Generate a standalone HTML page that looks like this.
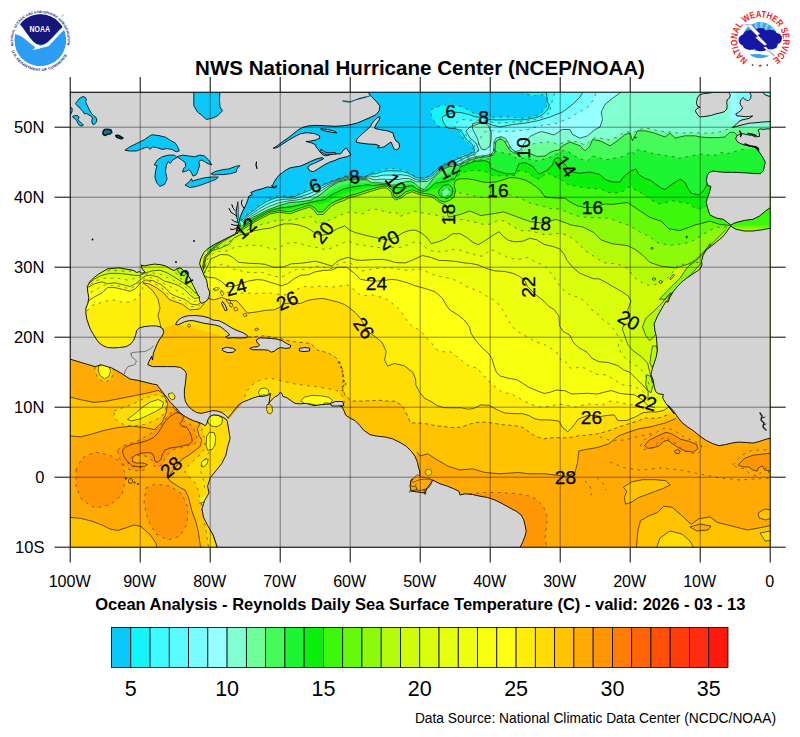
<!DOCTYPE html>
<html><head><meta charset="utf-8"><title>NHC SST</title>
<style>html,body{margin:0;padding:0;background:#fff;}svg{display:block;}text{font-family:"Liberation Sans",sans-serif;}</style>
</head><body>
<svg width="800" height="737" viewBox="0 0 800 737">
<rect width="800" height="737" fill="#fff"/>
<defs><clipPath id="mc"><rect x="70.2" y="92.2" width="700.0" height="455.0"/></clipPath></defs>
<g clip-path="url(#mc)">
<rect x="69" y="91" width="703" height="458" fill="#ffc300"/>
<polygon points="150.0,328.0 162.0,327.0 177.0,324.0 200.0,330.0 230.0,338.0 248.0,337.0 256.9,336.4 264.3,335.7 274.5,337.6 282.4,339.1 288.8,340.8 297.5,342.2 305.2,342.8 310.9,343.6 317.7,350.3 328.3,352.9 335.7,357.6 339.6,361.9 342.3,369.6 343.5,378.9 342.3,387.0 344.8,394.9 351.6,401.1 361.3,401.1 371.1,400.7 379.1,400.3 386.8,401.0 395.6,401.3 402.5,406.1 407.0,414.9 410.4,422.9 418.8,422.9 428.8,424.2 436.4,426.0 442.2,426.2 451.0,427.6 461.5,427.2 470.5,423.8 479.2,422.1 486.7,422.2 493.6,423.3 502.7,424.7 513.4,425.6 521.8,427.0 528.3,431.4 535.4,436.4 543.9,438.8 554.4,437.6 564.4,437.9 570.6,437.4 578.3,435.9 588.8,435.0 597.3,433.7 604.7,432.0 612.4,429.5 619.2,426.9 626.6,424.5 635.8,421.6 645.5,418.0 653.8,418.2 659.9,417.6 670.0,414.0 792.0,414.0 792.0,80.0 150.0,80.0 150.0,328.0" fill="#ffdc05"/>
<polygon points="207.5,298.0 213.7,299.9 221.8,297.4 228.8,300.4 236.8,300.7 242.3,307.0 247.3,313.1 255.7,312.1 265.7,310.3 273.8,309.9 279.1,307.7 284.6,303.7 292.2,302.6 300.2,303.5 307.1,300.6 314.5,299.2 322.2,298.4 330.6,300.2 338.1,302.2 344.6,304.4 350.4,308.5 355.1,312.5 360.4,318.2 365.3,327.0 369.6,332.9 375.1,336.7 382.0,342.3 386.2,351.4 384.6,360.0 387.7,366.1 394.5,363.5 404.3,365.8 412.8,372.3 415.6,379.0 415.9,385.2 419.9,392.6 424.8,398.5 431.5,401.7 437.1,405.6 443.4,407.6 452.2,407.8 461.2,407.8 468.1,409.2 473.9,408.4 481.0,404.8 489.3,405.4 497.1,409.8 504.8,413.0 514.0,413.6 523.2,413.7 529.5,415.8 534.2,418.6 540.5,419.9 549.7,419.9 558.9,421.1 562.9,427.9 567.7,431.7 572.7,426.9 578.3,419.0 586.9,415.8 594.1,415.2 600.4,416.5 607.2,415.4 614.3,414.9 617.8,420.7 626.8,420.4 635.0,417.1 643.1,412.7 650.5,411.8 656.2,412.0 663.5,410.5 672.0,405.0 792.0,405.0 792.0,80.0 205.5,80.0 205.5,298.0" fill="#ffee0a"/>
<polygon points="206.6,287.5 207.1,288.7 208.1,288.9 209.2,289.1 211.9,289.2 216.1,289.2 219.0,289.4 220.3,289.8 221.3,290.3 222.1,290.8 223.0,291.4 223.9,291.8 224.9,292.0 226.2,292.1 229.3,292.5 233.5,293.4 235.9,294.0 236.9,294.0 237.9,294.0 238.8,293.9 239.6,293.8 240.4,293.6 241.3,293.4 242.2,293.2 243.1,293.0 244.2,292.9 245.4,292.8 246.9,292.9 248.6,293.1 253.9,293.6 262.5,293.1 267.4,293.1 270.1,293.1 273.7,293.4 276.4,293.9 278.0,294.2 279.7,294.5 281.4,294.7 283.0,294.7 284.2,294.8 285.2,294.8 286.3,294.5 287.5,294.1 288.6,293.5 289.8,292.9 291.4,292.1 293.2,291.2 296.4,289.5 300.9,287.8 303.7,287.1 304.5,286.7 305.2,286.5 306.2,286.5 307.5,286.7 309.1,286.9 310.7,287.0 312.3,287.0 314.0,286.9 315.5,286.7 316.7,286.5 317.9,286.4 319.2,286.2 320.4,286.1 321.7,286.0 323.6,286.2 326.0,286.5 328.5,286.8 331.0,286.9 333.4,286.9 335.7,286.8 337.9,286.6 340.0,286.2 342.0,285.6 344.0,285.1 345.8,284.8 347.3,285.0 348.3,285.3 349.3,285.8 350.2,286.3 351.1,286.9 352.2,287.9 353.6,289.1 355.0,290.4 356.3,291.6 357.1,292.4 357.9,293.1 358.7,293.8 359.5,294.4 360.2,294.9 360.9,295.3 361.7,295.6 362.5,295.6 363.3,295.6 364.4,295.5 365.5,295.5 366.7,295.4 367.9,295.2 369.3,295.1 370.6,295.0 372.1,295.0 373.7,295.1 375.4,295.6 377.0,296.1 378.5,296.6 379.9,296.9 381.2,297.3 382.3,297.5 383.4,297.8 384.4,298.2 385.5,298.7 386.8,299.5 388.2,300.5 389.7,301.4 392.8,303.7 397.2,307.4 399.6,310.1 400.8,311.4 401.9,313.0 403.0,314.6 404.1,316.2 405.1,317.8 406.0,319.1 406.8,320.1 407.3,320.9 407.8,321.7 408.4,322.6 411.5,325.5 417.8,329.2 421.3,331.8 422.3,332.8 423.7,334.2 425.3,336.0 426.8,337.9 428.2,339.8 429.3,341.1 430.2,342.1 431.0,342.8 431.9,343.6 432.8,344.4 433.6,345.2 434.2,346.0 434.8,346.9 435.6,348.0 436.6,349.2 437.8,350.2 439.1,351.0 440.3,351.6 450.9,351.9 467.6,365.1 478.7,368.8 479.1,369.8 479.5,370.7 479.9,371.5 480.3,372.3 480.7,373.0 481.2,373.7 481.6,374.3 482.1,374.9 482.7,375.4 483.4,376.0 484.3,376.4 485.1,376.9 486.0,377.5 486.8,378.0 487.5,378.7 488.1,379.5 488.8,380.3 489.4,381.3 490.0,382.3 490.7,383.3 491.5,384.2 492.5,385.1 493.9,386.0 495.4,387.2 496.9,388.3 498.3,389.4 499.7,390.3 500.9,391.3 502.2,392.2 503.6,392.9 505.4,393.2 507.1,393.2 508.8,393.2 510.6,393.6 512.5,394.5 514.3,395.6 516.2,396.5 517.9,397.3 519.2,398.0 520.0,398.6 520.8,399.2 522.0,399.9 523.3,400.6 524.8,401.4 526.3,402.0 527.9,402.6 530.1,403.5 532.8,404.8 535.2,405.8 537.1,406.4 539.1,406.8 541.2,406.9 543.5,406.9 545.8,406.7 548.1,406.4 550.3,406.1 552.3,405.6 554.2,405.1 556.1,404.6 557.8,404.3 559.5,404.1 563.1,404.4 568.4,405.6 571.5,406.1 572.4,406.5 573.5,406.8 574.8,407.0 576.6,406.8 578.6,406.3 580.7,405.7 583.0,405.1 585.3,404.6 587.7,404.3 590.4,404.1 593.2,404.1 595.6,404.3 597.8,404.5 599.7,404.7 601.4,404.8 602.8,404.6 604.1,404.2 605.5,403.6 607.0,402.8 608.6,401.9 610.3,401.2 611.8,401.0 613.0,401.2 614.1,401.4 615.3,401.6 616.4,401.9 617.6,402.2 618.8,402.4 620.0,402.6 621.3,402.9 625.6,403.9 631.6,404.8 635.3,404.7 636.8,404.7 638.3,404.9 640.0,405.1 641.6,405.5 643.2,406.1 644.6,406.8 646.0,407.5 647.4,408.2 649.0,408.9 650.5,409.5 652.0,410.0 653.2,410.5 655.2,408.9 792.0,408.9 792.0,80.0 204.6,80.0 204.6,287.5" fill="#ffff14"/>
<polygon points="205.6,277.0 214.8,277.9 221.3,281.4 227.2,286.8 234.2,286.3 240.5,283.9 248.6,281.0 256.8,279.6 263.5,280.1 272.1,282.9 281.4,285.8 287.8,283.6 293.5,279.2 300.5,275.3 308.2,274.8 315.3,271.8 323.8,270.4 331.6,270.1 338.0,267.2 346.6,267.2 354.5,273.4 360.4,279.3 367.3,280.6 377.3,281.1 386.6,280.1 391.3,279.4 397.4,280.0 407.4,282.8 414.9,285.7 419.7,287.0 426.3,288.8 435.4,292.0 442.6,298.5 446.3,305.3 450.0,310.1 456.8,314.2 464.3,320.0 469.5,327.1 471.1,333.4 475.2,339.9 481.9,347.5 488.1,353.0 491.9,358.6 494.4,367.2 496.7,372.8 500.7,376.2 509.0,378.4 516.7,379.6 522.3,383.0 528.8,387.3 536.4,390.5 544.2,393.5 550.4,392.2 556.1,390.1 564.7,390.7 571.8,394.0 578.5,393.7 587.6,393.3 597.4,394.0 604.2,392.2 611.3,390.6 619.5,393.3 627.1,394.3 634.2,394.7 641.6,399.3 648.3,405.8 655.0,407.5 792.0,407.5 792.0,80.0 203.6,80.0 203.6,277.0" fill="#f7ff0f"/>
<polygon points="204.6,275.5 206.4,276.7 206.9,275.6 207.4,274.5 207.8,273.4 208.1,272.3 208.4,271.2 209.2,270.1 210.7,268.9 212.5,267.7 214.4,266.6 216.3,265.7 218.4,265.0 220.3,264.7 221.6,264.4 222.7,264.3 223.8,264.2 224.9,264.3 226.0,264.7 229.6,267.0 233.7,269.3 237.7,269.7 239.2,270.0 240.3,270.4 241.2,271.0 242.3,271.5 243.9,271.8 245.8,272.0 247.9,272.2 250.4,272.4 252.8,272.5 255.0,272.5 256.9,272.5 258.3,272.4 259.3,272.4 260.2,272.4 261.0,272.4 262.0,272.5 263.4,272.9 265.1,273.3 267.1,274.0 269.5,274.8 272.6,275.8 275.4,276.5 279.2,276.9 283.7,276.3 287.2,274.4 290.3,272.1 292.7,270.6 294.5,269.9 296.3,269.4 297.8,269.2 299.0,269.1 300.2,269.1 301.6,269.2 303.4,269.3 305.2,269.2 307.0,268.9 308.8,268.4 310.9,267.6 312.8,267.0 314.6,266.6 316.6,266.4 318.7,266.4 320.8,266.6 322.8,267.0 324.7,267.5 326.7,268.0 328.6,268.4 330.4,268.5 332.0,268.1 333.5,267.3 334.7,266.4 336.1,265.4 337.7,264.4 339.6,263.4 341.7,262.7 343.9,262.3 346.1,262.3 347.9,262.5 349.4,262.8 351.1,263.6 353.0,264.9 354.7,266.2 356.2,267.5 357.4,268.7 358.6,269.6 359.9,270.4 361.4,270.9 363.1,270.9 365.1,270.6 367.4,270.1 370.0,269.6 375.4,268.6 383.0,267.8 386.7,267.7 388.1,267.7 389.3,267.7 390.3,267.7 391.2,267.9 392.1,268.1 392.9,268.4 393.7,268.6 394.7,268.6 396.3,268.8 398.4,269.2 400.7,269.6 403.1,270.0 405.5,270.2 407.8,270.3 409.8,270.3 411.4,270.1 412.5,269.8 413.5,269.5 414.8,269.3 416.3,269.0 417.9,268.9 419.7,269.1 421.7,269.6 423.8,270.4 426.0,271.4 428.2,272.4 430.1,273.3 431.7,273.9 433.1,274.5 434.5,274.9 436.0,275.4 437.9,275.9 439.9,276.5 441.7,276.9 443.5,277.2 445.3,277.5 447.0,277.8 448.4,278.1 449.5,278.3 450.5,278.5 451.5,278.7 452.4,279.0 453.5,279.4 454.7,280.0 455.8,280.4 457.0,280.9 458.3,281.6 459.6,282.3 460.9,283.0 464.0,285.2 469.2,287.7 473.0,289.2 474.6,289.5 475.8,289.9 476.8,290.3 477.9,290.7 479.0,291.3 480.1,291.9 481.3,292.6 482.4,293.3 483.5,294.0 484.6,294.8 485.7,295.6 486.8,296.2 488.0,296.9 489.2,297.7 490.3,298.2 491.3,298.6 492.2,299.0 493.1,299.5 494.1,300.2 495.2,301.0 496.3,301.9 497.2,302.8 498.0,303.8 498.9,304.8 499.7,305.8 500.4,306.6 501.0,307.5 501.6,308.4 502.2,309.2 502.8,310.3 503.7,311.8 504.8,313.6 505.9,315.6 508.4,320.6 512.4,327.0 518.9,332.2 528.1,337.4 533.0,340.2 533.9,340.7 534.8,341.1 535.7,341.6 536.6,342.0 537.3,342.5 543.2,343.9 552.8,349.6 558.4,354.1 558.8,355.0 559.3,356.0 559.7,357.1 560.1,358.2 560.4,359.3 560.9,360.4 561.7,361.2 562.7,361.5 563.8,361.7 565.0,361.8 566.0,362.1 566.8,362.9 567.3,364.0 567.8,365.1 568.3,366.2 568.9,367.0 569.7,367.5 570.6,367.9 571.6,368.2 572.6,368.4 573.8,368.4 575.4,368.0 577.3,367.6 581.5,366.9 587.9,369.3 591.5,371.8 592.9,372.7 594.2,373.4 595.5,373.9 596.7,374.3 598.0,374.5 599.5,374.6 601.1,374.5 602.9,374.6 604.3,374.8 605.5,375.2 606.6,375.7 607.7,376.2 608.9,376.7 610.2,377.3 611.6,378.0 613.3,378.9 615.2,380.1 617.2,381.6 619.0,383.0 621.1,384.3 623.5,385.1 625.6,385.4 627.2,385.4 628.9,385.5 630.4,385.7 631.7,385.9 632.6,386.2 633.5,386.6 634.6,387.0 636.3,387.6 638.3,388.4 640.3,389.4 642.1,390.6 643.4,391.8 644.5,393.2 645.3,395.0 646.1,396.9 646.8,398.9 647.4,400.9 646.7,402.7 792.0,402.7 792.0,80.0 202.6,80.0 202.6,275.5" fill="#eeff0f"/>
<polygon points="203.5,274.0 206.8,267.9 210.9,259.0 220.7,254.5 227.9,254.9 232.3,257.1 238.5,262.3 250.0,263.4 259.3,263.7 265.3,264.4 274.1,267.4 283.4,267.0 291.4,263.8 300.4,263.3 308.1,262.3 315.2,261.2 324.3,263.6 331.9,266.2 338.7,260.4 347.9,257.3 356.0,260.0 361.8,260.4 371.4,259.7 382.3,259.3 389.0,260.5 395.5,262.6 405.7,262.9 414.4,259.2 422.4,255.5 431.2,257.5 438.8,260.4 446.8,260.6 456.5,261.5 463.9,262.9 469.7,263.3 478.2,264.9 487.0,268.7 494.9,270.9 504.4,271.4 513.8,273.6 519.7,276.6 524.7,280.6 527.6,286.7 535.1,294.2 543.9,301.2 548.9,306.6 553.9,309.3 559.0,316.1 559.6,326.1 562.8,331.2 569.6,335.0 573.5,342.8 579.1,347.8 586.9,352.2 592.3,358.5 598.8,361.7 608.4,362.5 617.8,365.6 623.5,369.8 630.1,372.5 637.0,379.6 643.7,385.9 648.1,391.5 648.0,401.0 792.0,401.0 792.0,80.0 201.5,80.0 201.5,274.0" fill="#e4ff0f"/>
<polygon points="203.4,271.9 205.2,272.3 205.4,269.9 205.5,267.5 205.6,265.0 205.9,262.6 206.6,260.6 208.1,258.3 210.1,256.0 212.3,254.1 214.6,252.6 216.8,251.7 219.2,251.3 221.7,251.1 224.0,251.1 226.1,251.0 227.9,250.8 229.4,250.3 230.4,249.8 231.3,249.1 232.2,248.5 233.1,247.9 234.1,247.4 235.3,247.0 236.9,246.8 238.8,246.7 240.9,246.6 243.1,246.5 245.0,246.2 246.6,245.7 248.0,245.1 251.8,245.2 257.1,245.4 260.3,245.8 262.2,245.9 264.1,246.4 266.1,247.1 268.3,247.9 271.5,248.9 275.6,249.0 278.7,247.9 281.0,246.7 283.4,245.3 285.9,244.1 289.3,242.9 293.7,242.4 296.9,242.8 299.0,243.4 300.9,243.9 302.5,244.4 303.7,244.8 304.6,245.0 305.4,245.3 306.3,245.6 307.3,245.8 308.2,246.0 309.4,246.2 311.1,246.5 313.3,246.9 315.9,247.4 318.5,248.0 321.2,248.7 323.6,249.2 327.8,249.2 333.4,247.4 337.8,245.2 340.6,243.8 343.5,242.6 346.0,241.7 347.9,241.2 349.3,241.3 350.5,241.8 351.9,242.5 353.6,243.3 355.3,243.9 357.0,244.3 358.6,244.6 360.2,244.7 361.8,244.9 363.2,245.1 364.4,245.4 365.9,245.8 368.0,246.2 370.6,246.5 373.4,246.9 376.1,247.2 378.7,247.5 381.0,247.7 382.9,248.0 384.6,248.2 386.3,248.3 388.1,248.0 389.8,247.6 393.3,247.3 398.8,247.4 402.7,247.0 404.7,246.2 406.5,245.4 407.8,244.8 409.0,244.3 410.5,243.6 412.2,242.9 414.0,242.3 416.0,241.8 417.7,241.8 419.2,242.3 420.5,243.0 421.6,243.8 422.6,244.6 423.4,245.5 424.4,246.5 425.7,247.7 427.5,249.0 429.4,250.2 431.1,250.8 432.8,251.0 434.4,251.3 436.1,251.4 438.2,251.6 440.8,251.7 443.4,251.6 445.7,251.2 448.1,250.6 450.6,249.8 453.2,249.4 455.6,249.4 457.7,249.7 459.5,250.0 461.6,250.6 463.7,251.2 465.6,251.9 467.4,252.6 469.1,253.1 471.5,253.6 474.6,254.4 477.3,255.3 479.4,255.9 481.4,256.1 483.2,255.7 484.7,255.0 485.9,254.1 486.7,253.1 487.5,252.2 488.4,251.2 489.3,250.2 490.3,249.6 491.9,249.9 493.9,250.7 496.0,251.7 498.0,252.7 500.0,253.6 502.0,254.4 503.9,255.4 505.7,256.4 507.4,257.2 509.8,258.0 512.8,258.7 515.3,259.1 517.5,259.2 519.7,259.2 521.7,259.0 523.4,258.7 524.9,258.3 526.3,257.8 527.7,257.6 528.9,258.0 530.4,258.9 532.3,260.1 534.3,261.4 536.1,262.5 537.3,263.1 538.4,263.4 539.3,263.7 540.3,263.9 541.2,264.0 542.1,264.3 542.9,264.8 543.9,265.4 544.8,266.0 545.6,266.7 546.3,267.5 546.9,268.3 547.7,269.4 548.8,270.8 551.6,273.9 555.9,280.1 559.7,285.9 562.2,288.5 564.3,290.6 566.5,292.4 568.6,293.9 570.3,294.8 571.5,295.4 572.6,295.8 573.6,296.2 574.5,296.5 575.5,296.7 576.4,296.8 577.4,296.9 578.3,297.0 579.1,297.3 579.9,297.7 580.6,298.2 581.4,298.7 582.2,299.3 583.1,299.9 585.5,302.3 590.5,308.0 593.8,312.0 595.2,312.7 596.5,313.3 597.6,314.1 601.1,317.9 605.9,322.3 609.2,324.0 610.2,324.6 611.1,325.5 611.5,326.7 613.0,328.5 615.4,331.1 616.6,333.3 617.0,334.8 618.6,336.9 620.7,339.6 621.8,341.7 622.0,342.9 621.5,343.5 620.2,343.4 618.6,344.1 618.0,346.5 618.8,349.1 620.1,351.0 621.5,352.9 622.8,354.6 623.8,356.1 624.9,357.6 626.4,359.2 628.2,360.8 630.1,362.1 632.2,363.3 634.1,364.3 635.4,365.1 636.4,365.8 637.4,366.5 638.4,367.2 639.6,368.2 641.1,369.7 642.6,371.6 644.1,373.9 645.7,376.6 647.2,379.7 648.2,382.3 648.9,384.4 649.4,386.2 649.2,386.3 792.0,386.3 792.0,80.0 201.4,80.0 201.4,271.9" fill="#daff0c"/>
<polygon points="202.5,271.5 204.2,266.7 206.1,257.6 212.1,250.5 221.1,247.9 229.0,244.3 233.6,238.3 239.7,235.1 247.4,233.1 254.7,230.6 262.7,229.1 270.9,228.0 277.5,225.7 283.9,223.9 291.3,223.8 299.5,225.2 306.9,227.8 313.4,231.8 320.8,235.4 328.7,234.1 336.8,229.0 344.7,225.9 350.2,230.5 356.3,232.9 363.8,234.8 372.2,236.9 380.3,238.6 387.8,240.0 396.0,237.1 403.1,232.7 409.1,230.5 415.0,230.1 421.2,232.8 427.0,237.4 431.3,243.7 439.3,241.5 446.0,238.6 452.4,233.8 460.1,233.7 466.7,237.4 472.4,242.0 478.2,244.7 483.5,241.7 492.2,235.8 499.1,231.7 503.2,236.4 508.4,240.3 515.0,241.9 523.0,241.2 529.8,238.3 536.8,239.8 544.0,244.4 551.8,246.2 559.6,248.8 564.2,254.3 567.0,260.5 572.8,267.3 579.3,273.0 587.0,276.2 593.3,278.7 598.9,278.8 604.9,281.8 613.8,287.0 622.5,292.1 628.3,296.1 631.1,301.1 627.8,309.7 629.5,317.3 630.0,323.3 623.6,325.2 622.4,329.1 625.5,338.2 628.3,345.3 633.0,350.7 641.0,356.4 647.5,363.1 649.0,369.0 650.7,376.2 652.5,383.0 792.0,383.0 792.0,80.0 200.5,80.0 200.5,271.5" fill="#d0fc0a"/>
<polygon points="203.2,269.1 203.8,269.6 203.6,267.2 203.6,264.7 203.8,262.0 204.3,259.4 205.3,256.8 206.8,254.2 208.5,252.0 210.4,250.2 212.8,249.0 215.5,248.1 218.5,247.4 221.5,246.6 224.2,245.5 226.6,244.2 228.5,242.7 230.1,240.9 231.4,239.0 232.5,237.2 233.7,235.7 235.2,234.6 237.0,233.8 239.0,233.0 241.2,232.3 243.5,231.6 245.7,230.8 247.9,229.9 250.2,228.9 252.4,227.8 254.6,226.9 256.8,226.0 258.9,225.2 261.0,224.6 263.2,224.1 265.3,223.6 267.3,223.1 269.3,222.5 271.4,221.8 273.4,221.3 275.3,220.9 277.4,220.5 279.7,220.3 281.9,220.2 284.1,220.2 286.3,220.3 288.3,220.3 290.0,220.1 291.9,219.9 294.2,219.4 296.8,218.9 299.5,218.3 302.3,217.8 305.1,217.3 307.7,216.9 309.7,216.6 311.1,216.9 312.6,217.9 314.0,219.3 315.0,221.0 316.0,222.5 317.3,223.4 318.8,223.8 320.1,223.5 323.3,222.3 329.5,219.9 334.2,218.1 336.3,216.8 338.0,215.8 339.3,215.3 340.4,214.8 341.6,214.5 342.9,214.1 344.3,213.8 345.5,213.4 346.5,213.0 347.6,212.6 348.7,212.3 349.9,212.1 351.0,211.9 352.3,211.9 355.2,212.6 359.4,213.8 362.4,213.8 364.2,213.1 365.6,212.3 366.8,211.5 368.0,210.7 369.3,209.9 371.1,209.3 377.9,209.4 388.7,212.8 393.7,211.8 394.7,211.9 395.8,212.2 396.8,212.9 397.3,213.9 397.6,215.2 398.1,216.1 399.3,216.4 401.6,215.8 404.5,214.7 407.2,213.8 409.6,212.9 411.7,212.2 413.5,211.8 414.7,211.4 415.6,211.4 416.4,211.7 417.3,212.2 418.3,212.5 419.3,212.8 420.2,212.9 421.2,212.9 422.3,212.8 423.4,212.8 424.5,213.0 425.7,213.4 426.8,213.8 433.6,214.5 442.8,217.0 446.2,217.3 446.9,217.6 447.6,218.1 448.2,218.9 448.8,219.9 449.3,221.1 449.9,222.3 450.6,223.0 451.5,222.9 452.6,222.4 453.8,221.8 455.1,221.2 456.6,220.7 458.2,220.2 459.8,219.8 461.4,219.5 463.5,219.6 466.1,220.2 472.2,221.6 479.4,223.5 484.4,224.6 486.1,224.7 487.8,224.5 489.4,224.1 490.7,223.7 492.1,223.3 493.3,222.8 494.4,222.3 495.4,221.8 496.5,221.3 497.6,220.8 498.7,220.4 499.8,220.2 500.9,220.3 502.1,220.6 503.3,220.9 504.7,221.4 510.2,224.4 518.7,229.8 523.2,230.9 525.0,230.8 526.7,230.6 528.3,230.7 529.5,230.9 530.8,231.1 532.3,231.4 533.7,231.7 535.0,232.1 536.5,232.5 538.4,233.0 540.5,233.6 542.6,234.2 544.6,234.5 547.0,234.6 549.9,234.4 552.6,233.9 555.0,233.6 557.7,233.5 560.2,233.6 562.1,233.8 563.5,234.1 564.9,234.5 566.7,235.2 568.7,236.2 570.7,237.4 572.4,238.7 573.8,239.8 574.8,240.5 575.6,241.2 576.3,241.7 577.2,242.3 578.1,243.0 579.1,244.0 580.4,245.5 581.9,247.3 583.9,249.8 589.4,253.4 596.9,258.3 601.1,261.2 602.8,261.9 604.0,262.5 605.2,262.8 606.6,263.1 608.2,263.4 609.7,263.5 611.2,263.5 612.9,263.6 615.1,263.8 617.7,264.3 620.2,265.0 623.2,266.0 626.1,267.7 627.9,269.2 629.1,270.5 630.2,271.8 631.0,273.0 631.6,273.9 632.3,274.9 633.0,276.0 633.9,277.0 634.8,277.8 636.1,278.8 637.9,280.1 640.1,281.6 642.3,283.0 644.5,284.2 646.4,284.9 647.9,285.1 649.2,285.2 650.6,285.2 652.0,285.2 653.4,285.0 654.8,284.6 656.2,284.1 657.6,283.6 659.1,283.1 660.4,282.6 661.8,282.0 663.0,281.5 664.2,280.9 665.1,280.2 665.9,279.5 666.7,278.7 667.4,278.0 668.1,277.2 668.9,276.5 669.6,275.7 670.4,274.9 671.2,274.0 672.0,273.1 672.8,272.2 673.6,271.1 674.4,270.1 675.1,269.0 675.9,267.9 676.6,266.9 677.3,265.8 678.0,264.9 681.4,264.3 689.6,264.2 699.0,262.0 792.0,262.0 792.0,80.0 201.2,80.0 201.2,269.1" fill="#b4fa0a"/>
<polygon points="203.0,269.0 205.6,257.0 213.0,249.4 222.5,242.0 232.0,236.0 239.0,232.0 249.5,225.0 260.0,219.0 270.5,213.8 279.5,212.2 290.0,213.8 300.5,210.0 309.5,207.0 314.0,210.0 317.0,214.5 323.0,214.5 327.5,210.0 332.0,205.5 338.0,202.5 344.0,200.5 349.0,197.8 358.0,195.5 367.0,192.5 374.5,190.2 382.0,188.0 386.5,188.0 391.0,191.8 392.5,197.0 395.5,200.0 401.5,197.8 406.0,194.0 412.0,191.8 418.0,194.0 424.0,195.5 430.0,196.2 434.5,198.5 439.0,202.2 445.0,204.5 447.2,210.5 448.0,216.5 450.0,217.0 460.0,214.5 470.0,211.0 481.0,215.6 492.5,213.8 503.8,211.9 518.8,217.5 530.0,221.5 540.5,223.0 550.0,221.0 556.2,219.4 571.2,225.0 582.5,226.9 593.8,232.5 601.2,240.0 612.5,243.8 627.5,245.6 635.0,249.4 642.5,255.0 650.0,262.5 661.2,266.2 676.2,268.0 687.5,264.4 695.0,260.6 702.5,253.0 710.0,245.6 717.5,238.0 726.0,229.5 792.0,229.5 792.0,80.0 201.0,80.0 201.0,269.0" fill="#8cfa0a"/>
<polygon points="202.9,267.6 203.4,265.3 203.8,262.9 204.3,260.6 204.8,258.4 205.7,256.5 207.1,254.7 208.7,253.0 210.3,251.3 212.0,249.6 213.7,248.1 215.5,246.6 217.4,245.1 219.2,243.7 221.1,242.2 223.0,240.9 225.0,239.6 227.0,238.4 229.0,237.1 231.0,235.8 233.0,234.6 235.1,233.5 237.1,232.3 239.1,231.0 241.1,229.7 243.1,228.4 245.1,227.1 247.1,225.8 249.0,224.5 251.0,223.3 253.1,222.1 255.1,220.9 257.2,219.8 259.2,218.6 261.3,217.5 263.4,216.4 265.5,215.3 267.6,214.3 269.7,213.3 271.8,212.7 274.1,212.3 276.4,211.9 278.7,211.6 280.9,211.6 283.2,211.9 285.5,212.2 288.0,212.4 290.5,212.3 292.9,211.7 295.1,210.9 297.3,210.1 299.5,209.4 301.8,208.6 304.0,207.8 306.3,207.1 308.3,206.5 310.2,206.6 312.0,207.5 313.7,208.7 315.3,210.2 317.0,211.8 319.4,212.9 322.0,212.8 324.3,211.5 326.2,209.8 327.9,208.1 329.5,206.5 331.2,205.0 333.0,203.8 335.1,202.7 337.2,201.7 339.3,200.9 341.5,200.1 343.8,199.3 346.0,198.2 348.1,197.3 350.2,196.5 352.4,195.9 354.7,195.3 357.0,194.7 359.3,194.0 361.6,193.2 363.8,192.5 366.1,191.7 368.3,191.1 370.6,190.4 372.9,189.7 375.1,189.1 377.4,188.4 379.7,187.8 381.9,187.3 384.1,187.1 386.2,187.3 387.9,188.0 389.6,189.3 391.1,190.9 392.1,192.6 392.9,194.8 394.3,197.0 396.5,198.1 398.9,197.7 401.0,196.6 403.1,195.2 404.9,193.8 406.8,192.7 408.9,191.9 410.9,191.3 412.8,191.3 414.9,191.9 417.2,192.7 419.5,193.3 421.8,194.0 424.2,194.5 426.6,194.8 428.8,195.1 430.9,195.7 433.0,196.6 435.0,197.7 436.7,199.1 438.6,200.6 440.7,201.7 443.0,202.5 444.9,202.9 446.4,202.7 447.5,202.3 448.5,201.6 449.2,200.8 449.7,199.8 450.0,198.6 450.1,197.5 449.9,196.3 449.7,195.2 449.8,194.0 450.2,193.0 451.0,192.3 452.1,191.9 453.2,191.7 457.6,192.5 465.1,194.1 469.4,195.0 470.6,195.2 471.7,195.4 472.9,195.6 474.0,195.9 475.2,196.2 476.6,196.6 480.7,197.2 487.4,197.8 492.0,197.9 494.3,197.7 496.7,197.4 499.0,197.0 501.0,196.6 502.4,196.2 503.5,195.8 504.6,195.4 505.8,195.1 506.9,194.8 508.1,194.8 509.4,194.9 511.0,195.2 513.0,195.8 515.2,196.4 517.5,197.2 519.7,198.0 521.8,198.9 524.0,200.0 526.2,201.0 528.3,202.1 530.3,203.2 534.5,204.4 540.8,205.6 544.4,206.6 545.6,207.5 547.1,208.2 548.8,208.6 550.9,208.7 552.7,208.6 554.3,208.7 555.7,208.7 557.0,208.8 558.2,208.8 559.4,208.8 560.8,209.1 562.6,209.9 564.6,211.0 566.7,212.0 568.8,213.0 571.4,214.0 574.6,215.1 577.3,215.9 579.6,216.4 581.8,216.8 583.8,217.1 585.3,217.2 586.7,217.3 588.2,217.4 590.0,217.4 591.9,217.5 593.8,217.5 595.7,217.6 597.7,217.7 599.6,218.0 601.3,218.3 602.6,218.4 603.8,218.4 604.9,218.2 606.1,218.1 607.3,218.0 611.8,219.3 619.9,222.3 625.1,224.0 627.2,224.6 628.9,225.4 630.3,226.1 631.5,226.8 632.7,227.5 633.6,228.1 634.6,228.8 635.8,229.5 637.5,230.5 639.4,231.7 641.4,232.8 643.1,233.6 644.4,234.1 645.7,234.6 647.3,235.3 649.2,236.4 651.0,237.7 652.7,239.1 654.0,240.2 655.0,241.2 659.2,243.4 670.5,245.2 683.0,243.8 688.7,242.2 690.3,241.9 692.0,241.3 693.8,240.2 695.7,239.1 697.5,237.9 699.5,236.7 701.4,235.5 703.3,234.3 705.1,233.2 707.0,232.2 708.8,231.2 710.7,230.2 712.5,229.2 714.4,228.2 716.1,227.5 717.7,227.3 719.2,227.3 720.7,227.3 722.3,227.2 723.7,227.1 725.0,227.2 726.1,227.3 727.3,227.4 728.5,227.5 792.0,227.5 792.0,80.0 200.9,80.0 200.9,267.6" fill="#64fa0a"/>
<polygon points="202.5,267.5 204.6,256.5 212.0,248.6 221.5,241.0 231.0,235.0 238.0,231.0 248.5,224.0 259.0,217.8 269.5,212.3 279.5,210.5 290.0,211.8 300.5,208.0 309.5,205.0 315.0,208.0 318.0,212.0 322.5,212.0 326.5,208.0 331.0,203.5 337.0,200.5 343.0,198.5 348.5,196.0 357.5,193.5 366.5,190.5 374.0,188.4 382.0,186.2 387.5,186.2 392.5,190.5 394.0,196.0 396.0,198.0 401.0,195.8 405.5,192.0 412.0,189.8 418.0,192.0 424.0,193.5 430.0,194.2 435.0,196.2 439.5,200.5 445.0,202.0 449.5,200.5 454.0,197.0 455.5,191.0 454.0,185.0 455.5,180.5 460.0,178.8 467.5,178.8 475.0,180.0 482.5,182.0 488.8,182.5 496.0,182.0 502.5,180.0 510.0,177.5 517.5,178.0 525.0,180.0 530.0,182.5 535.0,186.0 540.0,190.0 545.0,197.0 555.0,198.0 565.0,198.2 570.0,202.0 577.5,205.8 585.0,207.5 593.0,207.5 605.0,204.0 612.5,204.4 627.5,202.5 638.8,210.0 650.0,217.5 661.2,221.2 668.8,228.8 680.0,230.6 695.0,225.0 710.0,221.2 720.0,224.5 731.0,225.5 792.0,225.5 792.0,80.0 200.5,80.0 200.5,267.5" fill="#3cf80a"/>
<polygon points="243.2,227.0 244.9,225.7 246.6,224.4 248.4,223.2 250.2,222.0 252.1,220.9 253.9,219.8 255.8,218.7 257.7,217.6 259.6,216.6 261.5,215.6 263.4,214.6 265.4,213.6 267.3,212.6 269.2,211.8 271.2,211.2 273.2,210.7 275.4,210.2 277.4,209.8 279.4,209.4 281.4,209.3 283.5,209.3 285.6,209.3 288.0,209.2 290.7,208.9 293.0,208.4 295.1,207.9 297.2,207.3 299.2,206.7 301.3,206.1 303.4,205.5 305.5,205.0 307.5,204.4 309.2,204.0 310.7,203.8 312.4,203.8 314.1,204.0 315.8,204.1 318.9,203.9 323.6,203.2 326.8,202.3 328.2,201.4 329.6,200.4 331.2,199.4 333.0,198.3 334.8,197.4 336.5,196.5 338.4,195.8 340.5,194.9 342.7,194.0 344.8,193.2 346.6,192.5 348.4,191.9 350.4,191.4 352.5,190.9 354.7,190.4 356.8,189.9 359.0,189.4 361.1,188.9 363.2,188.4 365.2,187.9 367.3,187.5 369.3,187.3 371.3,187.1 373.4,186.9 375.5,186.6 377.6,186.2 379.7,185.8 381.7,185.5 383.8,185.5 385.9,185.6 387.8,186.0 389.5,186.8 391.3,187.8 392.9,188.6 394.3,188.9 396.9,189.2 401.2,189.8 404.2,189.9 405.8,189.4 407.7,188.8 409.6,188.2 411.3,188.0 412.9,188.3 414.6,189.1 416.4,190.0 418.4,190.9 420.5,191.5 422.6,192.0 424.7,192.1 426.7,191.9 428.4,191.4 429.9,190.8 431.0,190.1 432.0,189.5 433.3,189.1 435.0,189.0 439.2,187.7 445.4,184.8 449.0,183.2 450.2,182.7 451.4,181.9 452.6,180.8 453.7,180.0 454.9,179.4 456.0,178.5 457.2,177.3 458.3,176.1 459.0,175.0 459.6,174.0 460.7,173.2 462.2,172.6 464.1,172.1 465.9,171.6 467.5,171.2 469.1,170.9 470.8,170.6 472.7,170.5 474.8,170.5 476.6,170.5 478.3,170.6 480.2,170.7 482.7,171.1 486.0,171.8 489.0,172.5 490.5,173.2 491.0,174.2 491.7,175.1 493.6,175.5 496.2,175.7 498.3,175.8 500.2,175.9 502.1,176.0 504.0,176.0 506.0,176.0 507.9,175.8 509.7,175.7 511.5,175.7 513.4,175.6 514.9,175.2 515.8,174.4 516.5,173.4 517.2,172.4 517.8,171.5 518.7,170.9 520.1,170.7 522.0,170.8 524.0,171.2 525.9,171.8 527.4,172.5 528.6,173.2 530.1,174.2 531.6,175.4 532.9,176.6 534.2,177.7 535.8,178.5 537.3,178.8 538.7,178.7 540.0,178.4 541.2,178.0 542.1,177.5 542.9,176.7 543.6,175.9 544.1,175.0 544.4,173.8 544.7,172.8 545.5,172.3 546.8,172.3 548.3,173.1 549.8,174.4 554.0,176.6 560.8,179.8 564.7,181.7 565.6,182.5 566.4,183.3 567.3,184.0 568.4,184.7 569.4,185.2 570.5,185.5 571.5,185.7 572.6,185.8 573.7,185.7 574.9,185.7 577.1,186.3 583.4,187.6 592.4,188.5 597.5,188.8 599.3,188.8 600.7,189.0 601.8,189.3 602.9,189.8 603.9,190.5 604.8,191.2 605.8,191.8 607.3,192.3 609.7,192.6 612.8,192.9 615.5,192.9 617.6,192.8 619.7,192.6 621.5,192.1 623.0,191.3 624.3,190.3 625.4,189.4 626.3,188.7 627.2,188.1 628.1,187.4 629.2,186.9 630.4,186.4 631.3,186.2 632.1,186.5 632.6,187.3 633.2,188.2 633.9,188.9 634.7,189.6 635.8,190.2 637.3,191.0 639.1,191.9 641.0,192.9 642.8,194.0 644.6,195.2 646.4,196.5 648.2,197.7 649.9,199.0 651.7,200.2 654.5,201.7 658.2,203.4 660.9,204.0 662.4,203.6 663.8,203.2 665.3,202.7 666.7,202.3 667.7,201.7 668.7,201.1 669.6,200.6 670.6,200.5 676.0,201.4 685.4,202.9 690.5,204.1 691.3,205.0 692.0,205.9 692.9,206.8 693.9,207.6 695.0,208.2 696.6,208.6 698.5,208.7 700.5,208.6 702.4,208.3 704.1,207.5 705.6,206.6 706.7,205.7 707.4,204.8 708.0,203.9 708.4,202.9 708.9,201.9 709.3,200.9 709.7,199.9 710.1,198.9 710.5,197.9 711.6,196.9 714.0,196.0 792.0,196.0 792.0,80.0 241.2,80.0 241.2,227.0" fill="#0af00a"/>
<polygon points="243.0,226.7 244.4,225.4 245.9,224.1 247.4,222.9 249.0,221.9 250.7,220.8 252.4,219.7 254.1,218.7 255.8,217.7 257.6,216.8 259.3,215.9 261.0,215.0 262.8,214.1 264.6,213.1 266.4,212.2 268.2,211.3 269.6,210.8 271.5,210.2 273.4,209.7 275.3,209.2 277.2,208.7 279.0,208.2 280.3,207.9 282.1,207.7 284.0,207.5 285.9,207.4 287.7,207.2 291.7,206.6 293.6,206.2 295.5,205.8 297.4,205.4 299.3,205.0 301.1,204.6 303.0,204.2 304.9,203.7 306.9,203.3 308.6,202.9 309.9,202.7 310.8,202.4 311.8,202.0 313.1,201.8 314.5,201.5 315.8,201.2 325.3,199.5 326.5,198.5 327.2,197.8 328.2,197.1 329.8,196.0 331.5,194.9 333.2,193.9 334.3,193.3 335.7,192.6 337.5,191.8 339.3,191.0 341.9,189.8 343.7,189.1 345.3,188.6 346.4,188.3 348.3,187.8 350.2,187.3 352.1,187.0 354.0,186.7 356.3,186.4 358.2,186.1 360.1,185.9 362.0,185.6 363.9,185.3 365.5,185.1 367.4,184.8 369.1,184.9 370.6,185.2 372.0,185.6 373.9,185.5 375.8,185.2 377.7,185.0 379.6,184.7 381.5,184.6 383.1,184.7 385.1,184.8 387.0,184.9 388.2,185.3 389.8,186.1 391.4,186.7 393.0,187.1 394.5,187.6 395.6,187.4 403.0,187.8 404.1,187.4 405.8,186.7 407.7,186.3 409.6,185.8 410.9,185.6 412.1,185.9 413.0,186.4 414.3,187.1 415.8,188.1 417.4,189.1 419.2,190.1 421.1,190.7 423.0,191.2 424.8,191.0 426.1,190.4 427.4,189.7 428.6,189.0 429.7,188.3 430.7,187.5 431.3,186.7 431.9,186.0 432.6,185.2 433.5,184.5 434.2,183.9 435.1,183.3 448.3,180.9 449.1,180.3 450.0,179.9 450.9,179.4 451.8,179.0 452.8,178.8 453.8,178.7 454.8,178.5 460.0,167.5 467.5,163.8 475.0,161.2 485.0,160.6 490.0,163.0 490.6,168.0 497.5,171.2 506.2,173.8 515.0,173.8 518.8,163.8 525.0,162.5 532.5,166.2 537.5,172.5 540.0,173.8 547.5,170.0 552.5,165.0 554.5,159.0 558.0,157.5 561.0,159.5 563.0,162.0 566.0,166.0 572.5,172.0 580.0,173.2 590.0,172.0 600.0,174.5 605.0,179.5 612.5,182.0 620.0,182.0 623.8,176.4 631.2,170.8 636.0,168.9 638.8,174.5 644.4,178.2 650.0,180.0 655.6,184.0 660.3,187.6 665.0,189.5 672.5,183.9 680.0,179.2 684.7,182.0 687.5,187.6 691.2,193.2 698.8,195.0 704.4,189.5 708.0,182.0 710.0,176.4 712.0,172.6 792.0,172.6 792.0,80.0 241.0,80.0 241.0,226.7" fill="#1ef532"/>
<polygon points="242.8,226.3 244.3,224.7 245.9,223.2 247.6,221.9 249.5,220.6 251.3,219.4 253.2,218.2 255.2,217.1 257.2,216.1 259.1,215.1 261.1,214.0 263.2,213.0 265.2,212.0 267.2,211.0 269.2,210.2 271.2,209.5 273.4,208.8 275.5,208.1 277.6,207.4 279.7,206.8 281.8,206.3 283.9,205.9 286.1,205.5 288.4,205.1 290.6,204.6 292.9,204.3 295.1,204.0 297.3,203.7 299.5,203.3 301.8,203.0 304.0,202.6 306.2,202.2 308.4,201.8 310.6,201.3 312.7,200.6 314.6,199.9 316.6,199.1 318.6,198.3 320.6,197.5 322.8,196.4 325.3,194.9 327.3,193.5 329.0,192.2 330.7,191.0 332.5,189.9 334.3,188.9 336.2,187.9 338.2,186.9 340.1,186.1 342.1,185.4 344.1,184.9 346.1,184.3 348.2,183.8 350.2,183.4 352.2,183.2 354.4,183.1 356.7,183.0 358.9,182.8 361.1,182.7 363.3,182.5 365.4,182.4 367.4,182.6 369.1,183.1 371.0,183.7 373.3,184.0 375.7,184.0 377.9,183.9 380.1,183.8 382.3,183.9 384.5,184.0 386.6,184.3 388.7,184.9 390.8,185.6 393.1,186.0 395.5,186.1 397.6,186.1 399.7,185.8 402.0,185.3 404.5,184.6 406.8,184.1 408.8,183.7 410.5,183.7 412.1,184.1 413.8,185.0 415.5,186.1 417.2,187.5 419.1,188.7 421.4,189.6 423.7,189.8 425.9,189.1 427.8,187.7 429.7,185.9 431.2,184.3 432.5,182.8 433.6,181.6 434.8,180.5 436.1,179.5 437.7,178.6 439.5,177.6 441.3,176.7 443.6,175.7 447.1,173.9 450.8,171.3 453.0,169.5 454.4,168.6 455.8,167.8 457.2,167.1 458.5,166.6 460.0,166.1 461.8,165.3 463.8,164.4 465.8,163.4 467.7,162.5 469.8,161.7 471.9,160.9 473.9,160.2 475.9,159.8 478.1,159.5 480.3,159.2 482.5,159.0 484.5,158.9 486.2,158.8 487.9,158.9 489.6,158.9 491.0,158.6 491.8,157.8 492.1,156.7 491.9,155.5 491.6,154.2 491.4,152.9 491.6,151.8 492.5,151.1 494.0,150.9 495.6,151.2 496.7,151.7 501.0,152.6 508.8,153.8 513.0,154.8 513.6,155.8 514.2,156.7 515.0,157.5 516.0,158.0 517.1,158.4 518.5,158.5 520.5,158.4 522.5,158.2 524.2,158.0 525.7,158.0 527.0,158.2 528.6,158.7 530.5,159.4 532.5,160.3 534.3,161.0 538.4,160.5 545.1,158.9 549.0,157.8 550.1,157.3 551.0,156.7 552.1,156.0 553.4,155.3 555.1,154.6 556.6,154.1 557.8,153.8 558.7,153.2 559.6,152.5 560.6,151.8 561.6,151.3 562.6,150.8 563.8,150.4 565.3,150.6 566.8,151.2 567.9,151.7 569.1,152.1 570.4,152.9 571.7,154.1 575.8,156.6 582.8,159.7 587.1,160.9 588.5,160.2 589.4,159.4 590.1,158.5 590.5,157.5 591.0,156.5 591.7,156.0 592.8,156.0 594.2,156.3 596.0,156.7 598.0,157.4 600.1,158.1 602.1,158.9 603.8,159.6 605.0,159.8 609.8,159.0 618.5,157.5 623.4,156.4 624.4,155.7 625.7,154.9 627.2,153.9 628.8,152.9 630.0,152.1 631.0,151.7 632.0,151.5 632.8,151.7 633.3,152.6 633.6,153.7 634.0,154.3 634.5,154.0 634.9,153.1 635.5,152.1 636.0,151.1 636.6,150.3 637.5,149.9 638.6,149.9 639.7,149.9 640.8,150.1 642.0,150.4 643.3,150.7 644.4,151.0 645.5,151.3 646.6,151.7 647.6,152.0 648.7,152.4 649.7,152.8 656.2,154.0 668.1,156.1 674.5,156.8 675.3,156.8 676.1,157.4 676.9,158.1 677.9,158.5 678.9,158.4 680.0,158.1 681.1,157.8 682.2,157.6 687.3,156.7 696.4,155.0 701.5,154.2 702.6,154.2 703.8,154.3 704.9,154.5 706.0,154.7 707.1,154.9 708.2,155.0 709.3,155.0 710.4,155.1 711.6,155.1 712.7,155.1 713.8,155.1 714.9,155.1 716.1,155.0 717.2,154.9 718.2,154.7 719.1,154.1 719.9,153.4 720.8,152.7 721.8,152.5 722.9,152.6 723.7,153.2 724.5,154.0 727.5,153.6 735.1,151.4 745.0,149.0 792.0,149.0 792.0,80.0 240.8,80.0 240.8,226.3" fill="#46fa5a"/>
<polygon points="242.5,226.0 246.0,222.0 252.5,217.5 267.5,210.0 279.5,205.5 290.0,202.5 300.5,201.8 311.0,200.2 320.0,195.0 329.0,187.5 338.0,182.2 349.0,179.5 358.0,179.8 367.0,179.8 371.5,182.8 379.0,182.8 386.5,183.5 391.0,185.0 397.0,185.0 404.5,182.0 410.5,181.2 415.0,183.5 419.5,188.0 424.0,189.5 428.5,185.0 433.0,179.0 436.0,175.2 442.0,170.0 448.0,167.0 454.0,166.0 460.0,165.0 467.5,161.2 473.8,158.8 480.0,157.5 486.2,156.9 492.5,155.6 495.0,151.9 495.2,146.9 495.6,142.8 497.5,140.0 501.2,139.0 504.4,141.0 506.9,145.6 509.8,150.2 513.8,153.0 518.8,153.8 525.0,153.2 531.0,154.0 537.5,156.5 545.0,156.0 550.0,152.5 555.0,150.5 559.0,150.0 562.5,145.8 570.0,142.0 580.0,145.8 585.0,150.8 590.0,145.8 592.5,139.5 600.0,140.8 610.0,145.8 617.5,140.8 625.0,134.5 630.0,133.2 632.5,140.8 637.5,130.8 645.0,130.8 655.0,133.2 665.0,137.0 670.0,133.2 675.0,138.2 685.0,135.8 695.0,135.8 700.6,137.0 708.0,137.6 717.5,137.6 725.0,137.0 729.7,132.3 734.4,132.3 738.5,137.0 792.0,137.0 792.0,80.0 240.5,80.0 240.5,226.0" fill="#6eff9b"/>
<polygon points="243.8,223.4 244.8,222.3 245.7,221.4 246.7,220.6 248.0,219.7 249.3,218.7 250.7,217.8 251.9,217.0 253.0,216.3 254.3,215.6 255.8,214.8 257.2,214.0 258.6,213.2 260.1,212.4 261.5,211.7 263.0,210.9 264.4,210.1 265.9,209.4 267.1,208.8 268.3,208.3 269.7,207.7 271.3,207.1 272.8,206.5 274.4,205.9 276.0,205.3 277.5,204.7 278.9,204.3 280.2,203.9 281.6,203.5 283.2,203.1 284.8,202.7 286.3,202.4 287.9,202.0 289.2,201.8 290.3,201.6 291.6,201.5 293.2,201.3 294.8,201.2 296.4,201.0 298.0,200.8 299.7,200.6 301.5,200.3 303.2,200.0 304.7,199.7 306.3,199.4 308.7,198.7 312.0,197.6 314.3,196.5 315.8,195.7 317.5,194.7 319.5,193.5 321.0,192.4 322.3,191.5 323.5,190.6 324.7,189.7 326.0,188.8 327.2,187.8 328.3,187.1 329.4,186.4 330.7,185.7 332.2,184.9 333.6,184.1 335.1,183.3 336.5,182.5 337.7,181.9 338.9,181.5 340.4,181.1 342.0,180.7 343.6,180.2 345.3,179.8 346.9,179.4 348.3,179.1 349.5,178.9 350.9,179.0 352.5,179.0 354.2,179.1 355.9,179.1 357.6,179.2 359.3,179.2 361.0,179.3 362.6,179.3 364.3,179.3 365.7,179.2 366.7,179.1 367.2,179.0 367.5,178.9 367.9,179.0 369.9,179.7 373.6,180.8 376.3,181.2 377.7,181.1 378.9,181.1 380.0,181.0 381.4,181.1 382.9,181.1 384.6,181.2 385.9,181.3 386.8,181.4 387.4,181.5 390.7,181.6 396.8,181.5 400.7,181.2 402.1,180.7 403.3,180.4 404.0,180.2 404.5,180.2 405.4,180.2 406.8,180.1 408.3,180.1 409.5,180.0 410.3,180.1 410.7,180.2 411.1,180.4 411.9,180.9 413.3,181.5 414.6,182.1 415.4,182.5 419.1,182.5 425.9,182.1 429.8,181.4 430.6,180.5 431.5,179.5 432.5,178.4 433.5,177.3 434.5,176.1 435.4,175.0 436.4,174.1 437.6,173.0 438.9,171.9 440.1,170.8 441.2,169.9 442.3,169.3 443.6,168.6 445.0,167.8 446.5,167.1 447.7,166.6 448.8,166.2 450.2,165.9 451.8,165.6 454.7,165.1 458.9,164.3 461.6,163.5 463.0,162.7 464.4,162.0 465.8,161.2 467.2,160.5 468.6,159.9 470.1,159.4 471.5,158.8 473.0,158.3 474.4,157.9 475.9,157.6 477.5,157.3 479.0,157.0 480.6,156.8 482.1,156.6 483.7,156.4 485.3,156.2 486.9,156.0 488.4,155.7 490.0,155.4 491.5,154.7 492.8,153.5 493.7,152.0 494.2,150.3 494.4,148.7 494.5,147.1 494.6,145.6 494.7,144.0 494.9,142.6 495.4,141.4 496.1,140.2 496.9,139.3 498.0,138.7 499.4,138.3 500.7,138.0 501.8,138.1 502.9,138.6 504.2,139.4 505.1,140.2 505.9,141.3 506.6,142.6 507.4,144.0 508.2,145.4 509.0,146.8 509.9,148.2 511.0,149.6 512.3,150.7 513.6,151.6 515.2,152.2 516.8,152.3 518.4,152.2 519.9,152.0 521.0,151.4 521.8,150.7 522.7,149.9 523.5,149.2 524.3,148.5 524.9,147.8 525.4,147.2 526.1,146.6 527.0,146.1 528.0,145.6 529.0,145.1 530.3,144.8 531.6,144.5 532.5,144.2 533.3,143.9 534.1,143.5 537.2,143.1 542.7,142.4 546.0,142.1 547.2,142.0 548.5,141.9 549.9,141.9 551.1,141.9 552.1,142.0 552.9,142.3 553.6,142.5 555.3,143.6 558.7,144.5 563.5,142.4 570.6,140.4 578.8,142.6 585.0,144.8 589.4,141.9 593.8,137.9 600.6,138.2 609.4,139.8 617.5,136.9 624.4,132.2 629.4,131.9 633.1,132.9 638.1,129.8 645.6,127.9 655.0,130.1 663.8,131.6 670.0,131.9 676.2,132.9 685.0,132.9 693.9,132.6 702.0,133.2 711.6,133.1 721.0,131.6 727.5,129.2 732.0,127.0 792.0,127.0 792.0,80.0 241.8,80.0 241.8,223.4" fill="#82ffd2"/>
<polygon points="243.3,222.9 244.4,221.7 245.2,220.9 246.2,220.0 247.5,219.0 248.9,218.1 250.2,217.1 251.5,216.2 252.5,215.5 253.9,214.7 255.3,213.9 256.7,213.1 258.2,212.3 259.6,211.4 261.0,210.6 262.4,209.8 263.9,209.0 265.4,208.2 266.6,207.6 267.7,207.1 269.2,206.4 270.8,205.8 272.3,205.2 273.9,204.6 275.5,204.0 277.0,203.4 278.5,202.9 279.7,202.7 281.3,202.3 282.9,201.9 284.5,201.6 286.0,201.3 287.6,201.1 289.1,200.8 290.0,200.8 291.5,200.6 293.1,200.4 294.7,200.2 296.4,200.0 297.9,199.7 299.4,199.4 301.4,199.0 303.0,198.7 304.5,198.3 306.1,197.9 307.6,197.5 312.1,195.9 313.5,195.2 315.0,194.4 316.5,193.6 318.9,192.2 320.2,191.4 321.5,190.6 322.8,189.8 324.1,188.9 325.4,188.0 326.7,187.1 327.9,186.4 328.9,185.8 330.4,185.1 331.9,184.3 333.3,183.5 334.8,182.8 336.3,182.0 337.6,181.3 338.7,181.0 340.3,180.6 341.9,180.1 343.5,179.7 345.1,179.3 346.7,178.9 348.4,178.4 349.3,178.3 350.9,178.4 352.5,178.4 354.2,178.5 355.9,178.6 357.6,178.7 359.3,178.7 361.0,178.8 362.6,178.8 364.3,178.9 365.8,178.8 366.8,178.5 367.4,178.2 367.8,178.0 368.3,177.9 369.4,178.2 374.7,179.8 376.3,179.7 377.8,179.5 379.0,179.4 380.1,179.2 381.6,179.2 383.1,179.1 384.8,179.2 386.4,179.3 387.2,179.3 387.8,179.3 388.8,179.5 398.4,179.5 399.9,179.1 401.3,178.8 402.8,178.4 403.5,178.4 404.0,178.5 405.1,178.6 406.6,178.5 408.1,178.6 409.5,178.7 410.4,178.9 410.8,179.1 411.2,179.4 412.2,179.9 413.7,180.6 415.2,181.3 416.1,181.6 416.7,181.8 427.8,181.4 428.8,180.6 429.8,179.9 430.8,179.1 431.8,178.0 432.9,176.9 434.0,175.7 435.0,174.6 435.9,173.7 437.2,172.5 438.4,171.4 439.7,170.4 441.0,169.3 441.8,168.8 443.3,168.1 444.8,167.3 446.3,166.6 447.5,166.0 448.5,165.6 450.1,165.2 451.6,164.8 453.2,164.4 460.0,163.8 466.2,160.0 472.5,157.5 478.8,156.2 485.0,155.6 491.2,154.4 493.5,151.2 493.8,146.2 494.0,141.9 496.2,138.0 501.2,136.6 505.6,138.5 508.5,143.5 511.2,148.5 515.0,151.6 520.0,150.6 525.0,142.0 530.0,136.5 536.2,133.4 541.2,131.5 547.5,133.0 553.8,135.0 562.5,129.5 570.0,129.5 572.5,134.5 580.0,138.2 587.5,135.8 595.0,129.5 600.0,127.0 602.5,119.5 601.2,112.0 605.0,104.5 612.5,98.2 620.0,93.0 622.0,88.0 622.0,80.0 241.3,80.0 241.3,222.9" fill="#96ffff"/>
<polygon points="242.7,222.4 243.8,221.3 244.8,220.3 245.8,219.4 247.1,218.4 248.4,217.4 249.7,216.4 251.0,215.5 252.2,214.7 253.5,213.9 254.9,213.0 256.3,212.2 257.7,211.3 259.1,210.4 260.5,209.6 261.9,208.7 263.3,207.9 264.7,207.1 266.0,206.4 267.3,205.8 268.8,205.1 270.3,204.5 271.8,203.8 273.4,203.2 275.0,202.6 276.5,202.1 278.0,201.6 279.4,201.3 280.9,201.0 282.5,200.7 284.1,200.4 285.7,200.2 287.3,200.1 288.7,199.9 290.0,199.9 291.4,199.7 293.0,199.5 294.7,199.3 296.3,199.0 297.8,198.6 299.4,198.2 301.2,197.8 302.8,197.3 304.3,196.9 305.9,196.4 308.0,195.7 310.7,194.7 312.7,193.8 314.2,193.1 315.9,192.2 317.7,191.2 319.3,190.4 320.7,189.6 322.0,188.9 323.4,188.1 324.8,187.3 326.1,186.5 327.4,185.8 328.6,185.1 330.0,184.5 331.5,183.7 333.0,183.0 334.5,182.3 336.0,181.6 337.3,181.0 338.6,180.5 340.1,180.0 341.8,179.6 343.4,179.1 345.0,178.7 346.6,178.3 348.1,177.9 349.4,177.8 350.9,177.8 352.6,177.9 354.2,177.9 355.9,178.0 357.6,178.1 359.3,178.2 361.0,178.3 362.6,178.3 364.3,178.4 365.7,178.2 366.8,177.8 367.6,177.4 368.2,177.1 369.1,177.1 371.0,177.4 373.9,178.0 376.3,178.2 377.8,177.9 379.1,177.7 380.3,177.5 381.8,177.3 383.3,177.2 385.0,177.2 386.4,177.2 387.5,177.2 388.5,177.2 391.3,177.3 395.9,177.3 399.1,177.1 400.6,176.8 401.9,176.6 402.9,176.6 403.8,176.8 405.0,176.9 406.4,177.0 407.9,177.2 409.2,177.4 410.3,177.7 411.0,178.0 411.7,178.5 412.8,179.1 414.2,179.7 415.6,180.3 416.7,180.7 419.6,180.8 424.7,180.5 427.9,179.9 429.0,179.3 430.1,178.5 431.2,177.5 432.4,176.4 433.5,175.3 434.5,174.2 435.6,173.2 436.8,172.1 438.0,171.0 439.3,169.9 440.5,169.0 441.7,168.3 443.0,167.6 444.5,166.8 446.0,166.1 447.3,165.5 448.5,165.0 450.0,164.5 451.5,164.1 453.9,163.6 456.9,163.2 458.7,162.8 459.7,162.3 460.9,161.6 462.3,160.9 463.6,160.1 464.9,159.4 466.2,158.7 467.6,158.2 469.1,157.6 470.5,157.0 471.9,156.5 473.3,156.1 474.6,155.5 475.9,154.9 477.1,154.3 478.2,153.7 478.9,153.0 478.8,152.4 478.4,151.7 478.0,151.0 477.6,150.3 477.0,149.7 477.8,145.7 480.5,138.1 482.6,133.9 483.5,133.0 484.5,132.3 485.4,131.7 486.2,131.4 486.9,131.1 487.7,130.9 488.4,130.6 489.2,130.4 489.9,130.2 490.6,130.3 491.4,130.5 492.2,130.8 492.9,131.0 493.7,131.3 494.5,131.5 495.6,131.6 497.0,131.6 498.4,131.6 499.6,131.7 500.6,131.7 501.4,131.7 502.1,131.5 502.9,131.4 503.8,131.3 505.0,131.3 506.4,131.4 507.6,131.5 508.7,131.5 509.6,131.4 513.4,131.1 520.3,130.6 524.1,130.3 524.9,130.2 525.8,130.0 526.7,129.9 527.8,129.6 529.1,129.2 530.5,128.7 532.0,128.3 533.2,127.9 534.4,127.5 535.8,127.1 537.3,126.7 538.6,126.3 539.6,126.1 540.5,125.8 541.3,125.6 542.0,125.4 542.9,125.2 544.1,125.0 545.5,125.0 546.9,124.9 549.9,124.5 554.5,123.7 557.4,122.9 558.4,122.4 559.2,122.1 559.9,121.8 560.7,121.5 561.4,121.2 562.2,120.9 563.1,120.5 564.3,120.1 565.6,119.6 566.8,119.1 568.1,118.7 569.2,118.2 570.1,117.7 570.8,117.3 571.3,116.8 575.9,114.0 584.3,109.0 588.8,106.2 589.5,105.5 590.3,104.4 591.1,103.2 591.9,101.9 592.7,100.5 593.3,99.3 593.8,98.4 594.2,97.6 594.6,97.0 595.4,94.4 597.0,88.0 597.0,80.0 240.7,80.0 240.7,222.4" fill="#78fdff"/>
<polygon points="242.2,221.9 243.3,220.7 244.3,219.8 245.3,218.8 246.6,217.7 247.9,216.7 249.3,215.7 250.6,214.8 251.7,214.0 253.1,213.1 254.4,212.1 255.8,211.2 257.2,210.3 258.6,209.4 259.9,208.5 261.3,207.6 262.8,206.7 264.2,205.9 265.5,205.2 266.8,204.5 268.3,203.8 269.8,203.1 271.4,202.5 272.9,201.9 274.5,201.3 276.0,200.7 277.6,200.3 278.9,200.1 280.6,199.8 282.2,199.5 283.8,199.3 285.4,199.2 287.0,199.1 288.6,199.0 289.8,199.0 291.3,198.9 293.0,198.6 294.6,198.3 296.2,198.0 297.8,197.5 299.3,197.1 301.1,196.5 302.6,196.0 304.1,195.5 305.6,195.0 307.2,194.4 310.4,193.2 311.9,192.5 313.5,191.8 315.0,191.1 317.1,190.0 318.5,189.3 319.9,188.7 321.3,188.0 322.8,187.3 324.2,186.6 325.6,185.8 326.9,185.1 328.2,184.5 329.7,183.8 331.2,183.2 332.7,182.5 334.2,181.8 335.7,181.1 337.1,180.4 338.4,180.0 340.0,179.5 341.6,179.1 343.2,178.6 344.8,178.1 346.5,177.7 348.1,177.3 349.3,177.1 350.9,177.2 352.6,177.3 354.2,177.4 355.9,177.5 357.6,177.6 359.3,177.7 361.0,177.8 362.6,177.9 364.3,178.0 365.8,177.8 366.9,177.2 367.7,176.5 368.6,176.2 369.5,176.0 370.9,176.1 374.7,176.9 376.3,176.7 377.8,176.3 379.2,176.0 380.4,175.6 381.9,175.4 383.5,175.2 385.2,175.1 386.8,175.1 388.0,175.0 389.0,175.0 390.3,175.1 396.7,175.2 398.2,175.0 399.8,174.9 401.3,174.7 402.4,174.8 403.4,175.1 404.7,175.2 406.2,175.4 407.7,175.7 409.2,176.1 410.3,176.4 411.1,177.0 411.9,177.5 413.1,178.2 414.6,178.9 416.1,179.4 417.3,179.8 418.4,180.1 425.7,179.8 426.9,179.2 428.2,178.7 429.4,178.1 430.6,177.0 431.8,176.0 433.0,174.9 434.1,173.8 435.1,172.7 436.3,171.6 437.6,170.5 438.9,169.5 440.3,168.5 441.3,167.8 442.8,167.0 444.3,166.3 445.8,165.5 447.1,164.9 448.3,164.4 449.8,163.8 451.4,163.3 452.9,162.8 456.0,162.5 466.0,157.5 474.0,154.5 479.0,150.0 476.0,143.0 470.0,138.0 466.0,131.0 470.0,127.0 478.0,124.0 484.0,122.0 492.0,125.0 500.0,127.0 512.5,124.5 525.0,123.2 537.5,120.8 550.0,117.0 562.5,112.0 572.5,104.5 580.0,97.0 585.0,88.0 585.0,80.0 240.2,80.0 240.2,221.9" fill="#5afcff"/>
<polygon points="241.6,221.5 242.7,220.3 243.8,219.2 244.9,218.2 246.2,217.1 247.5,216.1 248.8,215.1 250.1,214.1 251.3,213.2 252.6,212.2 254.0,211.3 255.3,210.3 256.7,209.3 258.1,208.4 259.4,207.4 260.8,206.5 262.2,205.6 263.6,204.8 265.0,204.0 266.4,203.3 267.8,202.5 269.3,201.8 270.9,201.2 272.4,200.6 274.0,200.0 275.5,199.4 277.1,199.0 278.6,198.8 280.2,198.5 281.9,198.3 283.5,198.1 285.1,198.1 286.7,198.1 288.3,198.1 289.8,198.1 291.3,197.9 292.9,197.7 294.5,197.3 296.1,196.9 297.7,196.4 299.2,195.9 300.8,195.3 302.4,194.7 303.9,194.1 305.4,193.5 307.2,192.7 309.3,191.9 311.2,191.1 312.7,190.5 314.3,189.7 316.0,189.0 317.6,188.3 319.1,187.7 320.6,187.2 322.1,186.5 323.6,185.8 325.0,185.1 326.4,184.5 327.8,183.9 329.3,183.2 330.9,182.6 332.4,181.9 333.9,181.3 335.4,180.6 336.9,180.0 338.3,179.5 339.9,179.0 341.5,178.5 343.1,178.0 344.7,177.6 346.3,177.1 347.9,176.8 349.4,176.6 350.9,176.6 352.6,176.7 354.3,176.8 355.9,176.9 357.6,177.0 359.3,177.2 361.0,177.3 362.6,177.4 364.3,177.5 365.7,177.2 366.9,176.5 367.9,175.8 369.0,175.3 370.2,175.1 372.0,175.1 374.3,175.3 376.3,175.1 377.8,174.7 379.2,174.3 380.6,173.9 382.1,173.5 383.7,173.2 385.4,173.1 386.9,173.0 388.3,172.9 389.6,172.9 391.9,172.9 395.0,173.0 397.4,173.0 399.0,172.9 400.5,172.9 401.8,173.1 403.1,173.3 404.5,173.6 406.0,173.9 407.5,174.3 409.0,174.7 410.2,175.3 411.3,175.9 412.3,176.6 413.6,177.3 415.0,178.0 416.5,178.5 417.9,178.9 420.2,179.1 423.6,178.9 426.0,178.5 427.4,178.1 428.7,177.4 430.0,176.5 431.3,175.5 432.5,174.5 433.6,173.4 434.7,172.2 435.9,171.1 437.2,170.0 438.5,169.0 439.8,168.1 441.1,167.3 442.5,166.5 444.0,165.8 445.5,165.0 446.9,164.4 448.3,163.7 453.0,161.7 461.1,158.3 466.1,156.3 467.9,155.7 469.9,155.1 471.9,154.2 473.9,153.0 475.2,151.9 475.4,149.9 474.7,146.3 473.1,143.2 471.4,141.4 469.9,140.2 468.8,139.2 467.8,138.1 466.8,136.5 465.8,134.7 464.8,133.1 464.1,132.0 463.6,131.3 463.1,130.8 462.5,130.4 461.8,130.1 461.2,129.9 460.5,129.7 459.8,129.7 459.1,129.7 458.4,129.7 457.7,129.6 457.1,129.4 456.5,129.1 456.0,128.6 455.5,128.0 455.1,127.5 454.8,126.9 454.5,126.2 454.3,125.6 454.1,124.9 454.0,124.2 454.2,123.7 454.7,123.4 455.4,123.1 456.0,122.9 456.7,122.6 457.5,122.2 458.7,121.6 460.1,120.8 461.4,120.1 462.5,119.7 463.3,119.6 464.1,119.6 464.8,119.7 465.5,119.7 466.2,119.9 466.9,120.0 467.8,120.2 469.2,120.2 470.7,120.1 472.2,120.1 473.6,120.2 474.9,120.3 476.3,120.4 477.8,120.3 479.5,120.1 481.3,119.8 482.8,119.7 483.8,119.9 484.7,120.2 486.1,120.7 487.9,121.2 489.8,121.6 491.8,122.1 494.0,122.5 496.2,122.8 498.8,123.0 502.3,123.0 505.0,122.8 507.0,122.6 509.0,122.3 510.9,122.1 512.7,122.0 514.6,122.0 516.6,121.9 518.6,121.9 520.7,121.8 522.8,121.6 525.0,121.3 527.2,120.9 529.2,120.6 531.2,120.2 533.3,119.8 535.4,119.3 537.5,118.8 539.6,118.2 541.4,117.5 543.0,116.7 544.5,115.8 546.1,115.0 547.7,114.0 549.1,113.0 550.0,112.0 550.8,111.1 551.3,110.2 551.3,109.6 550.4,109.3 550.4,106.9 552.8,99.3 556.0,88.0 556.0,80.0 239.6,80.0 239.6,221.5" fill="#3cfaff"/>
<polygon points="241.1,221.0 242.2,219.8 243.3,218.7 244.5,217.6 245.7,216.5 247.0,215.4 248.3,214.4 249.6,213.4 250.9,212.4 252.2,211.4 253.6,210.4 254.9,209.4 256.2,208.4 257.5,207.4 258.9,206.4 260.2,205.4 261.6,204.5 263.1,203.7 264.5,202.8 265.9,202.0 267.3,201.2 268.8,200.5 270.4,199.9 271.9,199.3 273.5,198.6 275.0,198.1 276.6,197.7 278.2,197.5 279.9,197.3 281.5,197.1 283.2,197.0 284.8,197.0 286.5,197.1 288.1,197.2 289.6,197.2 291.2,197.1 292.8,196.7 294.5,196.4 296.1,195.9 297.6,195.3 299.1,194.7 300.7,194.0 302.2,193.3 303.7,192.7 305.2,192.0 306.9,191.2 308.7,190.5 310.4,189.8 311.9,189.1 313.5,188.5 315.2,187.8 316.8,187.3 318.3,186.8 319.9,186.3 321.4,185.7 322.9,185.1 324.5,184.5 326.0,183.8 327.4,183.2 329.0,182.6 330.5,182.0 332.1,181.4 333.6,180.8 335.2,180.1 336.7,179.5 338.2,179.0 339.8,178.5 341.3,178.0 342.9,177.5 344.5,177.0 346.2,176.6 347.8,176.2 349.3,176.0 350.9,176.0 352.6,176.1 354.3,176.3 355.9,176.4 357.6,176.5 359.3,176.6 361.0,176.8 362.6,176.9 364.3,177.0 365.7,176.7 367.0,175.9 368.1,175.0 369.4,174.5 370.8,174.1 372.5,174.0 374.5,173.9 376.3,173.6 377.8,173.1 379.3,172.6 380.8,172.1 382.3,171.6 383.9,171.2 385.6,171.1 387.2,170.9 388.7,170.8 390.2,170.7 392.2,170.8 394.6,170.9 396.6,170.9 398.2,171.0 399.8,171.1 401.3,171.3 402.8,171.6 404.3,171.9 405.8,172.3 407.4,172.8 408.8,173.4 410.2,174.1 411.4,174.8 412.7,175.6 414.0,176.4 415.5,177.1 417.0,177.5 418.5,178.0 420.5,178.2 423.0,178.1 425.0,177.8 426.6,177.5 428.0,176.9 429.4,176.1 430.7,175.1 432.0,174.1 433.2,172.9 434.3,171.8 435.5,170.6 436.8,169.6 438.1,168.6 439.5,167.6 440.8,166.8 442.3,166.0 443.8,165.3 445.3,164.5 446.7,163.8 448.1,163.1 453.2,160.8 462.1,156.9 467.6,154.8 469.6,154.3 471.5,153.4 473.4,152.3 474.5,151.1 474.3,149.3 473.3,146.7 471.9,144.3 470.3,142.7 468.8,141.5 467.4,140.4 466.1,139.1 465.0,137.5 464.1,135.7 463.1,134.0 462.1,132.6 461.1,131.5 460.1,130.6 459.0,129.9 457.7,129.4 456.4,129.0 455.0,128.6 453.7,128.5 452.3,128.5 450.9,128.5 449.5,128.4 448.3,128.0 447.2,127.3 446.1,126.3 445.3,125.3 444.5,124.1 443.8,122.9 443.2,121.7 442.8,120.4 442.5,119.0 442.3,117.8 442.7,116.8 443.7,116.1 445.0,115.6 446.3,115.1 447.5,114.5 448.9,114.1 450.5,113.6 452.2,113.0 454.0,112.5 455.5,112.3 457.0,112.3 458.4,112.5 459.8,112.6 461.2,112.7 462.5,112.9 463.8,113.3 465.3,113.7 466.9,114.1 468.6,114.5 470.3,115.0 471.8,115.6 473.4,116.2 475.0,116.7 476.7,117.0 478.5,117.1 480.5,117.1 482.2,117.4 483.7,117.8 485.1,118.3 486.7,118.9 488.6,119.3 490.6,119.5 492.7,119.6 494.8,119.8 496.9,119.9 499.3,119.9 502.0,119.9 504.4,119.8 506.5,119.7 508.5,119.6 510.5,119.6 512.4,119.6 514.4,119.7 516.4,119.9 518.4,119.9 520.5,119.9 522.6,119.8 524.7,119.5 526.8,119.2 528.9,118.9 530.9,118.5 532.9,118.1 535.0,117.6 537.1,117.1 539.1,116.5 540.8,115.7 542.4,114.6 543.8,113.3 545.2,112.1 546.6,110.8 547.7,109.4 548.4,107.9 548.9,106.4 549.2,105.0 549.0,103.8 547.9,102.9 547.2,100.9 546.9,95.6 545.0,88.0 545.0,80.0 239.1,80.0 239.1,221.0" fill="#14f5fa"/>
<polygon points="240.5,220.5 245.0,216.0 252.5,210.0 260.0,204.0 267.5,199.5 275.0,196.5 282.5,195.8 290.0,196.5 296.0,195.0 302.0,192.0 308.0,189.0 314.0,186.8 320.0,185.2 326.0,183.0 332.0,180.8 338.0,178.5 344.0,176.5 349.0,175.2 358.0,176.0 365.5,176.8 368.5,173.8 376.0,172.2 383.5,169.2 391.0,168.5 400.0,169.2 406.0,170.8 410.5,173.0 415.0,176.0 421.0,177.5 427.0,176.8 431.5,173.8 436.0,169.2 440.5,166.2 446.5,163.2 452.5,160.2 458.0,158.0 464.0,154.2 470.0,153.5 474.5,150.5 470.0,144.5 464.0,140.0 461.0,134.0 456.5,129.5 449.0,127.2 440.0,127.2 436.0,124.0 432.0,118.0 430.0,110.0 440.0,105.8 447.5,104.8 459.5,106.0 467.0,109.0 474.5,113.8 480.5,114.5 488.0,117.5 500.0,116.8 510.0,117.0 520.0,118.2 530.0,117.0 540.0,114.5 546.2,107.0 547.5,98.2 542.5,94.5 532.5,95.8 525.0,93.2 523.8,88.0 523.8,80.0 238.5,80.0 238.5,220.5" fill="#0ac8fa"/>
<polygon points="80.0,255.0 206.0,255.0 207.0,300.0 205.0,306.0 201.0,314.0 192.0,319.5 177.0,324.0 161.0,328.5 150.0,340.0 120.0,353.0 80.0,353.0" fill="#ffdc05"/>
<polygon points="161.0,329.0 160.0,323.0 158.0,315.6 160.0,308.0 158.0,298.8 152.5,290.3 143.0,282.8 148.8,283.8 156.2,287.5 163.8,293.0 169.4,299.7 175.0,301.6 182.5,304.4 190.0,310.0 199.4,309.0 204.5,303.4 207.0,303.4 207.0,250.0 78.0,250.0 78.0,358.0 148.0,358.0 151.0,342.0 156.0,332.0" fill="#ffee0a"/>
<polygon points="87.0,311.0 93.0,305.0 100.0,303.0 108.0,300.5 115.0,300.0 123.0,302.5 130.0,302.0 136.0,299.0 140.0,294.5 142.5,288.5 141.0,284.5 145.0,281.0 150.0,281.3 157.0,284.8 164.5,290.0 170.0,296.5 176.0,299.0 183.5,301.5 190.0,306.5 198.0,306.5 203.5,302.0 207.0,302.0 207.0,250.0 78.0,250.0 78.0,311.0" fill="#ffff14"/>
<polygon points="86.0,306.2 88.8,300.6 94.4,296.9 101.9,293.0 107.5,287.6 115.0,287.6 122.5,289.4 130.0,291.3 135.6,288.5 140.3,283.0 145.0,280.0 152.5,280.5 160.0,284.0 166.0,288.5 171.0,294.0 178.0,297.0 185.0,299.5 191.0,304.0 197.0,305.0 203.0,301.0 207.0,301.0 207.0,250.0 78.0,250.0 78.0,306.2" fill="#f7ff0f"/>
<polygon points="90.9,292.3 91.8,291.8 93.2,291.0 94.6,290.3 96.0,289.5 97.4,288.8 100.1,287.2 101.3,286.5 102.6,285.9 103.9,285.2 105.0,284.9 105.7,285.1 106.5,285.3 107.3,285.6 108.6,285.6 110.2,285.5 111.7,285.4 113.3,285.3 114.9,285.2 115.9,285.4 117.4,285.8 119.0,286.1 120.5,286.5 122.1,286.9 123.6,287.3 125.1,287.7 126.7,288.1 128.2,288.5 131.3,288.3 132.7,287.5 134.8,286.3 135.9,285.4 137.1,284.4 138.2,283.3 139.3,282.2 140.3,281.4 141.6,280.5 142.9,279.6 144.1,278.7 144.8,278.2 145.9,277.9 147.4,277.8 149.0,277.8 150.6,277.7 152.1,278.0 153.1,278.2 154.3,278.6 155.8,279.1 157.2,279.7 158.6,280.5 160.0,281.3 161.1,281.9 162.2,282.7 163.6,283.4 164.9,284.0 166.3,284.6 167.6,285.3 168.7,285.7 169.7,286.2 170.9,287.0 172.1,287.8 173.3,288.6 176.7,290.6 178.0,291.3 179.4,292.1 181.1,292.9 182.5,293.6 183.8,294.4 185.0,295.2 186.2,296.0 186.8,296.6 187.7,297.4 189.0,298.4 190.3,299.4 191.5,300.3 194.3,301.4 198.0,300.6 199.4,300.0 200.8,299.4 202.0,299.0 207.0,299.0 207.0,250.0 78.0,250.0 78.0,292.3" fill="#eeff0f"/>
<polygon points="87.8,287.5 94.4,283.8 101.9,281.9 107.5,283.7 115.0,282.8 122.5,284.6 130.0,286.5 135.6,283.7 141.2,279.0 145.0,276.0 150.6,275.0 158.0,277.0 163.8,280.9 171.2,282.8 178.8,285.6 184.4,289.4 190.0,295.0 194.5,298.5 201.0,297.0 207.0,297.0 207.0,250.0 78.0,250.0 78.0,287.5" fill="#e4ff0f"/>
<polygon points="90.5,284.2 91.7,283.3 93.0,282.5 93.8,281.8 95.0,281.2 96.4,280.7 97.9,280.2 99.3,279.7 100.7,279.1 101.6,278.7 102.3,278.5 103.1,278.3 104.5,278.3 105.8,278.3 109.3,278.5 110.8,278.3 112.4,278.2 113.9,278.1 114.9,278.1 115.7,278.1 116.7,278.1 118.2,278.4 119.7,278.6 121.2,278.9 122.7,279.1 124.2,279.4 125.7,279.7 127.2,280.0 133.4,278.7 134.5,278.5 135.7,278.3 136.9,278.0 138.1,277.7 139.3,277.4 140.4,277.1 141.7,276.3 143.0,275.6 144.2,274.9 145.1,274.5 146.5,274.2 148.0,273.8 149.5,273.5 150.6,273.2 151.6,273.0 153.0,273.1 154.5,273.2 155.9,273.3 157.4,273.5 158.8,273.6 159.6,273.8 160.6,274.3 161.9,274.9 163.2,275.6 164.6,276.3 167.3,277.5 168.7,278.1 170.0,278.7 171.4,279.2 172.4,279.7 173.8,280.4 175.1,281.0 176.5,281.7 177.8,282.4 179.2,283.0 180.1,283.6 181.3,284.4 182.5,285.2 183.8,286.1 185.1,286.9 186.1,287.6 187.1,288.5 188.2,289.5 189.4,290.6 190.4,291.7 191.4,292.8 192.8,294.1 193.9,294.9 197.5,295.3 199.0,295.2 200.5,295.0 207.0,295.0 207.0,250.0 78.0,250.0 78.0,284.2" fill="#daff0c"/>
<polygon points="89.7,282.8 94.4,279.0 101.9,275.3 109.4,273.4 118.8,273.4 128.0,274.4 133.8,275.3 139.4,275.5 145.0,273.0 152.5,270.8 160.0,270.2 167.5,273.0 175.0,277.5 180.6,281.0 186.2,284.7 191.0,288.4 195.0,293.0 200.0,293.0 207.0,293.0 207.0,250.0 78.0,250.0 78.0,282.8" fill="#d0fc0a"/>
<polygon points="172.0,267.0 182.5,267.5 188.5,274.4 191.0,280.5 186.0,282.0 179.7,278.0 175.5,272.5" fill="#b4fa0a"/>
<polygon points="176.0,267.0 182.0,268.0 186.0,273.5 184.0,276.0 179.0,273.0" fill="#8cfa0a"/>
<polygon points="96.0,268.0 110.0,266.0 125.0,268.0 135.0,270.0 128.0,271.5 112.0,270.5 100.0,271.5" fill="#b4fa0a"/>
<polygon points="243.0,404.0 246.0,392.0 252.0,385.0 260.0,380.0 270.0,378.0 282.0,381.0 295.0,384.0 310.0,386.0 325.0,388.0 338.0,391.0 343.0,397.0 345.0,406.0 300.0,412.0 260.0,408.0" fill="#ffdc05"/>
<polygon points="256.9,392.6 259.2,387.7 265.4,386.4 269.7,388.9 270.6,393.8 267.9,396.4 262.7,396.2 258.6,396.9" fill="#ffee0a"/>
<polygon points="258.4,392.5 260.3,388.8 265.0,387.8 268.4,389.7 269.1,393.4 266.9,395.3 263.1,394.8 259.8,395.9" fill="#ffff14"/>
<polygon points="299.1,400.9 302.9,396.7 310.9,394.2 322.2,394.7 330.2,396.7 334.0,399.9 332.1,403.6 326.5,403.1 323.4,405.5 317.7,407.1 310.6,404.9 306.7,404.2 302.9,403.6" fill="#ffee0a"/>
<polygon points="300.6,400.9 304.4,397.2 311.9,395.3 321.3,395.9 328.8,397.2 332.5,400.0 330.6,403.4 325.0,402.8 322.2,404.7 317.5,405.6 311.9,404.1 308.1,403.8 304.4,403.4" fill="#ffff14"/>
<polygon points="263.5,396.3 267.8,394.9 271.0,393.1 270.3,398.1 269.5,403.4 266.9,402.3 265.0,398.5" fill="#ffee0a"/>
<polygon points="60.0,352.0 100.0,362.0 130.0,374.0 150.0,381.0 162.0,388.0 172.0,398.0 185.0,407.0 200.0,414.0 214.0,416.0 224.0,413.0 231.0,421.0 231.0,440.0 225.0,460.0 214.0,480.0 206.0,500.0 210.0,520.0 222.0,550.0 60.0,552.0" fill="#ffaa05"/>
<polygon points="173.0,407.0 177.5,412.0 182.0,413.8 188.0,416.2 194.0,419.2 200.0,424.0 197.3,428.8 198.8,434.8 201.8,440.2 200.3,446.2 194.8,450.7 188.8,455.2 182.0,459.2 178.2,463.8 173.0,470.5 167.8,477.2 170.0,481.0 174.5,484.0 180.5,487.8 185.0,490.0 188.0,496.0 189.5,501.0 191.7,510.4 195.7,521.0 198.3,531.8 201.0,550.0 235.0,550.0 235.0,410.0 200.0,405.0" fill="#ffc300"/>
<polygon points="196.0,417.0 203.0,424.0 202.0,430.0 205.0,440.0 205.0,448.0 200.0,455.0 194.0,460.0 188.0,466.0 185.0,472.0 190.0,478.0 196.0,484.0 199.0,492.0 200.0,503.0 203.0,515.0 206.0,530.0 209.0,550.0 235.0,550.0 235.0,410.0" fill="#ffdc05"/>
<polygon points="207.5,418.0 212.0,415.0 218.0,415.0 222.5,418.7 221.7,424.0 217.2,426.7 212.0,426.2 208.2,423.2" fill="#ffff14"/>
<polygon points="206.7,436.0 209.7,432.2 214.2,432.7 215.7,437.5 215.0,445.0 212.0,449.5 207.5,450.2 206.0,445.0" fill="#ffff14"/>
<polygon points="201.5,462.2 205.2,458.8 208.2,459.2 207.2,463.7 203.7,467.0 201.2,466.0" fill="#ffff14"/>
<polygon points="199.0,498.0 203.0,505.0 206.0,515.0 210.0,527.0 215.0,540.0 219.0,550.0 230.0,550.0 222.0,520.0 208.0,496.0" fill="#ffff14"/>
<polygon points="201.0,503.0 205.0,512.0 209.0,524.0 214.0,538.0 218.0,550.0 230.0,550.0 222.0,520.0 210.0,500.0" fill="#eeff0f"/>
<polygon points="204.0,512.0 208.0,522.0 213.0,536.0 217.0,550.0 230.0,550.0 222.0,524.0 210.0,506.0" fill="#d0fc0a"/>
<polygon points="117.8,450.1 121.5,446.7 127.5,444.1 135.1,442.0 143.0,438.2 151.5,432.9 158.5,428.0 163.1,422.2 167.2,416.3 172.1,412.0 178.5,408.4 183.5,409.5 187.0,413.6 185.6,417.5 183.4,420.6 186.0,423.2 190.8,424.4 194.1,429.6 196.6,436.4 197.2,440.7 194.5,444.1 188.5,445.8 181.0,447.8 174.9,449.0 169.0,452.9 165.2,458.2 162.4,464.0 158.4,467.2 154.5,466.5 153.2,461.9 149.4,457.5 143.6,455.6 137.1,455.6 131.7,456.9 128.1,460.0 128.3,464.3 132.5,466.3 139.9,467.0 145.3,469.0 142.0,471.1 135.3,470.6 128.7,469.3 123.7,464.8 119.5,458.7 117.9,453.5" fill="#ff9605"/>
<polygon points="122.7,449.5 126.5,446.5 132.5,444.2 140.0,442.7 147.5,440.5 153.5,437.5 158.0,433.0 161.7,427.0 165.5,421.0 170.0,416.5 176.0,412.7 180.5,413.5 183.5,417.2 182.0,421.0 179.7,424.0 182.0,426.2 186.5,427.0 189.5,431.5 191.7,437.5 192.2,441.2 189.5,444.2 183.5,445.7 176.0,447.2 170.0,448.0 164.7,450.2 162.5,454.0 161.0,459.2 158.0,462.2 155.0,461.5 154.2,457.0 152.0,453.2 147.5,452.5 141.5,453.2 136.2,454.7 132.5,457.7 132.5,461.5 136.2,463.0 143.0,463.0 147.5,464.5 144.5,466.7 138.5,466.7 132.5,466.0 128.0,462.2 124.2,457.0 122.7,452.5" fill="#ff9403"/>
<polygon points="76.0,470.0 82.0,458.0 95.0,452.0 110.0,455.0 122.0,463.0 126.0,478.0 122.0,495.0 110.0,505.0 95.0,508.0 82.0,500.0 76.0,487.0" fill="#ff9605"/>
<polygon points="146.0,488.0 155.0,484.0 170.0,486.0 182.0,494.0 188.0,508.0 187.0,524.0 180.0,536.0 168.0,540.0 156.0,534.0 148.0,520.0 144.0,503.0" fill="#ff9605"/>
<polygon points="66.0,396.0 80.7,399.7 94.0,402.4 107.4,401.0 120.8,398.4 134.2,395.7 147.5,393.0 158.2,390.4 163.6,394.0 167.6,403.5 166.2,412.8 162.2,422.2 154.2,429.7 144.9,427.5 131.5,426.2 118.0,427.5 104.8,430.2 91.4,434.2 80.7,436.9 66.0,435.6" fill="#ffc300"/>
<polygon points="114.1,411.0 123.5,407.5 134.2,403.5 144.9,398.1 155.6,394.9 164.9,396.8 166.8,404.8 163.6,414.2 155.6,420.1 144.9,424.3 131.5,426.2 120.8,423.5 114.1,418.2" fill="#ffdc05"/>
<polygon points="126.0,420.2 132.6,414.6 140.9,406.5 150.8,400.7 159.4,398.3 165.0,401.4 163.8,407.2 157.2,411.6 147.9,417.1 138.5,420.2 130.2,421.7" fill="#ffee0a"/>
<polygon points="127.5,419.5 134.2,414.2 142.2,407.5 150.2,402.1 158.2,399.5 163.6,402.1 162.2,407.5 155.6,411.5 147.5,415.5 139.5,419.0 131.5,420.9" fill="#ffff14"/>
<polygon points="96.3,363.6 103.1,360.4 111.0,362.8 114.1,371.6 111.0,379.5 104.3,382.4 97.6,378.0 94.6,369.5" fill="#ffc300"/>
<polygon points="97.7,364.9 103.3,362.3 109.8,364.3 112.2,371.5 109.8,378.0 104.3,380.5 98.9,376.6 96.5,369.8" fill="#ffdc05"/>
<polygon points="98.9,366.0 103.4,363.9 108.8,365.5 110.6,371.4 108.8,376.7 104.2,378.9 99.9,375.4 98.1,370.1" fill="#ffff14"/>
<polygon points="66.0,517.0 80.7,518.4 91.4,521.0 102.0,525.0 110.0,529.0 118.0,530.5 126.0,527.8 134.0,525.0 140.9,526.5 150.0,534.5 155.6,542.5 158.2,552.0 66.0,552.0" fill="#ffc300"/>
<polygon points="417.0,452.0 420.0,456.0 427.5,453.8 437.5,460.0 447.5,466.0 460.0,470.0 472.5,468.8 485.0,472.5 500.0,473.8 517.5,472.5 530.0,473.8 545.0,473.8 555.0,475.0 566.0,476.5 575.0,472.5 577.5,462.5 578.8,451.0 586.2,449.4 597.5,447.5 608.8,443.8 618.0,436.2 627.5,432.5 638.8,428.8 650.0,426.9 665.0,423.0 676.0,418.5 720.0,418.0 792.0,425.0 792.0,560.0 380.0,560.0 410.0,470.0" fill="#ffaa05"/>
<polygon points="623.4,487.1 631.9,481.8 642.5,479.7 655.2,479.7 665.9,480.7 670.1,485.0 663.7,488.2 655.2,491.4 646.7,494.6 638.2,497.7 631.9,502.0 625.5,504.1 624.4,497.7 626.6,491.4" fill="#ffc300"/>
<polygon points="636.0,552.0 638.0,530.0 640.6,520.6 649.0,515.8 657.4,512.6 663.8,506.2 672.2,507.3 680.0,514.0 691.2,524.4 698.8,518.8 710.0,516.9 717.5,522.5 732.5,526.2 747.5,530.0 758.8,528.0 776.0,524.4 776.0,552.0" fill="#ffc300"/>
<polygon points="690.0,527.0 700.0,524.0 711.0,526.0 708.0,530.0 697.0,531.0" fill="#ffaa05"/>
<polygon points="758.0,513.0 765.0,509.0 772.0,510.0 774.0,517.0 766.0,520.0 759.0,518.0" fill="#ffc300"/>
<polygon points="760.0,533.0 775.0,530.0 776.0,540.0 765.0,541.0" fill="#ffdc05"/>
<polygon points="660.0,538.0 670.0,531.0 682.0,534.0 690.0,541.0 696.0,552.0 655.0,552.0" fill="#ffdc05"/>
<polygon points="644.6,445.7 648.9,440.4 657.4,436.1 665.9,432.3 672.2,434.0 680.7,439.3 689.2,441.4 696.7,444.6 697.7,448.9 693.5,452.1 685.0,451.0 678.6,447.8 672.2,443.6 668.0,440.4 663.7,441.4 659.5,445.7 653.1,447.8 647.8,448.4" fill="#ff9605"/>
<polygon points="674.4,451.0 677.6,449.5 680.3,451.0 679.0,453.5 675.6,453.5" fill="#ff9605"/>
<polygon points="738.1,464.8 744.5,458.4 753.0,455.2 761.5,454.2 772.1,453.1 772.1,471.2 764.7,470.1 762.6,465.9 758.3,468.0 757.2,471.2 753.0,470.1 748.7,466.9 742.4,466.9" fill="#ff9605"/>
<polygon points="462.0,495.0 467.5,493.8 482.5,492.5 500.0,492.5 517.5,493.8 530.0,496.2 537.5,500.0 543.8,507.5 547.5,517.5 546.2,527.5 545.0,537.5 547.5,552.0 510.0,552.0 515.0,515.0 500.0,502.0 480.0,500.0" fill="#ff9605"/>
<polygon points="670.1,292.9 661.6,303.5 653.1,312.0 645.7,318.4 642.5,326.9 645.7,335.4 649.9,340.7 655.7,334.3 654.8,323.7 657.8,316.2 662.0,308.8 666.7,301.4 671.2,292.9" fill="#b4fa0a"/>
<polygon points="652.5,346.0 651.0,354.5 649.9,363.0 652.1,367.2 655.7,363.0 657.4,352.4 656.9,346.0" fill="#b4fa0a"/>
<polygon points="646.7,374.7 645.7,384.2 647.8,390.6 651.0,392.7 653.5,384.2 651.4,376.8" fill="#b4fa0a"/>
<polygon points="710.0,243.7 702.5,254.2 695.0,261.7 687.5,267.0 680.0,278.2 668.7,289.5 659.4,299.2 665.0,299.2 674.4,291.0 685.6,280.5 695.0,270.0 704.4,259.5 711.9,249.4" fill="#8cfa0a"/>
<polygon points="472.5,123.8 477.5,122.5 485.0,123.0 488.8,126.2 491.2,132.5 491.2,138.8 490.0,146.2 485.0,150.0 481.2,148.8 478.8,143.8 477.5,138.8 475.0,133.8 472.5,128.8" fill="#82ffd2"/>
<polygon points="439.0,190.0 443.0,185.5 449.0,184.5 452.5,188.5 452.0,195.0 447.0,198.5 441.5,197.0 438.5,194.0" fill="#1ef532"/>
<polygon points="442.0,191.0 446.0,188.0 450.0,190.5 449.0,195.0 444.5,196.5 441.5,194.0" fill="#6eff9b"/>
<polygon points="727.0,90.0 750.0,90.0 753.0,100.0 748.0,110.0 742.0,118.0 737.0,122.0 729.0,118.0 731.0,105.0" fill="#96ffff"/>
<polygon points="735.0,90.0 750.0,90.0 752.0,99.0 745.0,104.0 738.0,98.0" fill="#78fdff"/>
<polyline points="240.5,220.5 245.0,216.0 252.5,210.0 260.0,204.0 267.5,199.5 275.0,196.5 282.5,195.8 290.0,196.5 296.0,195.0 302.0,192.0 308.0,189.0 314.0,186.8 320.0,185.2 326.0,183.0 332.0,180.8 338.0,178.5 344.0,176.5 349.0,175.2 358.0,176.0 365.5,176.8 368.5,173.8 376.0,172.2 383.5,169.2 391.0,168.5 400.0,169.2 406.0,170.8 410.5,173.0 415.0,176.0 421.0,177.5 427.0,176.8 431.5,173.8 436.0,169.2 440.5,166.2 446.5,163.2 452.5,160.2 458.0,158.0 464.0,154.2 470.0,153.5 474.5,150.5 470.0,144.5 464.0,140.0 461.0,134.0 456.5,129.5 449.0,127.2 440.0,127.2 436.0,124.0 432.0,118.0 430.0,110.0 440.0,105.8 447.5,104.8 459.5,106.0 467.0,109.0 474.5,113.8 480.5,114.5 488.0,117.5 500.0,116.8 510.0,117.0 520.0,118.2 530.0,117.0 540.0,114.5 546.2,107.0 547.5,98.2 542.5,94.5 532.5,95.8 525.0,93.2 523.8,88.0" fill="none" stroke="#1a1a00" stroke-width="0.6" stroke-opacity="0.85" stroke-dasharray="2.6 4.6"/>
<polyline points="242.5,226.0 246.0,222.0 252.5,217.5 267.5,210.0 279.5,205.5 290.0,202.5 300.5,201.8 311.0,200.2 320.0,195.0 329.0,187.5 338.0,182.2 349.0,179.5 358.0,179.8 367.0,179.8 371.5,182.8 379.0,182.8 386.5,183.5 391.0,185.0 397.0,185.0 404.5,182.0 410.5,181.2 415.0,183.5 419.5,188.0 424.0,189.5 428.5,185.0 433.0,179.0 436.0,175.2 442.0,170.0 448.0,167.0 454.0,166.0 460.0,165.0 467.5,161.2 473.8,158.8 480.0,157.5 486.2,156.9 492.5,155.6 495.0,151.9 495.2,146.9 495.6,142.8 497.5,140.0 501.2,139.0 504.4,141.0 506.9,145.6 509.8,150.2 513.8,153.0 518.8,153.8 525.0,153.2 531.0,154.0 537.5,156.5 545.0,156.0 550.0,152.5 555.0,150.5 559.0,150.0 562.5,145.8 570.0,142.0 580.0,145.8 585.0,150.8 590.0,145.8 592.5,139.5 600.0,140.8 610.0,145.8 617.5,140.8 625.0,134.5 630.0,133.2 632.5,140.8 637.5,130.8 645.0,130.8 655.0,133.2 665.0,137.0 670.0,133.2 675.0,138.2 685.0,135.8 695.0,135.8 700.6,137.0 708.0,137.6 717.5,137.6 725.0,137.0 729.7,132.3 734.4,132.3 738.5,137.0" fill="none" stroke="#1a1a00" stroke-width="0.8" stroke-opacity="0.85"/>
<polyline points="203.0,269.0 205.6,257.0 213.0,249.4 222.5,242.0 232.0,236.0 239.0,232.0 249.5,225.0 260.0,219.0 270.5,213.8 279.5,212.2 290.0,213.8 300.5,210.0 309.5,207.0 314.0,210.0 317.0,214.5 323.0,214.5 327.5,210.0 332.0,205.5 338.0,202.5 344.0,200.5 349.0,197.8 358.0,195.5 367.0,192.5 374.5,190.2 382.0,188.0 386.5,188.0 391.0,191.8 392.5,197.0 395.5,200.0 401.5,197.8 406.0,194.0 412.0,191.8 418.0,194.0 424.0,195.5 430.0,196.2 434.5,198.5 439.0,202.2 445.0,204.5 447.2,210.5 448.0,216.5 450.0,217.0 460.0,214.5 470.0,211.0 481.0,215.6 492.5,213.8 503.8,211.9 518.8,217.5 530.0,221.5 540.5,223.0 550.0,221.0 556.2,219.4 571.2,225.0 582.5,226.9 593.8,232.5 601.2,240.0 612.5,243.8 627.5,245.6 635.0,249.4 642.5,255.0 650.0,262.5 661.2,266.2 676.2,268.0 687.5,264.4 695.0,260.6 702.5,253.0 710.0,245.6 717.5,238.0 726.0,229.5" fill="none" stroke="#1a1a00" stroke-width="0.8" stroke-opacity="0.85"/>
<polyline points="202.5,267.5 204.6,256.5 212.0,248.6 221.5,241.0 231.0,235.0 238.0,231.0 248.5,224.0 259.0,217.8 269.5,212.3 279.5,210.5 290.0,211.8 300.5,208.0 309.5,205.0 315.0,208.0 318.0,212.0 322.5,212.0 326.5,208.0 331.0,203.5 337.0,200.5 343.0,198.5 348.5,196.0 357.5,193.5 366.5,190.5 374.0,188.4 382.0,186.2 387.5,186.2 392.5,190.5 394.0,196.0 396.0,198.0 401.0,195.8 405.5,192.0 412.0,189.8 418.0,192.0 424.0,193.5 430.0,194.2 435.0,196.2 439.5,200.5 445.0,202.0 449.5,200.5 454.0,197.0 455.5,191.0 454.0,185.0 455.5,180.5 460.0,178.8 467.5,178.8 475.0,180.0 482.5,182.0 488.8,182.5 496.0,182.0 502.5,180.0 510.0,177.5 517.5,178.0 525.0,180.0 530.0,182.5 535.0,186.0 540.0,190.0 545.0,197.0 555.0,198.0 565.0,198.2 570.0,202.0 577.5,205.8 585.0,207.5 593.0,207.5 605.0,204.0 612.5,204.4 627.5,202.5 638.8,210.0 650.0,217.5 661.2,221.2 668.8,228.8 680.0,230.6 695.0,225.0 710.0,221.2 720.0,224.5 731.0,225.5" fill="none" stroke="#1a1a00" stroke-width="0.8" stroke-opacity="0.85"/>
<polyline points="243.0,226.7 244.4,225.4 245.9,224.1 247.4,222.9 249.0,221.9 250.7,220.8 252.4,219.7 254.1,218.7 255.8,217.7 257.6,216.8 259.3,215.9 261.0,215.0 262.8,214.1 264.6,213.1 266.4,212.2 268.2,211.3 269.6,210.8 271.5,210.2 273.4,209.7 275.3,209.2 277.2,208.7 279.0,208.2 280.3,207.9 282.1,207.7 284.0,207.5 285.9,207.4 287.7,207.2 291.7,206.6 293.6,206.2 295.5,205.8 297.4,205.4 299.3,205.0 301.1,204.6 303.0,204.2 304.9,203.7 306.9,203.3 308.6,202.9 309.9,202.7 310.8,202.4 311.8,202.0 313.1,201.8 314.5,201.5 315.8,201.2 325.3,199.5 326.5,198.5 327.2,197.8 328.2,197.1 329.8,196.0 331.5,194.9 333.2,193.9 334.3,193.3 335.7,192.6 337.5,191.8 339.3,191.0 341.9,189.8 343.7,189.1 345.3,188.6 346.4,188.3 348.3,187.8 350.2,187.3 352.1,187.0 354.0,186.7 356.3,186.4 358.2,186.1 360.1,185.9 362.0,185.6 363.9,185.3 365.5,185.1 367.4,184.8 369.1,184.9 370.6,185.2 372.0,185.6 373.9,185.5 375.8,185.2 377.7,185.0 379.6,184.7 381.5,184.6 383.1,184.7 385.1,184.8 387.0,184.9 388.2,185.3 389.8,186.1 391.4,186.7 393.0,187.1 394.5,187.6 395.6,187.4 403.0,187.8 404.1,187.4 405.8,186.7 407.7,186.3 409.6,185.8 410.9,185.6 412.1,185.9 413.0,186.4 414.3,187.1 415.8,188.1 417.4,189.1 419.2,190.1 421.1,190.7 423.0,191.2 424.8,191.0 426.1,190.4 427.4,189.7 428.6,189.0 429.7,188.3 430.7,187.5 431.3,186.7 431.9,186.0 432.6,185.2 433.5,184.5 434.2,183.9 435.1,183.3 448.3,180.9 449.1,180.3 450.0,179.9 450.9,179.4 451.8,179.0 452.8,178.8 453.8,178.7 454.8,178.5 460.0,167.5 467.5,163.8 475.0,161.2 485.0,160.6 490.0,163.0 490.6,168.0 497.5,171.2 506.2,173.8 515.0,173.8 518.8,163.8 525.0,162.5 532.5,166.2 537.5,172.5 540.0,173.8 547.5,170.0 552.5,165.0 554.5,159.0 558.0,157.5 561.0,159.5 563.0,162.0 566.0,166.0 572.5,172.0 580.0,173.2 590.0,172.0 600.0,174.5 605.0,179.5 612.5,182.0 620.0,182.0 623.8,176.4 631.2,170.8 636.0,168.9 638.8,174.5 644.4,178.2 650.0,180.0 655.6,184.0 660.3,187.6 665.0,189.5 672.5,183.9 680.0,179.2 684.7,182.0 687.5,187.6 691.2,193.2 698.8,195.0 704.4,189.5 708.0,182.0 710.0,176.4 712.0,172.6" fill="none" stroke="#1a1a00" stroke-width="0.8" stroke-opacity="0.85"/>
<polyline points="243.3,222.9 244.4,221.7 245.2,220.9 246.2,220.0 247.5,219.0 248.9,218.1 250.2,217.1 251.5,216.2 252.5,215.5 253.9,214.7 255.3,213.9 256.7,213.1 258.2,212.3 259.6,211.4 261.0,210.6 262.4,209.8 263.9,209.0 265.4,208.2 266.6,207.6 267.7,207.1 269.2,206.4 270.8,205.8 272.3,205.2 273.9,204.6 275.5,204.0 277.0,203.4 278.5,202.9 279.7,202.7 281.3,202.3 282.9,201.9 284.5,201.6 286.0,201.3 287.6,201.1 289.1,200.8 290.0,200.8 291.5,200.6 293.1,200.4 294.7,200.2 296.4,200.0 297.9,199.7 299.4,199.4 301.4,199.0 303.0,198.7 304.5,198.3 306.1,197.9 307.6,197.5 312.1,195.9 313.5,195.2 315.0,194.4 316.5,193.6 318.9,192.2 320.2,191.4 321.5,190.6 322.8,189.8 324.1,188.9 325.4,188.0 326.7,187.1 327.9,186.4 328.9,185.8 330.4,185.1 331.9,184.3 333.3,183.5 334.8,182.8 336.3,182.0 337.6,181.3 338.7,181.0 340.3,180.6 341.9,180.1 343.5,179.7 345.1,179.3 346.7,178.9 348.4,178.4 349.3,178.3 350.9,178.4 352.5,178.4 354.2,178.5 355.9,178.6 357.6,178.7 359.3,178.7 361.0,178.8 362.6,178.8 364.3,178.9 365.8,178.8 366.8,178.5 367.4,178.2 367.8,178.0 368.3,177.9 369.4,178.2 374.7,179.8 376.3,179.7 377.8,179.5 379.0,179.4 380.1,179.2 381.6,179.2 383.1,179.1 384.8,179.2 386.4,179.3 387.2,179.3 387.8,179.3 388.8,179.5 398.4,179.5 399.9,179.1 401.3,178.8 402.8,178.4 403.5,178.4 404.0,178.5 405.1,178.6 406.6,178.5 408.1,178.6 409.5,178.7 410.4,178.9 410.8,179.1 411.2,179.4 412.2,179.9 413.7,180.6 415.2,181.3 416.1,181.6 416.7,181.8 427.8,181.4 428.8,180.6 429.8,179.9 430.8,179.1 431.8,178.0 432.9,176.9 434.0,175.7 435.0,174.6 435.9,173.7 437.2,172.5 438.4,171.4 439.7,170.4 441.0,169.3 441.8,168.8 443.3,168.1 444.8,167.3 446.3,166.6 447.5,166.0 448.5,165.6 450.1,165.2 451.6,164.8 453.2,164.4 460.0,163.8 466.2,160.0 472.5,157.5 478.8,156.2 485.0,155.6 491.2,154.4 493.5,151.2 493.8,146.2 494.0,141.9 496.2,138.0 501.2,136.6 505.6,138.5 508.5,143.5 511.2,148.5 515.0,151.6 520.0,150.6 525.0,142.0 530.0,136.5 536.2,133.4 541.2,131.5 547.5,133.0 553.8,135.0 562.5,129.5 570.0,129.5 572.5,134.5 580.0,138.2 587.5,135.8 595.0,129.5 600.0,127.0 602.5,119.5 601.2,112.0 605.0,104.5 612.5,98.2 620.0,93.0 622.0,88.0" fill="none" stroke="#1a1a00" stroke-width="0.8" stroke-opacity="0.85"/>
<polyline points="242.2,221.9 243.3,220.7 244.3,219.8 245.3,218.8 246.6,217.7 247.9,216.7 249.3,215.7 250.6,214.8 251.7,214.0 253.1,213.1 254.4,212.1 255.8,211.2 257.2,210.3 258.6,209.4 259.9,208.5 261.3,207.6 262.8,206.7 264.2,205.9 265.5,205.2 266.8,204.5 268.3,203.8 269.8,203.1 271.4,202.5 272.9,201.9 274.5,201.3 276.0,200.7 277.6,200.3 278.9,200.1 280.6,199.8 282.2,199.5 283.8,199.3 285.4,199.2 287.0,199.1 288.6,199.0 289.8,199.0 291.3,198.9 293.0,198.6 294.6,198.3 296.2,198.0 297.8,197.5 299.3,197.1 301.1,196.5 302.6,196.0 304.1,195.5 305.6,195.0 307.2,194.4 310.4,193.2 311.9,192.5 313.5,191.8 315.0,191.1 317.1,190.0 318.5,189.3 319.9,188.7 321.3,188.0 322.8,187.3 324.2,186.6 325.6,185.8 326.9,185.1 328.2,184.5 329.7,183.8 331.2,183.2 332.7,182.5 334.2,181.8 335.7,181.1 337.1,180.4 338.4,180.0 340.0,179.5 341.6,179.1 343.2,178.6 344.8,178.1 346.5,177.7 348.1,177.3 349.3,177.1 350.9,177.2 352.6,177.3 354.2,177.4 355.9,177.5 357.6,177.6 359.3,177.7 361.0,177.8 362.6,177.9 364.3,178.0 365.8,177.8 366.9,177.2 367.7,176.5 368.6,176.2 369.5,176.0 370.9,176.1 374.7,176.9 376.3,176.7 377.8,176.3 379.2,176.0 380.4,175.6 381.9,175.4 383.5,175.2 385.2,175.1 386.8,175.1 388.0,175.0 389.0,175.0 390.3,175.1 396.7,175.2 398.2,175.0 399.8,174.9 401.3,174.7 402.4,174.8 403.4,175.1 404.7,175.2 406.2,175.4 407.7,175.7 409.2,176.1 410.3,176.4 411.1,177.0 411.9,177.5 413.1,178.2 414.6,178.9 416.1,179.4 417.3,179.8 418.4,180.1 425.7,179.8 426.9,179.2 428.2,178.7 429.4,178.1 430.6,177.0 431.8,176.0 433.0,174.9 434.1,173.8 435.1,172.7 436.3,171.6 437.6,170.5 438.9,169.5 440.3,168.5 441.3,167.8 442.8,167.0 444.3,166.3 445.8,165.5 447.1,164.9 448.3,164.4 449.8,163.8 451.4,163.3 452.9,162.8 456.0,162.5 466.0,157.5 474.0,154.5 479.0,150.0 476.0,143.0 470.0,138.0 466.0,131.0 470.0,127.0 478.0,124.0 484.0,122.0 492.0,125.0 500.0,127.0 512.5,124.5 525.0,123.2 537.5,120.8 550.0,117.0 562.5,112.0 572.5,104.5 580.0,97.0 585.0,88.0" fill="none" stroke="#1a1a00" stroke-width="0.8" stroke-opacity="0.85"/>
<polyline points="241.1,221.0 242.2,219.8 243.3,218.7 244.5,217.6 245.7,216.5 247.0,215.4 248.3,214.4 249.6,213.4 250.9,212.4 252.2,211.4 253.6,210.4 254.9,209.4 256.2,208.4 257.5,207.4 258.9,206.4 260.2,205.4 261.6,204.5 263.1,203.7 264.5,202.8 265.9,202.0 267.3,201.2 268.8,200.5 270.4,199.9 271.9,199.3 273.5,198.6 275.0,198.1 276.6,197.7 278.2,197.5 279.9,197.3 281.5,197.1 283.2,197.0 284.8,197.0 286.5,197.1 288.1,197.2 289.6,197.2 291.2,197.1 292.8,196.7 294.5,196.4 296.1,195.9 297.6,195.3 299.1,194.7 300.7,194.0 302.2,193.3 303.7,192.7 305.2,192.0 306.9,191.2 308.7,190.5 310.4,189.8 311.9,189.1 313.5,188.5 315.2,187.8 316.8,187.3 318.3,186.8 319.9,186.3 321.4,185.7 322.9,185.1 324.5,184.5 326.0,183.8 327.4,183.2 329.0,182.6 330.5,182.0 332.1,181.4 333.6,180.8 335.2,180.1 336.7,179.5 338.2,179.0 339.8,178.5 341.3,178.0 342.9,177.5 344.5,177.0 346.2,176.6 347.8,176.2 349.3,176.0 350.9,176.0 352.6,176.1 354.3,176.3 355.9,176.4 357.6,176.5 359.3,176.6 361.0,176.8 362.6,176.9 364.3,177.0 365.7,176.7 367.0,175.9 368.1,175.0 369.4,174.5 370.8,174.1 372.5,174.0 374.5,173.9 376.3,173.6 377.8,173.1 379.3,172.6 380.8,172.1 382.3,171.6 383.9,171.2 385.6,171.1 387.2,170.9 388.7,170.8 390.2,170.7 392.2,170.8 394.6,170.9 396.6,170.9 398.2,171.0 399.8,171.1 401.3,171.3 402.8,171.6 404.3,171.9 405.8,172.3 407.4,172.8 408.8,173.4 410.2,174.1 411.4,174.8 412.7,175.6 414.0,176.4 415.5,177.1 417.0,177.5 418.5,178.0 420.5,178.2 423.0,178.1 425.0,177.8 426.6,177.5 428.0,176.9 429.4,176.1 430.7,175.1 432.0,174.1 433.2,172.9 434.3,171.8 435.5,170.6 436.8,169.6 438.1,168.6 439.5,167.6 440.8,166.8 442.3,166.0 443.8,165.3 445.3,164.5 446.7,163.8 448.1,163.1 453.2,160.8 462.1,156.9 467.6,154.8 469.6,154.3 471.5,153.4 473.4,152.3 474.5,151.1 474.3,149.3 473.3,146.7 471.9,144.3 470.3,142.7 468.8,141.5 467.4,140.4 466.1,139.1 465.0,137.5 464.1,135.7 463.1,134.0 462.1,132.6 461.1,131.5 460.1,130.6 459.0,129.9 457.7,129.4 456.4,129.0 455.0,128.6 453.7,128.5 452.3,128.5 450.9,128.5 449.5,128.4 448.3,128.0 447.2,127.3 446.1,126.3 445.3,125.3 444.5,124.1 443.8,122.9 443.2,121.7 442.8,120.4 442.5,119.0 442.3,117.8 442.7,116.8 443.7,116.1 445.0,115.6 446.3,115.1 447.5,114.5 448.9,114.1 450.5,113.6 452.2,113.0 454.0,112.5 455.5,112.3 457.0,112.3 458.4,112.5 459.8,112.6 461.2,112.7 462.5,112.9 463.8,113.3 465.3,113.7 466.9,114.1 468.6,114.5 470.3,115.0 471.8,115.6 473.4,116.2 475.0,116.7 476.7,117.0 478.5,117.1 480.5,117.1 482.2,117.4 483.7,117.8 485.1,118.3 486.7,118.9 488.6,119.3 490.6,119.5 492.7,119.6 494.8,119.8 496.9,119.9 499.3,119.9 502.0,119.9 504.4,119.8 506.5,119.7 508.5,119.6 510.5,119.6 512.4,119.6 514.4,119.7 516.4,119.9 518.4,119.9 520.5,119.9 522.6,119.8 524.7,119.5 526.8,119.2 528.9,118.9 530.9,118.5 532.9,118.1 535.0,117.6 537.1,117.1 539.1,116.5 540.8,115.7 542.4,114.6 543.8,113.3 545.2,112.1 546.6,110.8 547.7,109.4 548.4,107.9 548.9,106.4 549.2,105.0 549.0,103.8 547.9,102.9 547.2,100.9 546.9,95.6 545.0,88.0" fill="none" stroke="#1a1a00" stroke-width="0.8" stroke-opacity="0.85"/>
<polyline points="453.0,161.7 461.1,158.3 466.1,156.3 467.9,155.7 469.9,155.1 471.9,154.2 473.9,153.0 475.2,151.9 475.4,149.9 474.7,146.3 473.1,143.2 471.4,141.4 469.9,140.2 468.8,139.2 467.8,138.1 466.8,136.5 465.8,134.7 464.8,133.1 464.1,132.0 463.6,131.3 463.1,130.8 462.5,130.4 461.8,130.1 461.2,129.9 460.5,129.7 459.8,129.7 459.1,129.7 458.4,129.7 457.7,129.6 457.1,129.4 456.5,129.1 456.0,128.6 455.5,128.0 455.1,127.5 454.8,126.9 454.5,126.2 454.3,125.6 454.1,124.9 454.0,124.2 454.2,123.7 454.7,123.4 455.4,123.1 456.0,122.9 456.7,122.6 457.5,122.2 458.7,121.6 460.1,120.8 461.4,120.1 462.5,119.7 463.3,119.6 464.1,119.6 464.8,119.7 465.5,119.7 466.2,119.9 466.9,120.0 467.8,120.2 469.2,120.2 470.7,120.1 472.2,120.1 473.6,120.2 474.9,120.3 476.3,120.4 477.8,120.3 479.5,120.1 481.3,119.8 482.8,119.7 483.8,119.9 484.7,120.2 486.1,120.7 487.9,121.2 489.8,121.6 491.8,122.1 494.0,122.5 496.2,122.8 498.8,123.0 502.3,123.0 505.0,122.8 507.0,122.6 509.0,122.3 510.9,122.1 512.7,122.0 514.6,122.0 516.6,121.9 518.6,121.9 520.7,121.8 522.8,121.6 525.0,121.3 527.2,120.9 529.2,120.6 531.2,120.2 533.3,119.8 535.4,119.3 537.5,118.8 539.6,118.2 541.4,117.5 543.0,116.7 544.5,115.8 546.1,115.0 547.7,114.0 549.1,113.0 550.0,112.0 550.8,111.1 551.3,110.2 551.3,109.6 550.4,109.3 550.4,106.9 552.8,99.3 556.0,88.0" fill="none" stroke="#1a1a00" stroke-width="0.6" stroke-opacity="0.85" stroke-dasharray="2.6 4.6"/>
<polyline points="453.9,163.6 456.9,163.2 458.7,162.8 459.7,162.3 460.9,161.6 462.3,160.9 463.6,160.1 464.9,159.4 466.2,158.7 467.6,158.2 469.1,157.6 470.5,157.0 471.9,156.5 473.3,156.1 474.6,155.5 475.9,154.9 477.1,154.3 478.2,153.7 478.9,153.0 478.8,152.4 478.4,151.7 478.0,151.0 477.6,150.3 477.0,149.7 477.8,145.7 480.5,138.1 482.6,133.9 483.5,133.0 484.5,132.3 485.4,131.7 486.2,131.4 486.9,131.1 487.7,130.9 488.4,130.6 489.2,130.4 489.9,130.2 490.6,130.3 491.4,130.5 492.2,130.8 492.9,131.0 493.7,131.3 494.5,131.5 495.6,131.6 497.0,131.6 498.4,131.6 499.6,131.7 500.6,131.7 501.4,131.7 502.1,131.5 502.9,131.4 503.8,131.3 505.0,131.3 506.4,131.4 507.6,131.5 508.7,131.5 509.6,131.4 513.4,131.1 520.3,130.6 524.1,130.3 524.9,130.2 525.8,130.0 526.7,129.9 527.8,129.6 529.1,129.2 530.5,128.7 532.0,128.3 533.2,127.9 534.4,127.5 535.8,127.1 537.3,126.7 538.6,126.3 539.6,126.1 540.5,125.8 541.3,125.6 542.0,125.4 542.9,125.2 544.1,125.0 545.5,125.0 546.9,124.9 549.9,124.5 554.5,123.7 557.4,122.9 558.4,122.4 559.2,122.1 559.9,121.8 560.7,121.5 561.4,121.2 562.2,120.9 563.1,120.5 564.3,120.1 565.6,119.6 566.8,119.1 568.1,118.7 569.2,118.2 570.1,117.7 570.8,117.3 571.3,116.8 575.9,114.0 584.3,109.0 588.8,106.2 589.5,105.5 590.3,104.4 591.1,103.2 591.9,101.9 592.7,100.5 593.3,99.3 593.8,98.4 594.2,97.6 594.6,97.0 595.4,94.4 597.0,88.0" fill="none" stroke="#1a1a00" stroke-width="0.6" stroke-opacity="0.85" stroke-dasharray="2.6 4.6"/>
<polyline points="454.7,165.1 458.9,164.3 461.6,163.5 463.0,162.7 464.4,162.0 465.8,161.2 467.2,160.5 468.6,159.9 470.1,159.4 471.5,158.8 473.0,158.3 474.4,157.9 475.9,157.6 477.5,157.3 479.0,157.0 480.6,156.8 482.1,156.6 483.7,156.4 485.3,156.2 486.9,156.0 488.4,155.7 490.0,155.4 491.5,154.7 492.8,153.5 493.7,152.0 494.2,150.3 494.4,148.7 494.5,147.1 494.6,145.6 494.7,144.0 494.9,142.6 495.4,141.4 496.1,140.2 496.9,139.3 498.0,138.7 499.4,138.3 500.7,138.0 501.8,138.1 502.9,138.6 504.2,139.4 505.1,140.2 505.9,141.3 506.6,142.6 507.4,144.0 508.2,145.4 509.0,146.8 509.9,148.2 511.0,149.6 512.3,150.7 513.6,151.6 515.2,152.2 516.8,152.3 518.4,152.2 519.9,152.0 521.0,151.4 521.8,150.7 522.7,149.9 523.5,149.2 524.3,148.5 524.9,147.8 525.4,147.2 526.1,146.6 527.0,146.1 528.0,145.6 529.0,145.1 530.3,144.8 531.6,144.5 532.5,144.2 533.3,143.9 534.1,143.5 537.2,143.1 542.7,142.4 546.0,142.1 547.2,142.0 548.5,141.9 549.9,141.9 551.1,141.9 552.1,142.0 552.9,142.3 553.6,142.5 555.3,143.6 558.7,144.5 563.5,142.4 570.6,140.4 578.8,142.6 585.0,144.8 589.4,141.9 593.8,137.9 600.6,138.2 609.4,139.8 617.5,136.9 624.4,132.2 629.4,131.9 633.1,132.9 638.1,129.8 645.6,127.9 655.0,130.1 663.8,131.6 670.0,131.9 676.2,132.9 685.0,132.9 693.9,132.6 702.0,133.2 711.6,133.1 721.0,131.6 727.5,129.2 732.0,127.0" fill="none" stroke="#1a1a00" stroke-width="0.6" stroke-opacity="0.85" stroke-dasharray="2.6 4.6"/>
<polyline points="202.5,271.5 204.2,266.7 206.1,257.6 212.1,250.5 221.1,247.9 229.0,244.3 233.6,238.3 239.7,235.1 247.4,233.1 254.7,230.6 262.7,229.1 270.9,228.0 277.5,225.7 283.9,223.9 291.3,223.8 299.5,225.2 306.9,227.8 313.4,231.8 320.8,235.4 328.7,234.1 336.8,229.0 344.7,225.9 350.2,230.5 356.3,232.9 363.8,234.8 372.2,236.9 380.3,238.6 387.8,240.0 396.0,237.1 403.1,232.7 409.1,230.5 415.0,230.1 421.2,232.8 427.0,237.4 431.3,243.7 439.3,241.5 446.0,238.6 452.4,233.8 460.1,233.7 466.7,237.4 472.4,242.0 478.2,244.7 483.5,241.7 492.2,235.8 499.1,231.7 503.2,236.4 508.4,240.3 515.0,241.9 523.0,241.2 529.8,238.3 536.8,239.8 544.0,244.4 551.8,246.2 559.6,248.8 564.2,254.3 567.0,260.5 572.8,267.3 579.3,273.0 587.0,276.2 593.3,278.7 598.9,278.8 604.9,281.8 613.8,287.0 622.5,292.1 628.3,296.1 631.1,301.1 627.8,309.7 629.5,317.3 630.0,323.3 623.6,325.2 622.4,329.1 625.5,338.2 628.3,345.3 633.0,350.7 641.0,356.4 647.5,363.1 649.0,369.0 650.7,376.2 652.5,383.0" fill="none" stroke="#1a1a00" stroke-width="0.8" stroke-opacity="0.85"/>
<polyline points="203.5,274.0 206.8,267.9 210.9,259.0 220.7,254.5 227.9,254.9 232.3,257.1 238.5,262.3 250.0,263.4 259.3,263.7 265.3,264.4 274.1,267.4 283.4,267.0 291.4,263.8 300.4,263.3 308.1,262.3 315.2,261.2 324.3,263.6 331.9,266.2 338.7,260.4 347.9,257.3 356.0,260.0 361.8,260.4 371.4,259.7 382.3,259.3 389.0,260.5 395.5,262.6 405.7,262.9 414.4,259.2 422.4,255.5 431.2,257.5 438.8,260.4 446.8,260.6 456.5,261.5 463.9,262.9 469.7,263.3 478.2,264.9 487.0,268.7 494.9,270.9 504.4,271.4 513.8,273.6 519.7,276.6 524.7,280.6 527.6,286.7 535.1,294.2 543.9,301.2 548.9,306.6 553.9,309.3 559.0,316.1 559.6,326.1 562.8,331.2 569.6,335.0 573.5,342.8 579.1,347.8 586.9,352.2 592.3,358.5 598.8,361.7 608.4,362.5 617.8,365.6 623.5,369.8 630.1,372.5 637.0,379.6 643.7,385.9 648.1,391.5 648.0,401.0" fill="none" stroke="#1a1a00" stroke-width="0.8" stroke-opacity="0.85"/>
<polyline points="205.6,277.0 214.8,277.9 221.3,281.4 227.2,286.8 234.2,286.3 240.5,283.9 248.6,281.0 256.8,279.6 263.5,280.1 272.1,282.9 281.4,285.8 287.8,283.6 293.5,279.2 300.5,275.3 308.2,274.8 315.3,271.8 323.8,270.4 331.6,270.1 338.0,267.2 346.6,267.2 354.5,273.4 360.4,279.3 367.3,280.6 377.3,281.1 386.6,280.1 391.3,279.4 397.4,280.0 407.4,282.8 414.9,285.7 419.7,287.0 426.3,288.8 435.4,292.0 442.6,298.5 446.3,305.3 450.0,310.1 456.8,314.2 464.3,320.0 469.5,327.1 471.1,333.4 475.2,339.9 481.9,347.5 488.1,353.0 491.9,358.6 494.4,367.2 496.7,372.8 500.7,376.2 509.0,378.4 516.7,379.6 522.3,383.0 528.8,387.3 536.4,390.5 544.2,393.5 550.4,392.2 556.1,390.1 564.7,390.7 571.8,394.0 578.5,393.7 587.6,393.3 597.4,394.0 604.2,392.2 611.3,390.6 619.5,393.3 627.1,394.3 634.2,394.7 641.6,399.3 648.3,405.8 655.0,407.5" fill="none" stroke="#1a1a00" stroke-width="0.8" stroke-opacity="0.85"/>
<polyline points="207.5,298.0 213.7,299.9 221.8,297.4 228.8,300.4 236.8,300.7 242.3,307.0 247.3,313.1 255.7,312.1 265.7,310.3 273.8,309.9 279.1,307.7 284.6,303.7 292.2,302.6 300.2,303.5 307.1,300.6 314.5,299.2 322.2,298.4 330.6,300.2 338.1,302.2 344.6,304.4 350.4,308.5 355.1,312.5 360.4,318.2 365.3,327.0 369.6,332.9 375.1,336.7 382.0,342.3 386.2,351.4 384.6,360.0 387.7,366.1 394.5,363.5 404.3,365.8 412.8,372.3 415.6,379.0 415.9,385.2 419.9,392.6 424.8,398.5 431.5,401.7 437.1,405.6 443.4,407.6 452.2,407.8 461.2,407.8 468.1,409.2 473.9,408.4 481.0,404.8 489.3,405.4 497.1,409.8 504.8,413.0 514.0,413.6 523.2,413.7 529.5,415.8 534.2,418.6 540.5,419.9 549.7,419.9 558.9,421.1 562.9,427.9 567.7,431.7 572.7,426.9 578.3,419.0 586.9,415.8 594.1,415.2 600.4,416.5 607.2,415.4 614.3,414.9 617.8,420.7 626.8,420.4 635.0,417.1 643.1,412.7 650.5,411.8 656.2,412.0 663.5,410.5 672.0,405.0" fill="none" stroke="#1a1a00" stroke-width="0.8" stroke-opacity="0.85"/>
<polyline points="453.0,169.5 454.4,168.6 455.8,167.8 457.2,167.1 458.5,166.6 460.0,166.1 461.8,165.3 463.8,164.4 465.8,163.4 467.7,162.5 469.8,161.7 471.9,160.9 473.9,160.2 475.9,159.8 478.1,159.5 480.3,159.2 482.5,159.0 484.5,158.9 486.2,158.8 487.9,158.9 489.6,158.9 491.0,158.6 491.8,157.8 492.1,156.7 491.9,155.5 491.6,154.2 491.4,152.9 491.6,151.8 492.5,151.1 494.0,150.9 495.6,151.2 496.7,151.7 501.0,152.6 508.8,153.8 513.0,154.8 513.6,155.8 514.2,156.7 515.0,157.5 516.0,158.0 517.1,158.4 518.5,158.5 520.5,158.4 522.5,158.2 524.2,158.0 525.7,158.0 527.0,158.2 528.6,158.7 530.5,159.4 532.5,160.3 534.3,161.0 538.4,160.5 545.1,158.9 549.0,157.8 550.1,157.3 551.0,156.7 552.1,156.0 553.4,155.3 555.1,154.6 556.6,154.1 557.8,153.8 558.7,153.2 559.6,152.5 560.6,151.8 561.6,151.3 562.6,150.8 563.8,150.4 565.3,150.6 566.8,151.2 567.9,151.7 569.1,152.1 570.4,152.9 571.7,154.1 575.8,156.6 582.8,159.7 587.1,160.9 588.5,160.2 589.4,159.4 590.1,158.5 590.5,157.5 591.0,156.5 591.7,156.0 592.8,156.0 594.2,156.3 596.0,156.7 598.0,157.4 600.1,158.1 602.1,158.9 603.8,159.6 605.0,159.8 609.8,159.0 618.5,157.5 623.4,156.4 624.4,155.7 625.7,154.9 627.2,153.9 628.8,152.9 630.0,152.1 631.0,151.7 632.0,151.5 632.8,151.7 633.3,152.6 633.6,153.7 634.0,154.3 634.5,154.0 634.9,153.1 635.5,152.1 636.0,151.1 636.6,150.3 637.5,149.9 638.6,149.9 639.7,149.9 640.8,150.1 642.0,150.4 643.3,150.7 644.4,151.0 645.5,151.3 646.6,151.7 647.6,152.0 648.7,152.4 649.7,152.8 656.2,154.0 668.1,156.1 674.5,156.8 675.3,156.8 676.1,157.4 676.9,158.1 677.9,158.5 678.9,158.4 680.0,158.1 681.1,157.8 682.2,157.6 687.3,156.7 696.4,155.0 701.5,154.2 702.6,154.2 703.8,154.3 704.9,154.5 706.0,154.7 707.1,154.9 708.2,155.0 709.3,155.0 710.4,155.1 711.6,155.1 712.7,155.1 713.8,155.1 714.9,155.1 716.1,155.0 717.2,154.9 718.2,154.7 719.1,154.1 719.9,153.4 720.8,152.7 721.8,152.5 722.9,152.6 723.7,153.2 724.5,154.0 727.5,153.6 735.1,151.4 745.0,149.0" fill="none" stroke="#1a1a00" stroke-width="0.6" stroke-opacity="0.85" stroke-dasharray="2.6 4.6"/>
<polyline points="452.6,180.8 453.7,180.0 454.9,179.4 456.0,178.5 457.2,177.3 458.3,176.1 459.0,175.0 459.6,174.0 460.7,173.2 462.2,172.6 464.1,172.1 465.9,171.6 467.5,171.2 469.1,170.9 470.8,170.6 472.7,170.5 474.8,170.5 476.6,170.5 478.3,170.6 480.2,170.7 482.7,171.1 486.0,171.8 489.0,172.5 490.5,173.2 491.0,174.2 491.7,175.1 493.6,175.5 496.2,175.7 498.3,175.8 500.2,175.9 502.1,176.0 504.0,176.0 506.0,176.0 507.9,175.8 509.7,175.7 511.5,175.7 513.4,175.6 514.9,175.2 515.8,174.4 516.5,173.4 517.2,172.4 517.8,171.5 518.7,170.9 520.1,170.7 522.0,170.8 524.0,171.2 525.9,171.8 527.4,172.5 528.6,173.2 530.1,174.2 531.6,175.4 532.9,176.6 534.2,177.7 535.8,178.5 537.3,178.8 538.7,178.7 540.0,178.4 541.2,178.0 542.1,177.5 542.9,176.7 543.6,175.9 544.1,175.0 544.4,173.8 544.7,172.8 545.5,172.3 546.8,172.3 548.3,173.1 549.8,174.4 554.0,176.6 560.8,179.8 564.7,181.7 565.6,182.5 566.4,183.3 567.3,184.0 568.4,184.7 569.4,185.2 570.5,185.5 571.5,185.7 572.6,185.8 573.7,185.7 574.9,185.7 577.1,186.3 583.4,187.6 592.4,188.5 597.5,188.8 599.3,188.8 600.7,189.0 601.8,189.3 602.9,189.8 603.9,190.5 604.8,191.2 605.8,191.8 607.3,192.3 609.7,192.6 612.8,192.9 615.5,192.9 617.6,192.8 619.7,192.6 621.5,192.1 623.0,191.3 624.3,190.3 625.4,189.4 626.3,188.7 627.2,188.1 628.1,187.4 629.2,186.9 630.4,186.4 631.3,186.2 632.1,186.5 632.6,187.3 633.2,188.2 633.9,188.9 634.7,189.6 635.8,190.2 637.3,191.0 639.1,191.9 641.0,192.9 642.8,194.0 644.6,195.2 646.4,196.5 648.2,197.7 649.9,199.0 651.7,200.2 654.5,201.7 658.2,203.4 660.9,204.0 662.4,203.6 663.8,203.2 665.3,202.7 666.7,202.3 667.7,201.7 668.7,201.1 669.6,200.6 670.6,200.5 676.0,201.4 685.4,202.9 690.5,204.1 691.3,205.0 692.0,205.9 692.9,206.8 693.9,207.6 695.0,208.2 696.6,208.6 698.5,208.7 700.5,208.6 702.4,208.3 704.1,207.5 705.6,206.6 706.7,205.7 707.4,204.8 708.0,203.9 708.4,202.9 708.9,201.9 709.3,200.9 709.7,199.9 710.1,198.9 710.5,197.9 711.6,196.9 714.0,196.0" fill="none" stroke="#1a1a00" stroke-width="0.6" stroke-opacity="0.85" stroke-dasharray="2.6 4.6"/>
<polyline points="452.1,191.9 453.2,191.7 457.6,192.5 465.1,194.1 469.4,195.0 470.6,195.2 471.7,195.4 472.9,195.6 474.0,195.9 475.2,196.2 476.6,196.6 480.7,197.2 487.4,197.8 492.0,197.9 494.3,197.7 496.7,197.4 499.0,197.0 501.0,196.6 502.4,196.2 503.5,195.8 504.6,195.4 505.8,195.1 506.9,194.8 508.1,194.8 509.4,194.9 511.0,195.2 513.0,195.8 515.2,196.4 517.5,197.2 519.7,198.0 521.8,198.9 524.0,200.0 526.2,201.0 528.3,202.1 530.3,203.2 534.5,204.4 540.8,205.6 544.4,206.6 545.6,207.5 547.1,208.2 548.8,208.6 550.9,208.7 552.7,208.6 554.3,208.7 555.7,208.7 557.0,208.8 558.2,208.8 559.4,208.8 560.8,209.1 562.6,209.9 564.6,211.0 566.7,212.0 568.8,213.0 571.4,214.0 574.6,215.1 577.3,215.9 579.6,216.4 581.8,216.8 583.8,217.1 585.3,217.2 586.7,217.3 588.2,217.4 590.0,217.4 591.9,217.5 593.8,217.5 595.7,217.6 597.7,217.7 599.6,218.0 601.3,218.3 602.6,218.4 603.8,218.4 604.9,218.2 606.1,218.1 607.3,218.0 611.8,219.3 619.9,222.3 625.1,224.0 627.2,224.6 628.9,225.4 630.3,226.1 631.5,226.8 632.7,227.5 633.6,228.1 634.6,228.8 635.8,229.5 637.5,230.5 639.4,231.7 641.4,232.8 643.1,233.6 644.4,234.1 645.7,234.6 647.3,235.3 649.2,236.4 651.0,237.7 652.7,239.1 654.0,240.2 655.0,241.2 659.2,243.4 670.5,245.2 683.0,243.8 688.7,242.2 690.3,241.9 692.0,241.3 693.8,240.2 695.7,239.1 697.5,237.9 699.5,236.7 701.4,235.5 703.3,234.3 705.1,233.2 707.0,232.2 708.8,231.2 710.7,230.2 712.5,229.2 714.4,228.2 716.1,227.5 717.7,227.3 719.2,227.3 720.7,227.3 722.3,227.2 723.7,227.1 725.0,227.2 726.1,227.3 727.3,227.4 728.5,227.5" fill="none" stroke="#1a1a00" stroke-width="0.6" stroke-opacity="0.85" stroke-dasharray="2.6 4.6"/>
<polyline points="203.2,269.1 203.8,269.6 203.6,267.2 203.6,264.7 203.8,262.0 204.3,259.4 205.3,256.8 206.8,254.2 208.5,252.0 210.4,250.2 212.8,249.0 215.5,248.1 218.5,247.4 221.5,246.6 224.2,245.5 226.6,244.2 228.5,242.7 230.1,240.9 231.4,239.0 232.5,237.2 233.7,235.7 235.2,234.6 237.0,233.8 239.0,233.0 241.2,232.3 243.5,231.6 245.7,230.8 247.9,229.9 250.2,228.9 252.4,227.8 254.6,226.9 256.8,226.0 258.9,225.2 261.0,224.6 263.2,224.1 265.3,223.6 267.3,223.1 269.3,222.5 271.4,221.8 273.4,221.3 275.3,220.9 277.4,220.5 279.7,220.3 281.9,220.2 284.1,220.2 286.3,220.3 288.3,220.3 290.0,220.1 291.9,219.9 294.2,219.4 296.8,218.9 299.5,218.3 302.3,217.8 305.1,217.3 307.7,216.9 309.7,216.6 311.1,216.9 312.6,217.9 314.0,219.3 315.0,221.0 316.0,222.5 317.3,223.4 318.8,223.8 320.1,223.5 323.3,222.3 329.5,219.9 334.2,218.1 336.3,216.8 338.0,215.8 339.3,215.3 340.4,214.8 341.6,214.5 342.9,214.1 344.3,213.8 345.5,213.4 346.5,213.0 347.6,212.6 348.7,212.3 349.9,212.1 351.0,211.9 352.3,211.9 355.2,212.6 359.4,213.8 362.4,213.8 364.2,213.1 365.6,212.3 366.8,211.5 368.0,210.7 369.3,209.9 371.1,209.3 377.9,209.4 388.7,212.8 393.7,211.8 394.7,211.9 395.8,212.2 396.8,212.9 397.3,213.9 397.6,215.2 398.1,216.1 399.3,216.4 401.6,215.8 404.5,214.7 407.2,213.8 409.6,212.9 411.7,212.2 413.5,211.8 414.7,211.4 415.6,211.4 416.4,211.7 417.3,212.2 418.3,212.5 419.3,212.8 420.2,212.9 421.2,212.9 422.3,212.8 423.4,212.8 424.5,213.0 425.7,213.4 426.8,213.8 433.6,214.5 442.8,217.0 446.2,217.3 446.9,217.6 447.6,218.1 448.2,218.9 448.8,219.9 449.3,221.1 449.9,222.3 450.6,223.0 451.5,222.9 452.6,222.4 453.8,221.8 455.1,221.2 456.6,220.7 458.2,220.2 459.8,219.8 461.4,219.5 463.5,219.6 466.1,220.2 472.2,221.6 479.4,223.5 484.4,224.6 486.1,224.7 487.8,224.5 489.4,224.1 490.7,223.7 492.1,223.3 493.3,222.8 494.4,222.3 495.4,221.8 496.5,221.3 497.6,220.8 498.7,220.4 499.8,220.2 500.9,220.3 502.1,220.6 503.3,220.9 504.7,221.4 510.2,224.4 518.7,229.8 523.2,230.9 525.0,230.8 526.7,230.6 528.3,230.7 529.5,230.9 530.8,231.1 532.3,231.4 533.7,231.7 535.0,232.1 536.5,232.5 538.4,233.0 540.5,233.6 542.6,234.2 544.6,234.5 547.0,234.6 549.9,234.4 552.6,233.9 555.0,233.6 557.7,233.5 560.2,233.6 562.1,233.8 563.5,234.1 564.9,234.5 566.7,235.2 568.7,236.2 570.7,237.4 572.4,238.7 573.8,239.8 574.8,240.5 575.6,241.2 576.3,241.7 577.2,242.3 578.1,243.0 579.1,244.0 580.4,245.5 581.9,247.3 583.9,249.8 589.4,253.4 596.9,258.3 601.1,261.2 602.8,261.9 604.0,262.5 605.2,262.8 606.6,263.1 608.2,263.4 609.7,263.5 611.2,263.5 612.9,263.6 615.1,263.8 617.7,264.3 620.2,265.0 623.2,266.0 626.1,267.7 627.9,269.2 629.1,270.5 630.2,271.8 631.0,273.0 631.6,273.9 632.3,274.9 633.0,276.0 633.9,277.0 634.8,277.8 636.1,278.8 637.9,280.1 640.1,281.6 642.3,283.0 644.5,284.2 646.4,284.9 647.9,285.1 649.2,285.2 650.6,285.2 652.0,285.2 653.4,285.0 654.8,284.6 656.2,284.1 657.6,283.6 659.1,283.1 660.4,282.6 661.8,282.0 663.0,281.5 664.2,280.9 665.1,280.2 665.9,279.5 666.7,278.7 667.4,278.0 668.1,277.2 668.9,276.5 669.6,275.7 670.4,274.9 671.2,274.0 672.0,273.1 672.8,272.2 673.6,271.1 674.4,270.1 675.1,269.0 675.9,267.9 676.6,266.9 677.3,265.8 678.0,264.9 681.4,264.3 689.6,264.2 699.0,262.0" fill="none" stroke="#1a1a00" stroke-width="0.6" stroke-opacity="0.85" stroke-dasharray="2.6 4.6"/>
<polyline points="203.4,271.9 205.2,272.3 205.4,269.9 205.5,267.5 205.6,265.0 205.9,262.6 206.6,260.6 208.1,258.3 210.1,256.0 212.3,254.1 214.6,252.6 216.8,251.7 219.2,251.3 221.7,251.1 224.0,251.1 226.1,251.0 227.9,250.8 229.4,250.3 230.4,249.8 231.3,249.1 232.2,248.5 233.1,247.9 234.1,247.4 235.3,247.0 236.9,246.8 238.8,246.7 240.9,246.6 243.1,246.5 245.0,246.2 246.6,245.7 248.0,245.1 251.8,245.2 257.1,245.4 260.3,245.8 262.2,245.9 264.1,246.4 266.1,247.1 268.3,247.9 271.5,248.9 275.6,249.0 278.7,247.9 281.0,246.7 283.4,245.3 285.9,244.1 289.3,242.9 293.7,242.4 296.9,242.8 299.0,243.4 300.9,243.9 302.5,244.4 303.7,244.8 304.6,245.0 305.4,245.3 306.3,245.6 307.3,245.8 308.2,246.0 309.4,246.2 311.1,246.5 313.3,246.9 315.9,247.4 318.5,248.0 321.2,248.7 323.6,249.2 327.8,249.2 333.4,247.4 337.8,245.2 340.6,243.8 343.5,242.6 346.0,241.7 347.9,241.2 349.3,241.3 350.5,241.8 351.9,242.5 353.6,243.3 355.3,243.9 357.0,244.3 358.6,244.6 360.2,244.7 361.8,244.9 363.2,245.1 364.4,245.4 365.9,245.8 368.0,246.2 370.6,246.5 373.4,246.9 376.1,247.2 378.7,247.5 381.0,247.7 382.9,248.0 384.6,248.2 386.3,248.3 388.1,248.0 389.8,247.6 393.3,247.3 398.8,247.4 402.7,247.0 404.7,246.2 406.5,245.4 407.8,244.8 409.0,244.3 410.5,243.6 412.2,242.9 414.0,242.3 416.0,241.8 417.7,241.8 419.2,242.3 420.5,243.0 421.6,243.8 422.6,244.6 423.4,245.5 424.4,246.5 425.7,247.7 427.5,249.0 429.4,250.2 431.1,250.8 432.8,251.0 434.4,251.3 436.1,251.4 438.2,251.6 440.8,251.7 443.4,251.6 445.7,251.2 448.1,250.6 450.6,249.8 453.2,249.4 455.6,249.4 457.7,249.7 459.5,250.0 461.6,250.6 463.7,251.2 465.6,251.9 467.4,252.6 469.1,253.1 471.5,253.6 474.6,254.4 477.3,255.3 479.4,255.9 481.4,256.1 483.2,255.7 484.7,255.0 485.9,254.1 486.7,253.1 487.5,252.2 488.4,251.2 489.3,250.2 490.3,249.6 491.9,249.9 493.9,250.7 496.0,251.7 498.0,252.7 500.0,253.6 502.0,254.4 503.9,255.4 505.7,256.4 507.4,257.2 509.8,258.0 512.8,258.7 515.3,259.1 517.5,259.2 519.7,259.2 521.7,259.0 523.4,258.7 524.9,258.3 526.3,257.8 527.7,257.6 528.9,258.0 530.4,258.9 532.3,260.1 534.3,261.4 536.1,262.5 537.3,263.1 538.4,263.4 539.3,263.7 540.3,263.9 541.2,264.0 542.1,264.3 542.9,264.8 543.9,265.4 544.8,266.0 545.6,266.7 546.3,267.5 546.9,268.3 547.7,269.4 548.8,270.8 551.6,273.9 555.9,280.1 559.7,285.9 562.2,288.5 564.3,290.6 566.5,292.4 568.6,293.9 570.3,294.8 571.5,295.4 572.6,295.8 573.6,296.2 574.5,296.5 575.5,296.7 576.4,296.8 577.4,296.9 578.3,297.0 579.1,297.3 579.9,297.7 580.6,298.2 581.4,298.7 582.2,299.3 583.1,299.9 585.5,302.3 590.5,308.0 593.8,312.0 595.2,312.7 596.5,313.3 597.6,314.1 601.1,317.9 605.9,322.3 609.2,324.0 610.2,324.6 611.1,325.5 611.5,326.7 613.0,328.5 615.4,331.1 616.6,333.3 617.0,334.8 618.6,336.9 620.7,339.6 621.8,341.7 622.0,342.9 621.5,343.5 620.2,343.4 618.6,344.1 618.0,346.5 618.8,349.1 620.1,351.0 621.5,352.9 622.8,354.6 623.8,356.1 624.9,357.6 626.4,359.2 628.2,360.8 630.1,362.1 632.2,363.3 634.1,364.3 635.4,365.1 636.4,365.8 637.4,366.5 638.4,367.2 639.6,368.2 641.1,369.7 642.6,371.6 644.1,373.9 645.7,376.6 647.2,379.7 648.2,382.3 648.9,384.4 649.4,386.2 649.2,386.3" fill="none" stroke="#1a1a00" stroke-width="0.6" stroke-opacity="0.85" stroke-dasharray="2.6 4.6"/>
<polyline points="204.6,275.5 206.4,276.7 206.9,275.6 207.4,274.5 207.8,273.4 208.1,272.3 208.4,271.2 209.2,270.1 210.7,268.9 212.5,267.7 214.4,266.6 216.3,265.7 218.4,265.0 220.3,264.7 221.6,264.4 222.7,264.3 223.8,264.2 224.9,264.3 226.0,264.7 229.6,267.0 233.7,269.3 237.7,269.7 239.2,270.0 240.3,270.4 241.2,271.0 242.3,271.5 243.9,271.8 245.8,272.0 247.9,272.2 250.4,272.4 252.8,272.5 255.0,272.5 256.9,272.5 258.3,272.4 259.3,272.4 260.2,272.4 261.0,272.4 262.0,272.5 263.4,272.9 265.1,273.3 267.1,274.0 269.5,274.8 272.6,275.8 275.4,276.5 279.2,276.9 283.7,276.3 287.2,274.4 290.3,272.1 292.7,270.6 294.5,269.9 296.3,269.4 297.8,269.2 299.0,269.1 300.2,269.1 301.6,269.2 303.4,269.3 305.2,269.2 307.0,268.9 308.8,268.4 310.9,267.6 312.8,267.0 314.6,266.6 316.6,266.4 318.7,266.4 320.8,266.6 322.8,267.0 324.7,267.5 326.7,268.0 328.6,268.4 330.4,268.5 332.0,268.1 333.5,267.3 334.7,266.4 336.1,265.4 337.7,264.4 339.6,263.4 341.7,262.7 343.9,262.3 346.1,262.3 347.9,262.5 349.4,262.8 351.1,263.6 353.0,264.9 354.7,266.2 356.2,267.5 357.4,268.7 358.6,269.6 359.9,270.4 361.4,270.9 363.1,270.9 365.1,270.6 367.4,270.1 370.0,269.6 375.4,268.6 383.0,267.8 386.7,267.7 388.1,267.7 389.3,267.7 390.3,267.7 391.2,267.9 392.1,268.1 392.9,268.4 393.7,268.6 394.7,268.6 396.3,268.8 398.4,269.2 400.7,269.6 403.1,270.0 405.5,270.2 407.8,270.3 409.8,270.3 411.4,270.1 412.5,269.8 413.5,269.5 414.8,269.3 416.3,269.0 417.9,268.9 419.7,269.1 421.7,269.6 423.8,270.4 426.0,271.4 428.2,272.4 430.1,273.3 431.7,273.9 433.1,274.5 434.5,274.9 436.0,275.4 437.9,275.9 439.9,276.5 441.7,276.9 443.5,277.2 445.3,277.5 447.0,277.8 448.4,278.1 449.5,278.3 450.5,278.5 451.5,278.7 452.4,279.0 453.5,279.4 454.7,280.0 455.8,280.4 457.0,280.9 458.3,281.6 459.6,282.3 460.9,283.0 464.0,285.2 469.2,287.7 473.0,289.2 474.6,289.5 475.8,289.9 476.8,290.3 477.9,290.7 479.0,291.3 480.1,291.9 481.3,292.6 482.4,293.3 483.5,294.0 484.6,294.8 485.7,295.6 486.8,296.2 488.0,296.9 489.2,297.7 490.3,298.2 491.3,298.6 492.2,299.0 493.1,299.5 494.1,300.2 495.2,301.0 496.3,301.9 497.2,302.8 498.0,303.8 498.9,304.8 499.7,305.8 500.4,306.6 501.0,307.5 501.6,308.4 502.2,309.2 502.8,310.3 503.7,311.8 504.8,313.6 505.9,315.6 508.4,320.6 512.4,327.0 518.9,332.2 528.1,337.4 533.0,340.2 533.9,340.7 534.8,341.1 535.7,341.6 536.6,342.0 537.3,342.5 543.2,343.9 552.8,349.6 558.4,354.1 558.8,355.0 559.3,356.0 559.7,357.1 560.1,358.2 560.4,359.3 560.9,360.4 561.7,361.2 562.7,361.5 563.8,361.7 565.0,361.8 566.0,362.1 566.8,362.9 567.3,364.0 567.8,365.1 568.3,366.2 568.9,367.0 569.7,367.5 570.6,367.9 571.6,368.2 572.6,368.4 573.8,368.4 575.4,368.0 577.3,367.6 581.5,366.9 587.9,369.3 591.5,371.8 592.9,372.7 594.2,373.4 595.5,373.9 596.7,374.3 598.0,374.5 599.5,374.6 601.1,374.5 602.9,374.6 604.3,374.8 605.5,375.2 606.6,375.7 607.7,376.2 608.9,376.7 610.2,377.3 611.6,378.0 613.3,378.9 615.2,380.1 617.2,381.6 619.0,383.0 621.1,384.3 623.5,385.1 625.6,385.4 627.2,385.4 628.9,385.5 630.4,385.7 631.7,385.9 632.6,386.2 633.5,386.6 634.6,387.0 636.3,387.6 638.3,388.4 640.3,389.4 642.1,390.6 643.4,391.8 644.5,393.2 645.3,395.0 646.1,396.9 646.8,398.9 647.4,400.9 646.7,402.7" fill="none" stroke="#1a1a00" stroke-width="0.6" stroke-opacity="0.85" stroke-dasharray="2.6 4.6"/>
<polyline points="206.6,287.5 207.1,288.7 208.1,288.9 209.2,289.1 211.9,289.2 216.1,289.2 219.0,289.4 220.3,289.8 221.3,290.3 222.1,290.8 223.0,291.4 223.9,291.8 224.9,292.0 226.2,292.1 229.3,292.5 233.5,293.4 235.9,294.0 236.9,294.0 237.9,294.0 238.8,293.9 239.6,293.8 240.4,293.6 241.3,293.4 242.2,293.2 243.1,293.0 244.2,292.9 245.4,292.8 246.9,292.9 248.6,293.1 253.9,293.6 262.5,293.1 267.4,293.1 270.1,293.1 273.7,293.4 276.4,293.9 278.0,294.2 279.7,294.5 281.4,294.7 283.0,294.7 284.2,294.8 285.2,294.8 286.3,294.5 287.5,294.1 288.6,293.5 289.8,292.9 291.4,292.1 293.2,291.2 296.4,289.5 300.9,287.8 303.7,287.1 304.5,286.7 305.2,286.5 306.2,286.5 307.5,286.7 309.1,286.9 310.7,287.0 312.3,287.0 314.0,286.9 315.5,286.7 316.7,286.5 317.9,286.4 319.2,286.2 320.4,286.1 321.7,286.0 323.6,286.2 326.0,286.5 328.5,286.8 331.0,286.9 333.4,286.9 335.7,286.8 337.9,286.6 340.0,286.2 342.0,285.6 344.0,285.1 345.8,284.8 347.3,285.0 348.3,285.3 349.3,285.8 350.2,286.3 351.1,286.9 352.2,287.9 353.6,289.1 355.0,290.4 356.3,291.6 357.1,292.4 357.9,293.1 358.7,293.8 359.5,294.4 360.2,294.9 360.9,295.3 361.7,295.6 362.5,295.6 363.3,295.6 364.4,295.5 365.5,295.5 366.7,295.4 367.9,295.2 369.3,295.1 370.6,295.0 372.1,295.0 373.7,295.1 375.4,295.6 377.0,296.1 378.5,296.6 379.9,296.9 381.2,297.3 382.3,297.5 383.4,297.8 384.4,298.2 385.5,298.7 386.8,299.5 388.2,300.5 389.7,301.4 392.8,303.7 397.2,307.4 399.6,310.1 400.8,311.4 401.9,313.0 403.0,314.6 404.1,316.2 405.1,317.8 406.0,319.1 406.8,320.1 407.3,320.9 407.8,321.7 408.4,322.6 411.5,325.5 417.8,329.2 421.3,331.8 422.3,332.8 423.7,334.2 425.3,336.0 426.8,337.9 428.2,339.8 429.3,341.1 430.2,342.1 431.0,342.8 431.9,343.6 432.8,344.4 433.6,345.2 434.2,346.0 434.8,346.9 435.6,348.0 436.6,349.2 437.8,350.2 439.1,351.0 440.3,351.6 450.9,351.9 467.6,365.1 478.7,368.8 479.1,369.8 479.5,370.7 479.9,371.5 480.3,372.3 480.7,373.0 481.2,373.7 481.6,374.3 482.1,374.9 482.7,375.4 483.4,376.0 484.3,376.4 485.1,376.9 486.0,377.5 486.8,378.0 487.5,378.7 488.1,379.5 488.8,380.3 489.4,381.3 490.0,382.3 490.7,383.3 491.5,384.2 492.5,385.1 493.9,386.0 495.4,387.2 496.9,388.3 498.3,389.4 499.7,390.3 500.9,391.3 502.2,392.2 503.6,392.9 505.4,393.2 507.1,393.2 508.8,393.2 510.6,393.6 512.5,394.5 514.3,395.6 516.2,396.5 517.9,397.3 519.2,398.0 520.0,398.6 520.8,399.2 522.0,399.9 523.3,400.6 524.8,401.4 526.3,402.0 527.9,402.6 530.1,403.5 532.8,404.8 535.2,405.8 537.1,406.4 539.1,406.8 541.2,406.9 543.5,406.9 545.8,406.7 548.1,406.4 550.3,406.1 552.3,405.6 554.2,405.1 556.1,404.6 557.8,404.3 559.5,404.1 563.1,404.4 568.4,405.6 571.5,406.1 572.4,406.5 573.5,406.8 574.8,407.0 576.6,406.8 578.6,406.3 580.7,405.7 583.0,405.1 585.3,404.6 587.7,404.3 590.4,404.1 593.2,404.1 595.6,404.3 597.8,404.5 599.7,404.7 601.4,404.8 602.8,404.6 604.1,404.2 605.5,403.6 607.0,402.8 608.6,401.9 610.3,401.2 611.8,401.0 613.0,401.2 614.1,401.4 615.3,401.6 616.4,401.9 617.6,402.2 618.8,402.4 620.0,402.6 621.3,402.9 625.6,403.9 631.6,404.8 635.3,404.7 636.8,404.7 638.3,404.9 640.0,405.1 641.6,405.5 643.2,406.1 644.6,406.8 646.0,407.5 647.4,408.2 649.0,408.9 650.5,409.5 652.0,410.0 653.2,410.5 655.2,408.9" fill="none" stroke="#1a1a00" stroke-width="0.6" stroke-opacity="0.85" stroke-dasharray="2.6 4.6"/>
<polyline points="248.0,337.0 256.9,336.4 264.3,335.7 274.5,337.6 282.4,339.1 288.8,340.8 297.5,342.2 305.2,342.8 310.9,343.6 317.7,350.3 328.3,352.9 335.7,357.6 339.6,361.9 342.3,369.6 343.5,378.9 342.3,387.0 344.8,394.9 351.6,401.1 361.3,401.1 371.1,400.7 379.1,400.3 386.8,401.0 395.6,401.3 402.5,406.1 407.0,414.9 410.4,422.9 418.8,422.9 428.8,424.2 436.4,426.0 442.2,426.2 451.0,427.6 461.5,427.2 470.5,423.8 479.2,422.1 486.7,422.2 493.6,423.3 502.7,424.7 513.4,425.6 521.8,427.0 528.3,431.4 535.4,436.4 543.9,438.8 554.4,437.6 564.4,437.9 570.6,437.4 578.3,435.9 588.8,435.0 597.3,433.7 604.7,432.0 612.4,429.5 619.2,426.9 626.6,424.5 635.8,421.6 645.5,418.0 653.8,418.2 659.9,417.6 670.0,414.0" fill="none" stroke="#1a1a00" stroke-width="0.7" stroke-opacity="0.85" stroke-dasharray="3.5 3"/>
<polyline points="161.0,329.0 160.0,323.0 158.0,315.6 160.0,308.0 158.0,298.8 152.5,290.3 143.0,282.8 148.8,283.8 156.2,287.5 163.8,293.0 169.4,299.7 175.0,301.6 182.5,304.4 190.0,310.0 199.4,309.0 204.5,303.4" fill="none" stroke="#1a1a00" stroke-width="0.8" stroke-opacity="0.85"/>
<polyline points="87.0,311.0 93.0,305.0 100.0,303.0 108.0,300.5 115.0,300.0 123.0,302.5 130.0,302.0 136.0,299.0 140.0,294.5 142.5,288.5 141.0,284.5 145.0,281.0 150.0,281.3 157.0,284.8 164.5,290.0 170.0,296.5 176.0,299.0 183.5,301.5 190.0,306.5 198.0,306.5 203.5,302.0" fill="none" stroke="#1a1a00" stroke-width="0.6" stroke-opacity="0.85" stroke-dasharray="2.6 4.6"/>
<polyline points="86.0,306.2 88.8,300.6 94.4,296.9 101.9,293.0 107.5,287.6 115.0,287.6 122.5,289.4 130.0,291.3 135.6,288.5 140.3,283.0 145.0,280.0 152.5,280.5 160.0,284.0 166.0,288.5 171.0,294.0 178.0,297.0 185.0,299.5 191.0,304.0 197.0,305.0 203.0,301.0" fill="none" stroke="#1a1a00" stroke-width="0.8" stroke-opacity="0.85"/>
<polyline points="90.9,292.3 91.8,291.8 93.2,291.0 94.6,290.3 96.0,289.5 97.4,288.8 100.1,287.2 101.3,286.5 102.6,285.9 103.9,285.2 105.0,284.9 105.7,285.1 106.5,285.3 107.3,285.6 108.6,285.6 110.2,285.5 111.7,285.4 113.3,285.3 114.9,285.2 115.9,285.4 117.4,285.8 119.0,286.1 120.5,286.5 122.1,286.9 123.6,287.3 125.1,287.7 126.7,288.1 128.2,288.5 131.3,288.3 132.7,287.5 134.8,286.3 135.9,285.4 137.1,284.4 138.2,283.3 139.3,282.2 140.3,281.4 141.6,280.5 142.9,279.6 144.1,278.7 144.8,278.2 145.9,277.9 147.4,277.8 149.0,277.8 150.6,277.7 152.1,278.0 153.1,278.2 154.3,278.6 155.8,279.1 157.2,279.7 158.6,280.5 160.0,281.3 161.1,281.9 162.2,282.7 163.6,283.4 164.9,284.0 166.3,284.6 167.6,285.3 168.7,285.7 169.7,286.2 170.9,287.0 172.1,287.8 173.3,288.6 176.7,290.6 178.0,291.3 179.4,292.1 181.1,292.9 182.5,293.6 183.8,294.4 185.0,295.2 186.2,296.0 186.8,296.6 187.7,297.4 189.0,298.4 190.3,299.4 191.5,300.3 194.3,301.4 198.0,300.6 199.4,300.0 200.8,299.4 202.0,299.0" fill="none" stroke="#1a1a00" stroke-width="0.6" stroke-opacity="0.85" stroke-dasharray="2.6 4.6"/>
<polyline points="87.8,287.5 94.4,283.8 101.9,281.9 107.5,283.7 115.0,282.8 122.5,284.6 130.0,286.5 135.6,283.7 141.2,279.0 145.0,276.0 150.6,275.0 158.0,277.0 163.8,280.9 171.2,282.8 178.8,285.6 184.4,289.4 190.0,295.0 194.5,298.5 201.0,297.0" fill="none" stroke="#1a1a00" stroke-width="0.8" stroke-opacity="0.85"/>
<polyline points="90.5,284.2 91.7,283.3 93.0,282.5 93.8,281.8 95.0,281.2 96.4,280.7 97.9,280.2 99.3,279.7 100.7,279.1 101.6,278.7 102.3,278.5 103.1,278.3 104.5,278.3 105.8,278.3 109.3,278.5 110.8,278.3 112.4,278.2 113.9,278.1 114.9,278.1 115.7,278.1 116.7,278.1 118.2,278.4 119.7,278.6 121.2,278.9 122.7,279.1 124.2,279.4 125.7,279.7 127.2,280.0 133.4,278.7 134.5,278.5 135.7,278.3 136.9,278.0 138.1,277.7 139.3,277.4 140.4,277.1 141.7,276.3 143.0,275.6 144.2,274.9 145.1,274.5 146.5,274.2 148.0,273.8 149.5,273.5 150.6,273.2 151.6,273.0 153.0,273.1 154.5,273.2 155.9,273.3 157.4,273.5 158.8,273.6 159.6,273.8 160.6,274.3 161.9,274.9 163.2,275.6 164.6,276.3 167.3,277.5 168.7,278.1 170.0,278.7 171.4,279.2 172.4,279.7 173.8,280.4 175.1,281.0 176.5,281.7 177.8,282.4 179.2,283.0 180.1,283.6 181.3,284.4 182.5,285.2 183.8,286.1 185.1,286.9 186.1,287.6 187.1,288.5 188.2,289.5 189.4,290.6 190.4,291.7 191.4,292.8 192.8,294.1 193.9,294.9 197.5,295.3 199.0,295.2 200.5,295.0" fill="none" stroke="#1a1a00" stroke-width="0.6" stroke-opacity="0.85" stroke-dasharray="2.6 4.6"/>
<polyline points="89.7,282.8 94.4,279.0 101.9,275.3 109.4,273.4 118.8,273.4 128.0,274.4 133.8,275.3 139.4,275.5 145.0,273.0 152.5,270.8 160.0,270.2 167.5,273.0 175.0,277.5 180.6,281.0 186.2,284.7 191.0,288.4 195.0,293.0 200.0,293.0" fill="none" stroke="#1a1a00" stroke-width="0.8" stroke-opacity="0.85"/>
<polygon points="172.0,267.0 182.5,267.5 188.5,274.4 191.0,280.5 186.0,282.0 179.7,278.0 175.5,272.5" fill="none" stroke="#1a1a00" stroke-width="0.6" stroke-opacity="0.85" stroke-dasharray="2.6 4.6"/>
<polygon points="176.0,267.0 182.0,268.0 186.0,273.5 184.0,276.0 179.0,273.0" fill="none" stroke="#1a1a00" stroke-width="0.8" stroke-opacity="0.85"/>
<polygon points="96.0,268.0 110.0,266.0 125.0,268.0 135.0,270.0 128.0,271.5 112.0,270.5 100.0,271.5" fill="none" stroke="#1a1a00" stroke-width="0.6" stroke-opacity="0.85" stroke-dasharray="2.6 4.6"/>
<polygon points="243.0,404.0 246.0,392.0 252.0,385.0 260.0,380.0 270.0,378.0 282.0,381.0 295.0,384.0 310.0,386.0 325.0,388.0 338.0,391.0 343.0,397.0 345.0,406.0 300.0,412.0 260.0,408.0" fill="none" stroke="#1a1a00" stroke-width="0.6" stroke-opacity="0.85" stroke-dasharray="2.6 4.6"/>
<polygon points="258.4,392.5 260.3,388.8 265.0,387.8 268.4,389.7 269.1,393.4 266.9,395.3 263.1,394.8 259.8,395.9" fill="none" stroke="#1a1a00" stroke-width="0.8" stroke-opacity="0.85"/>
<polygon points="300.6,400.9 304.4,397.2 311.9,395.3 321.3,395.9 328.8,397.2 332.5,400.0 330.6,403.4 325.0,402.8 322.2,404.7 317.5,405.6 311.9,404.1 308.1,403.8 304.4,403.4" fill="none" stroke="#1a1a00" stroke-width="0.8" stroke-opacity="0.85"/>
<polyline points="173.0,407.0 177.5,412.0 182.0,413.8 188.0,416.2 194.0,419.2 200.0,424.0 197.3,428.8 198.8,434.8 201.8,440.2 200.3,446.2 194.8,450.7 188.8,455.2 182.0,459.2 178.2,463.8 173.0,470.5 167.8,477.2 170.0,481.0 174.5,484.0 180.5,487.8 185.0,490.0 188.0,496.0 189.5,501.0 191.7,510.4 195.7,521.0 198.3,531.8 201.0,550.0" fill="none" stroke="#1a1a00" stroke-width="0.8" stroke-opacity="0.85"/>
<polyline points="196.0,417.0 203.0,424.0 202.0,430.0 205.0,440.0 205.0,448.0 200.0,455.0 194.0,460.0 188.0,466.0 185.0,472.0 190.0,478.0 196.0,484.0 199.0,492.0 200.0,503.0 203.0,515.0 206.0,530.0 209.0,550.0" fill="none" stroke="#1a1a00" stroke-width="0.6" stroke-opacity="0.85" stroke-dasharray="2.6 4.6"/>
<polyline points="209.0,452.0 204.0,462.0 200.0,470.0 203.0,478.0 205.0,490.0" fill="none" stroke="#1a1a00" stroke-width="0.6" stroke-opacity="0.85" stroke-dasharray="2.6 4.6"/>
<polygon points="207.5,418.0 212.0,415.0 218.0,415.0 222.5,418.7 221.7,424.0 217.2,426.7 212.0,426.2 208.2,423.2" fill="none" stroke="#1a1a00" stroke-width="0.8" stroke-opacity="0.85"/>
<polygon points="206.7,436.0 209.7,432.2 214.2,432.7 215.7,437.5 215.0,445.0 212.0,449.5 207.5,450.2 206.0,445.0" fill="none" stroke="#1a1a00" stroke-width="0.8" stroke-opacity="0.85"/>
<polygon points="201.5,462.2 205.2,458.8 208.2,459.2 207.2,463.7 203.7,467.0 201.2,466.0" fill="none" stroke="#1a1a00" stroke-width="0.8" stroke-opacity="0.85"/>
<polygon points="201.0,503.0 205.0,512.0 209.0,524.0 214.0,538.0 218.0,550.0 230.0,550.0 222.0,520.0 210.0,500.0" fill="none" stroke="#1a1a00" stroke-width="0.8" stroke-opacity="0.85"/>
<polygon points="117.8,450.1 121.5,446.7 127.5,444.1 135.1,442.0 143.0,438.2 151.5,432.9 158.5,428.0 163.1,422.2 167.2,416.3 172.1,412.0 178.5,408.4 183.5,409.5 187.0,413.6 185.6,417.5 183.4,420.6 186.0,423.2 190.8,424.4 194.1,429.6 196.6,436.4 197.2,440.7 194.5,444.1 188.5,445.8 181.0,447.8 174.9,449.0 169.0,452.9 165.2,458.2 162.4,464.0 158.4,467.2 154.5,466.5 153.2,461.9 149.4,457.5 143.6,455.6 137.1,455.6 131.7,456.9 128.1,460.0 128.3,464.3 132.5,466.3 139.9,467.0 145.3,469.0 142.0,471.1 135.3,470.6 128.7,469.3 123.7,464.8 119.5,458.7 117.9,453.5" fill="none" stroke="#1a1a00" stroke-width="0.6" stroke-opacity="0.85" stroke-dasharray="2.6 4.6"/>
<polygon points="122.7,449.5 126.5,446.5 132.5,444.2 140.0,442.7 147.5,440.5 153.5,437.5 158.0,433.0 161.7,427.0 165.5,421.0 170.0,416.5 176.0,412.7 180.5,413.5 183.5,417.2 182.0,421.0 179.7,424.0 182.0,426.2 186.5,427.0 189.5,431.5 191.7,437.5 192.2,441.2 189.5,444.2 183.5,445.7 176.0,447.2 170.0,448.0 164.7,450.2 162.5,454.0 161.0,459.2 158.0,462.2 155.0,461.5 154.2,457.0 152.0,453.2 147.5,452.5 141.5,453.2 136.2,454.7 132.5,457.7 132.5,461.5 136.2,463.0 143.0,463.0 147.5,464.5 144.5,466.7 138.5,466.7 132.5,466.0 128.0,462.2 124.2,457.0 122.7,452.5" fill="none" stroke="#1a1a00" stroke-width="0.8" stroke-opacity="0.85"/>
<polygon points="76.0,470.0 82.0,458.0 95.0,452.0 110.0,455.0 122.0,463.0 126.0,478.0 122.0,495.0 110.0,505.0 95.0,508.0 82.0,500.0 76.0,487.0" fill="none" stroke="#1a1a00" stroke-width="0.6" stroke-opacity="0.85" stroke-dasharray="2.6 4.6"/>
<polygon points="146.0,488.0 155.0,484.0 170.0,486.0 182.0,494.0 188.0,508.0 187.0,524.0 180.0,536.0 168.0,540.0 156.0,534.0 148.0,520.0 144.0,503.0" fill="none" stroke="#1a1a00" stroke-width="0.6" stroke-opacity="0.85" stroke-dasharray="2.6 4.6"/>
<polygon points="66.0,396.0 80.7,399.7 94.0,402.4 107.4,401.0 120.8,398.4 134.2,395.7 147.5,393.0 158.2,390.4 163.6,394.0 167.6,403.5 166.2,412.8 162.2,422.2 154.2,429.7 144.9,427.5 131.5,426.2 118.0,427.5 104.8,430.2 91.4,434.2 80.7,436.9 66.0,435.6" fill="none" stroke="#1a1a00" stroke-width="0.8" stroke-opacity="0.85"/>
<polygon points="114.1,411.0 123.5,407.5 134.2,403.5 144.9,398.1 155.6,394.9 164.9,396.8 166.8,404.8 163.6,414.2 155.6,420.1 144.9,424.3 131.5,426.2 120.8,423.5 114.1,418.2" fill="none" stroke="#1a1a00" stroke-width="0.6" stroke-opacity="0.85" stroke-dasharray="2.6 4.6"/>
<polygon points="127.5,419.5 134.2,414.2 142.2,407.5 150.2,402.1 158.2,399.5 163.6,402.1 162.2,407.5 155.6,411.5 147.5,415.5 139.5,419.0 131.5,420.9" fill="none" stroke="#1a1a00" stroke-width="0.8" stroke-opacity="0.85"/>
<polygon points="96.3,363.6 103.1,360.4 111.0,362.8 114.1,371.6 111.0,379.5 104.3,382.4 97.6,378.0 94.6,369.5" fill="none" stroke="#1a1a00" stroke-width="0.6" stroke-opacity="0.85" stroke-dasharray="2.6 4.6"/>
<polygon points="98.9,366.0 103.4,363.9 108.8,365.5 110.6,371.4 108.8,376.7 104.2,378.9 99.9,375.4 98.1,370.1" fill="none" stroke="#1a1a00" stroke-width="0.8" stroke-opacity="0.85"/>
<polygon points="66.0,517.0 80.7,518.4 91.4,521.0 102.0,525.0 110.0,529.0 118.0,530.5 126.0,527.8 134.0,525.0 140.9,526.5 150.0,534.5 155.6,542.5 158.2,552.0 66.0,552.0" fill="none" stroke="#1a1a00" stroke-width="0.8" stroke-opacity="0.85"/>
<polyline points="417.0,452.0 420.0,456.0 427.5,453.8 437.5,460.0 447.5,466.0 460.0,470.0 472.5,468.8 485.0,472.5 500.0,473.8 517.5,472.5 530.0,473.8 545.0,473.8 555.0,475.0 566.0,476.5 575.0,472.5 577.5,462.5 578.8,451.0 586.2,449.4 597.5,447.5 608.8,443.8 618.0,436.2 627.5,432.5 638.8,428.8 650.0,426.9 665.0,423.0 676.0,418.5" fill="none" stroke="#1a1a00" stroke-width="0.8" stroke-opacity="0.85"/>
<polygon points="623.4,487.1 631.9,481.8 642.5,479.7 655.2,479.7 665.9,480.7 670.1,485.0 663.7,488.2 655.2,491.4 646.7,494.6 638.2,497.7 631.9,502.0 625.5,504.1 624.4,497.7 626.6,491.4" fill="none" stroke="#1a1a00" stroke-width="0.8" stroke-opacity="0.85"/>
<polygon points="636.0,552.0 638.0,530.0 640.6,520.6 649.0,515.8 657.4,512.6 663.8,506.2 672.2,507.3 680.0,514.0 691.2,524.4 698.8,518.8 710.0,516.9 717.5,522.5 732.5,526.2 747.5,530.0 758.8,528.0 776.0,524.4 776.0,552.0" fill="none" stroke="#1a1a00" stroke-width="0.8" stroke-opacity="0.85"/>
<polygon points="690.0,527.0 700.0,524.0 711.0,526.0 708.0,530.0 697.0,531.0" fill="none" stroke="#1a1a00" stroke-width="0.8" stroke-opacity="0.85"/>
<polygon points="758.0,513.0 765.0,509.0 772.0,510.0 774.0,517.0 766.0,520.0 759.0,518.0" fill="none" stroke="#1a1a00" stroke-width="0.8" stroke-opacity="0.85"/>
<polygon points="760.0,533.0 775.0,530.0 776.0,540.0 765.0,541.0" fill="none" stroke="#1a1a00" stroke-width="0.8" stroke-opacity="0.85"/>
<polygon points="660.0,538.0 670.0,531.0 682.0,534.0 690.0,541.0 696.0,552.0 655.0,552.0" fill="none" stroke="#1a1a00" stroke-width="0.8" stroke-opacity="0.85"/>
<polygon points="640.1,446.1 644.4,439.8 653.4,434.0 664.0,428.2 672.9,429.5 684.9,437.6 693.7,441.0 701.2,444.8 702.2,449.8 697.7,453.7 689.0,453.1 682.5,450.0 676.7,444.1 664.9,437.1 659.4,440.2 655.1,446.6 648.8,448.9 643.4,449.4" fill="none" stroke="#1a1a00" stroke-width="0.6" stroke-opacity="0.85" stroke-dasharray="2.6 4.6"/>
<polygon points="644.6,445.7 648.9,440.4 657.4,436.1 665.9,432.3 672.2,434.0 680.7,439.3 689.2,441.4 696.7,444.6 697.7,448.9 693.5,452.1 685.0,451.0 678.6,447.8 672.2,443.6 668.0,440.4 663.7,441.4 659.5,445.7 653.1,447.8 647.8,448.4" fill="none" stroke="#1a1a00" stroke-width="0.8" stroke-opacity="0.85"/>
<polygon points="674.4,451.0 677.6,449.5 680.3,451.0 679.0,453.5 675.6,453.5" fill="none" stroke="#1a1a00" stroke-width="0.8" stroke-opacity="0.85"/>
<polygon points="733.1,464.9 740.0,456.2 751.4,450.5 763.9,449.8 776.2,450.3 776.7,473.1 768.8,472.9 767.4,467.0 761.0,472.2 758.1,476.1 750.7,474.6 744.0,468.6 737.5,467.9" fill="none" stroke="#1a1a00" stroke-width="0.6" stroke-opacity="0.85" stroke-dasharray="2.6 4.6"/>
<polygon points="738.1,464.8 744.5,458.4 753.0,455.2 761.5,454.2 772.1,453.1 772.1,471.2 764.7,470.1 762.6,465.9 758.3,468.0 757.2,471.2 753.0,470.1 748.7,466.9 742.4,466.9" fill="none" stroke="#1a1a00" stroke-width="0.8" stroke-opacity="0.85"/>
<polyline points="585.0,481.0 590.0,486.0 592.0,493.0 589.0,500.0" fill="none" stroke="#1a1a00" stroke-width="0.6" stroke-opacity="0.85" stroke-dasharray="2.6 4.6"/>
<polyline points="597.0,478.0 603.0,483.0 606.0,490.0" fill="none" stroke="#1a1a00" stroke-width="0.6" stroke-opacity="0.85" stroke-dasharray="2.6 4.6"/>
<polyline points="600.0,437.0 612.0,441.0 625.0,440.0 640.0,436.0 655.0,433.0" fill="none" stroke="#1a1a00" stroke-width="0.6" stroke-opacity="0.85" stroke-dasharray="2.6 4.6"/>
<polyline points="610.0,462.0 625.0,468.0 640.0,470.0 660.0,468.0 680.0,470.0 700.0,474.0 720.0,478.0 740.0,480.0 770.0,478.0" fill="none" stroke="#1a1a00" stroke-width="0.6" stroke-opacity="0.85" stroke-dasharray="2.6 4.6"/>
<polygon points="462.0,495.0 467.5,493.8 482.5,492.5 500.0,492.5 517.5,493.8 530.0,496.2 537.5,500.0 543.8,507.5 547.5,517.5 546.2,527.5 545.0,537.5 547.5,552.0 510.0,552.0 515.0,515.0 500.0,502.0 480.0,500.0" fill="none" stroke="#1a1a00" stroke-width="0.6" stroke-opacity="0.85" stroke-dasharray="2.6 4.6"/>
<polygon points="670.1,292.9 661.6,303.5 653.1,312.0 645.7,318.4 642.5,326.9 645.7,335.4 649.9,340.7 655.7,334.3 654.8,323.7 657.8,316.2 662.0,308.8 666.7,301.4 671.2,292.9" fill="none" stroke="#1a1a00" stroke-width="0.8" stroke-opacity="0.85"/>
<polygon points="652.5,346.0 651.0,354.5 649.9,363.0 652.1,367.2 655.7,363.0 657.4,352.4 656.9,346.0" fill="none" stroke="#1a1a00" stroke-width="0.8" stroke-opacity="0.85"/>
<polygon points="646.7,374.7 645.7,384.2 647.8,390.6 651.0,392.7 653.5,384.2 651.4,376.8" fill="none" stroke="#1a1a00" stroke-width="0.8" stroke-opacity="0.85"/>
<polygon points="710.0,243.7 702.5,254.2 695.0,261.7 687.5,267.0 680.0,278.2 668.7,289.5 659.4,299.2 665.0,299.2 674.4,291.0 685.6,280.5 695.0,270.0 704.4,259.5 711.9,249.4" fill="none" stroke="#1a1a00" stroke-width="0.8" stroke-opacity="0.85"/>
<polygon points="472.5,123.8 477.5,122.5 485.0,123.0 488.8,126.2 491.2,132.5 491.2,138.8 490.0,146.2 485.0,150.0 481.2,148.8 478.8,143.8 477.5,138.8 475.0,133.8 472.5,128.8" fill="none" stroke="#1a1a00" stroke-width="0.8" stroke-opacity="0.85"/>
<polygon points="439.0,190.0 443.0,185.5 449.0,184.5 452.5,188.5 452.0,195.0 447.0,198.5 441.5,197.0 438.5,194.0" fill="none" stroke="#1a1a00" stroke-width="0.8" stroke-opacity="0.85"/>
<polygon points="442.0,191.0 446.0,188.0 450.0,190.5 449.0,195.0 444.5,196.5 441.5,194.0" fill="none" stroke="#1a1a00" stroke-width="0.6" stroke-opacity="0.85" stroke-dasharray="2.6 4.6"/>
<polygon points="70.0,92.0 367.8,92.0 367.8,92.0 370.6,95.8 376.3,101.4 380.0,106.1 379.1,110.8 376.3,114.5 370.6,117.3 364.1,120.1 357.5,122.9 350.0,124.8 342.5,125.8 335.0,126.3 325.6,125.8 316.3,125.4 308.8,125.8 302.2,127.6 297.5,130.4 292.8,134.2 288.1,137.9 282.5,141.7 277.8,145.4 273.1,148.3 276.9,147.7 282.5,144.1 288.1,140.4 294.7,136.6 300.3,133.8 306.9,132.7 314.4,133.6 319.1,135.5 320.0,137.9 316.3,139.8 310.6,141.1 305.9,141.5 310.6,142.6 315.3,144.5 316.3,147.3 318.1,149.2 320.0,152.0 322.8,154.8 325.6,155.8 330.3,154.8 334.1,153.9 340.6,153.9 344.4,149.2 346.6,148.3 349.1,152.0 350.9,154.8 347.2,156.7 342.5,157.6 338.8,158.6 335.0,160.4 329.4,162.3 323.8,165.1 318.1,168.9 313.4,171.7 309.7,170.8 307.8,167.9 309.7,165.1 314.4,163.3 319.1,161.0 323.8,158.6 321.9,157.6 316.3,159.1 310.6,161.4 305.0,164.2 300.3,166.1 294.7,167.0 290.0,167.9 286.3,169.8 282.5,172.6 278.8,175.4 275.9,179.2 274.1,182.0 273.1,184.8 271.3,185.8 274.1,187.1 276.5,185.8 275.8,188.0 267.5,186.9 261.9,188.8 256.3,190.3 250.6,192.5 252.5,194.4 248.8,196.3 247.8,200.0 245.9,204.7 244.1,208.4 242.2,212.2 240.3,216.9 239.4,220.6 238.4,224.4 237.1,227.2 240.3,229.6 237.5,232.8 231.9,235.6 226.3,238.4 220.6,241.3 215.0,244.1 210.3,246.9 206.6,249.7 203.8,252.5 201.9,256.3 200.4,260.0 199.6,263.8 200.9,267.5 202.8,272.2 204.7,276.9 206.6,280.1 207.8,287.5 209.7,292.2 209.1,296.9 207.3,300.3 204.1,302.5 201.3,303.4 199.4,300.6 199.4,296.9 197.5,294.1 195.6,290.3 193.8,286.6 191.9,282.8 190.0,278.1 187.2,274.4 183.4,270.6 180.6,267.8 176.9,268.8 174.1,270.6 170.3,268.8 165.6,265.9 160.0,264.6 154.4,264.1 148.8,265.0 144.1,265.9 141.3,265.0 142.2,268.8 145.0,272.1 142.2,273.4 139.4,271.6 136.6,272.5 133.8,270.6 130.0,269.7 124.4,268.8 118.8,267.8 113.1,268.4 107.5,268.8 102.8,271.6 98.1,274.4 93.4,278.1 89.7,281.9 87.3,286.6 87.8,292.2 88.8,297.8 87.8,303.4 85.9,308.1 85.9,313.8 86.9,319.4 88.8,325.0 90.6,329.7 93.4,334.4 96.3,339.1 99.1,342.8 102.8,345.6 107.5,347.5 113.1,347.9 119.7,347.5 126.3,346.6 130.9,343.8 133.8,340.0 135.6,335.3 136.6,330.6 139.4,327.8 145.0,326.5 150.6,325.9 156.3,325.9 160.0,326.9 162.8,328.8 163.8,332.5 161.9,336.3 159.1,340.0 157.2,343.8 155.3,348.4 153.4,353.1 152.5,360.1 151.6,356.3 148.8,361.9 147.8,364.7 152.5,366.6 160.0,366.6 167.5,366.6 175.0,366.6 180.6,367.5 184.4,370.3 186.3,373.1 185.9,378.8 185.3,384.4 184.4,390.0 184.4,395.6 185.3,401.3 188.1,405.9 191.9,409.7 196.6,412.5 201.3,413.4 205.0,412.5 208.8,411.6 212.5,410.6 217.2,411.0 221.9,412.5 225.6,415.3 228.4,418.1 238.8,404.7 243.4,401.9 248.1,400.0 252.8,398.1 257.5,396.6 263.1,396.3 267.8,395.3 270.6,393.4 269.7,398.1 269.1,402.8 271.6,400.0 274.4,397.2 278.1,395.3 280.4,392.1 282.3,394.4 282.8,396.3 287.5,398.1 291.3,400.9 295.0,403.4 300.6,403.8 306.3,403.4 313.8,405.6 321.3,404.7 328.8,404.1 336.3,404.7 341.9,406.6 343.8,410.3 345.6,415.0 349.4,417.8 355.0,420.6 359.7,425.3 363.4,430.0 370.0,434.7 377.5,436.2 385.0,437.0 392.5,438.8 400.0,442.5 406.2,446.2 411.2,451.2 415.0,456.2 417.5,462.5 418.8,468.8 419.5,470.0 420.0,475.0 417.5,477.5 411.2,480.0 410.0,486.2 411.2,491.2 425.0,493.0 427.5,487.5 431.2,482.5 432.5,480.0 440.0,483.8 447.5,486.2 453.8,488.8 458.8,491.2 460.0,495.0 465.0,493.8 472.5,494.5 480.0,496.2 487.5,497.5 495.0,500.0 502.5,503.8 510.0,508.0 516.2,511.2 521.2,515.0 523.8,520.0 525.0,525.0 526.2,531.2 525.0,536.2 522.5,542.5 520.0,547.5 217.5,547.9 213.3,535.2 207.6,525.4 203.4,517.0 202.0,508.5 204.8,500.1 209.0,493.1 207.6,486.1 210.4,477.6 216.1,470.6 221.7,463.6 225.9,455.2 227.3,448.1 230.1,438.3 228.7,429.9 227.3,421.5 226.6,419.6 222.8,417.2 218.1,415.3 213.4,414.8 209.7,416.6 207.8,420.0 206.9,423.8 205.0,425.6 202.2,423.8 197.5,421.9 193.8,420.9 190.0,419.1 186.3,417.2 183.4,415.3 179.7,412.5 176.9,408.8 174.1,405.9 170.3,402.2 167.5,398.4 164.7,394.7 160.9,390.0 158.1,386.3 157.2,384.8 152.5,384.0 145.0,382.1 137.5,380.3 130.0,379.1 122.0,373.7 112.1,368.1 100.9,364.7 95.3,366.7 81.2,362.5 70.0,359.1 68.0,359.0" fill="#d3d3d3" stroke="#000" stroke-width="0.9" stroke-linejoin="round"/>
<polygon points="770.8,128.9 766.5,128.9 763.3,129.4 760.1,128.9 758.0,130.0 759.1,132.6 759.6,136.4 755.9,136.9 751.6,135.3 747.4,134.8 743.1,133.7 739.9,134.2 736.8,135.8 735.7,138.5 736.8,141.1 739.9,143.3 744.2,144.9 749.5,145.9 754.8,146.4 758.0,147.5 759.1,150.1 757.8,150.1 760.6,153.9 763.4,158.6 765.3,162.3 764.4,166.1 763.4,170.8 760.6,173.6 755.0,173.6 747.5,173.0 740.0,172.6 732.5,172.3 725.0,172.3 717.5,171.7 712.8,171.1 709.1,172.6 707.2,175.4 706.3,181.1 708.1,185.8 710.9,186.4 709.4,192.7 707.3,198.1 706.2,202.3 707.3,206.6 708.8,211.9 710.1,215.1 716.9,218.2 723.2,219.3 727.5,222.5 730.7,225.0 736.0,222.5 744.5,220.4 753.0,219.3 759.4,216.1 765.7,210.8 772.1,206.6 772.1,227.8 761.5,229.9 753.0,231.0 744.5,231.0 736.0,229.3 730.7,226.1 726.4,232.1 722.2,237.4 716.9,241.6 711.6,245.9 706.2,250.1 703.1,255.4 701.6,260.7 702.0,265.0 699.9,269.2 693.5,273.5 687.1,277.7 681.8,282.0 677.6,286.2 673.3,291.6 670.1,296.9 668.0,302.2 665.9,301.4 661.6,308.8 657.4,316.2 654.2,323.7 654.8,330.1 656.3,336.4 656.9,343.9 657.4,350.2 656.3,356.6 654.2,363.0 652.1,369.4 651.0,374.7 653.1,380.0 654.2,386.4 655.7,391.7 658.4,393.8 663.3,394.4 662.7,398.1 665.9,403.4 670.1,408.7 674.4,414.0 668.0,405.3 673.3,410.6 677.6,417.0 681.8,422.3 687.1,426.6 693.5,430.8 699.9,436.1 706.2,440.4 712.6,443.6 719.0,445.7 725.4,444.6 731.7,443.1 738.1,442.1 746.6,442.5 753.0,443.1 759.4,441.4 765.7,439.3 772.1,437.8 775.0,440.0 775.0,115.0" fill="#d3d3d3" stroke="#000" stroke-width="0.9" stroke-linejoin="round"/>
<polygon points="370.0,127.0 373.0,122.0 377.0,118.0 380.0,116.4 379.2,120.0 376.4,124.0 374.4,128.0 377.0,129.0 382.0,130.0 388.0,131.0 393.0,133.0 394.0,137.0 396.0,141.0 399.0,143.0 399.6,147.0 397.0,150.0 394.0,149.0 392.4,145.0 391.0,142.0 388.0,144.0 384.0,147.0 380.0,147.6 377.0,148.0 379.6,146.0 376.0,144.4 368.0,144.0 360.0,143.0 356.0,142.0 357.0,139.0 362.0,134.0 367.0,129.6" fill="#d3d3d3" stroke="#000" stroke-width="0.9" stroke-linejoin="round"/>
<polygon points="320.9,128.6 327.5,129.5 335.0,131.4 336.9,132.9 331.3,132.3 324.7,130.8 320.9,129.5" fill="#d3d3d3" stroke="#000" stroke-width="0.9" stroke-linejoin="round"/>
<polygon points="320.9,149.2 324.7,152.0 329.4,152.9 335.0,152.4 335.9,153.9 330.3,154.3 324.7,153.9 320.9,151.6" fill="#d3d3d3" stroke="#000" stroke-width="0.9" stroke-linejoin="round"/>
<polygon points="175.5,324.5 177.7,320.7 181.5,317.7 187.5,315.8 195.0,315.5 202.5,316.2 208.5,317.7 213.0,320.0 219.0,320.7 225.0,323.7 231.0,327.5 237.0,330.5 243.0,332.7 247.5,335.7 246.7,337.7 240.0,338.0 232.5,337.7 228.0,338.3 225.7,336.8 229.5,335.0 228.0,332.7 224.2,329.7 220.5,326.7 216.0,325.2 210.0,324.2 204.0,323.3 198.0,321.8 193.5,320.7 189.0,320.7 184.5,321.8 180.7,323.7 177.7,324.8" fill="#d3d3d3" stroke="#000" stroke-width="0.9" stroke-linejoin="round"/>
<polygon points="256.3,340.0 260.0,337.8 265.6,338.1 271.3,338.5 276.9,339.1 282.5,340.9 287.2,343.8 290.9,345.6 290.0,347.9 285.3,348.4 280.6,347.5 276.9,349.0 274.1,351.3 271.3,352.2 268.4,350.3 263.8,349.8 258.1,349.8 252.5,349.8 249.7,348.4 253.4,347.1 258.1,346.6 259.6,344.7 257.2,342.8" fill="#d3d3d3" stroke="#000" stroke-width="0.9" stroke-linejoin="round"/>
<polygon points="222.0,348.8 226.5,347.3 232.5,348.2 235.8,350.0 233.2,352.2 228.0,352.7 223.5,351.2" fill="#d3d3d3" stroke="#000" stroke-width="0.9" stroke-linejoin="round"/>
<polygon points="299.4,348.4 305.0,347.5 309.7,348.1 309.7,350.9 304.1,351.6 299.4,350.9" fill="#d3d3d3" stroke="#000" stroke-width="0.9" stroke-linejoin="round"/>
<polygon points="222.5,301.6 225.3,305.3 227.2,310.0 225.3,310.9 223.4,307.2 221.6,303.4" fill="#d3d3d3" stroke="#000" stroke-width="0.9" stroke-linejoin="round"/>
<polygon points="330.6,403.4 335.3,401.5 342.8,401.5 343.8,405.6 337.2,406.0 331.6,406.0" fill="#d3d3d3" stroke="#000" stroke-width="0.9" stroke-linejoin="round"/>
<polygon points="697.4,97.6 699.6,94.9 703.8,93.5 709.1,93.1 714.4,92.0 728.3,92.0 730.4,94.9 729.5,98.1 727.2,99.7 726.7,102.9 727.2,106.1 726.7,109.3 724.0,111.9 719.8,113.0 715.5,114.0 711.3,115.4 707.0,116.2 702.8,116.7 699.6,116.9 698.0,115.1 696.4,113.0 695.3,110.8 696.9,108.7 700.1,107.1 697.4,106.1 696.4,102.9 696.9,100.2" fill="#d3d3d3" stroke="#000" stroke-width="0.9" stroke-linejoin="round"/>
<polygon points="749.5,91.8 751.1,95.4 750.6,98.6 748.4,100.8 745.3,99.7 743.1,97.6 741.0,99.7 739.9,102.9 741.0,105.5 742.6,107.7 741.0,110.3 738.4,112.4 735.7,114.0 736.8,115.8 741.0,116.2 745.3,116.7 749.5,116.5 752.7,115.8 749.5,118.3 745.3,119.3 742.1,119.9 739.9,120.9 736.8,123.6 733.6,126.8 732.5,127.5 736.8,126.3 741.0,125.2 745.3,124.1 749.5,123.1 753.8,122.9 758.0,122.5 762.3,122.0 766.5,121.8 770.8,121.5 770.8,96.5 768.1,96.0 764.4,94.4 762.3,91.8" fill="#d3d3d3" stroke="#000" stroke-width="0.9" stroke-linejoin="round"/>
<polygon points="187.5,325.7 188.2,324.3 189.7,324.3 190.6,325.7 189.7,327.0 188.2,327.0" fill="none" stroke="#000" stroke-width="0.6"/>
<polygon points="254.7,329.3 255.9,328.2 258.0,328.4 258.6,329.6 256.8,330.5 255.0,330.2" fill="none" stroke="#000" stroke-width="0.6"/>
<polygon points="229.5,305.0 230.4,303.5 232.2,303.5 232.9,305.3 231.9,306.9 230.1,306.8" fill="none" stroke="#000" stroke-width="0.6"/>
<polygon points="75.5,103.5 77.5,101.0 80.0,98.0 83.0,96.5 85.5,97.5 86.5,100.0 85.5,101.0 86.5,104.0 88.0,107.0 89.5,110.0 91.5,113.5 93.5,115.5 96.0,117.5 97.0,120.0 96.0,122.5 94.2,124.5 92.5,124.0 91.8,121.0 92.5,118.0 91.2,116.2 89.0,115.0 86.5,113.5 84.5,114.0 83.0,111.5 81.0,109.5 79.0,107.0 77.0,105.5" fill="#0ac8fa" stroke="#03181f" stroke-width="0.9" stroke-linejoin="round"/>
<polygon points="72.5,116.5 75.0,115.5 78.0,115.8 79.2,117.0 78.0,119.5 79.5,121.5 82.0,123.5 83.5,125.0 82.0,126.0 79.5,125.5 78.0,123.5 76.5,120.5 75.0,118.5 73.0,117.5" fill="#0ac8fa" stroke="#03181f" stroke-width="0.9" stroke-linejoin="round"/>
<polygon points="69.0,107.2 72.0,108.0 72.2,111.0 71.0,114.0 69.0,114.6" fill="#0ac8fa" stroke="#03181f" stroke-width="0.9" stroke-linejoin="round"/>
<polygon points="103.0,132.0 104.5,129.5 108.0,129.2 111.0,130.0 111.8,132.5 110.0,134.0 107.5,134.2 105.5,135.5 103.2,134.5" fill="#0a7a9a" stroke="#03181f" stroke-width="1.6" stroke-linejoin="round"/>
<polygon points="115.8,135.5 118.0,135.2 121.0,136.8 122.8,138.0 121.5,138.8 118.5,138.0 116.5,137.0" fill="#0a7a9a" stroke="#03181f" stroke-width="1.6" stroke-linejoin="round"/>
<polygon points="124.9,150.2 129.7,146.9 136.2,143.7 144.4,139.6 151.7,134.7 159.0,135.6 165.5,137.2 170.4,140.4 175.2,142.9 177.7,146.9 179.3,151.0 176.1,151.8 172.0,149.4 167.1,148.6 162.2,149.4 157.4,147.7 152.5,146.9 150.1,149.4 147.6,146.9 142.7,148.6 136.2,151.0 129.7,151.0" fill="#0ac8fa" stroke="#03181f" stroke-width="0.9" stroke-linejoin="round"/>
<polygon points="154.1,164.8 157.4,159.9 162.2,156.7 168.7,155.1 174.4,155.1 176.9,157.5 172.8,159.9 170.4,163.2 167.9,161.6 166.3,165.6 165.5,172.1 167.1,178.6 164.7,184.3 159.8,186.4 156.6,182.7 154.9,177.0 155.7,170.5 157.0,165.6" fill="#0ac8fa" stroke="#03181f" stroke-width="0.9" stroke-linejoin="round"/>
<polygon points="176.9,156.7 182.6,155.1 188.2,155.9 194.7,156.7 199.6,155.1 204.5,155.9 208.6,159.9 211.8,164.8 208.6,164.0 204.5,161.6 201.2,159.9 198.8,161.6 199.6,165.6 198.0,170.5 196.4,174.6 193.1,176.2 191.5,172.9 189.1,169.7 185.8,171.3 182.6,172.1 183.4,168.9 185.8,166.4 185.0,162.4 181.7,159.9" fill="#0ac8fa" stroke="#03181f" stroke-width="0.9" stroke-linejoin="round"/>
<polygon points="185.0,185.1 189.1,181.9 191.5,178.6 192.3,181.1 198.0,179.4 204.5,177.8 211.0,177.0 218.3,177.0 215.9,179.4 209.4,181.9 202.9,184.3 196.4,186.4 189.9,187.6" fill="#0ac8fa" stroke="#03181f" stroke-width="0.9" stroke-linejoin="round"/>
<polygon points="211.0,173.7 215.9,171.3 222.4,169.7 228.9,168.9 235.4,166.4 239.9,165.6 237.0,168.9 236.2,172.1 230.5,173.7 224.0,174.6 217.5,174.6 213.4,175.0" fill="#0ac8fa" stroke="#03181f" stroke-width="0.9" stroke-linejoin="round"/>
<polygon points="193.8,90.8 220.0,90.8 219.5,99.5 220.0,107.0 222.5,110.8 217.5,115.8 212.5,118.2 206.2,119.5 202.5,115.8 197.5,112.0 193.8,105.8 193.8,98.2" fill="#0ac8fa" stroke="#03181f" stroke-width="0.9" stroke-linejoin="round"/>
<polyline points="239.8,226.3 238.4,223.4 237.5,219.7 236.6,215.9 236.0,212.2 236.6,208.4 237.5,204.7 237.9,201.9" fill="none" stroke="#000" stroke-width="1.0" stroke-linejoin="round" stroke-linecap="round"/>
<polyline points="236.6,215.9 233.8,214.1 230.9,212.2 229.1,208.4" fill="none" stroke="#000" stroke-width="1.0" stroke-linejoin="round" stroke-linecap="round"/>
<polyline points="237.9,222.5 234.7,221.6 231.9,219.7" fill="none" stroke="#000" stroke-width="1.0" stroke-linejoin="round" stroke-linecap="round"/>
<polyline points="238.4,225.3 234.7,225.3 231.5,224.4" fill="none" stroke="#000" stroke-width="1.0" stroke-linejoin="round" stroke-linecap="round"/>
<polyline points="239.0,227.2 235.6,228.5 232.8,229.6 230.4,229.1" fill="none" stroke="#000" stroke-width="1.0" stroke-linejoin="round" stroke-linecap="round"/>
<polyline points="244.1,208.4 242.2,205.6 241.3,202.8 242.2,200.0" fill="none" stroke="#000" stroke-width="1.0" stroke-linejoin="round" stroke-linecap="round"/>
<polyline points="240.3,229.6 237.5,230.4 235.6,232.8 237.5,233.4" fill="none" stroke="#000" stroke-width="1.0" stroke-linejoin="round" stroke-linecap="round"/>
<polyline points="234.7,210.3 232.8,207.5 231.9,204.7" fill="none" stroke="#000" stroke-width="1.0" stroke-linejoin="round" stroke-linecap="round"/>
<polygon points="239.8,226.3 238.3,222.5 237.1,217.8 236.6,212.2 237.1,207.5 237.9,203.4 238.6,207.5 238.3,213.1 238.8,218.4 239.8,222.9 240.9,226.3" fill="#14f5fa" stroke="#000" stroke-width="0.5" stroke-linejoin="round"/>
<circle cx="92.5" cy="239.5" r="0.9" fill="#000"/>
<circle cx="194.0" cy="241.0" r="0.9" fill="#000"/>
<circle cx="176.0" cy="262.0" r="0.9" fill="#000"/>
<polyline points="256.5,162.0 256.0,165.0 257.0,168.5" fill="none" stroke="#000" stroke-width="1.2" stroke-linejoin="round" stroke-linecap="round"/>
<polyline points="343.0,101.0 350.0,102.0 358.0,99.0 366.0,97.0 369.5,96.0" fill="none" stroke="#0a5a80" stroke-width="1.3" stroke-linejoin="round" stroke-linecap="round"/>
<polygon points="417.0,474.5 420.0,476.5 425.0,477.6 430.0,478.6 432.5,480.2 429.5,479.4 425.0,479.2 419.8,479.6 416.8,480.8 413.5,482.5 411.5,481.0" fill="#ffaa05" stroke="#3a2a00" stroke-width="0.6" stroke-linejoin="round"/>
<polyline points="416.0,486.5 416.8,490.0 420.5,490.5 425.0,489.2 428.8,487.5 431.0,484.5 432.2,481.0" fill="none" stroke="#3a2a00" stroke-width="0.8" stroke-linejoin="round" stroke-linecap="round"/>
<polyline points="416.5,490.0 410.0,490.6 409.6,492.3" fill="none" stroke="#3a2a00" stroke-width="0.9" stroke-linejoin="round" stroke-linecap="round"/>
<polyline points="425.0,489.5 426.0,494.0 424.6,494.2 424.0,490.0" fill="none" stroke="#3a2a00" stroke-width="0.8" stroke-linejoin="round" stroke-linecap="round"/>
<polyline points="412.0,478.5 410.3,482.0 411.0,486.0 414.5,486.8 416.2,484.0" fill="none" stroke="#3a2a00" stroke-width="0.7" stroke-linejoin="round" stroke-linecap="round"/>
<circle cx="428.4" cy="472.3" r="3.2" fill="#ffdc05" stroke="#3a2a00" stroke-width="0.6"/>
<polygon points="168.4,393.8 172.2,392.8 175.0,395.6 174.6,399.0 171.6,399.8 169.0,397.1" fill="#ffee0a" stroke="#000" stroke-width="0.6" stroke-linejoin="round"/>
<polygon points="266.9,404.7 269.7,403.8 272.1,406.6 272.5,411.3 270.6,414.1 267.8,413.1 266.5,409.4" fill="#ffdc05" stroke="#000" stroke-width="0.6" stroke-linejoin="round"/>
<polyline points="269.1,402.8 268.4,404.3" fill="none" stroke="#000" stroke-width="0.8" stroke-linejoin="round" stroke-linecap="round"/>
<polyline points="131.0,353.4 132.8,352.5 137.5,352.0 145.0,351.5 150.6,348.8 153.4,346.0" fill="none" stroke="#30304a" stroke-width="0.6" stroke-linejoin="round" stroke-linecap="round"/>
<polyline points="131.0,353.4 131.9,357.0 136.5,361.0 134.7,364.7 128.0,366.5 125.3,370.3 124.4,374.0" fill="none" stroke="#30304a" stroke-width="0.6" stroke-linejoin="round" stroke-linecap="round"/>
<polyline points="739.5,131.0 741.5,134.0 740.5,136.5" fill="none" stroke="#000" stroke-width="1.4" stroke-linejoin="round" stroke-linecap="round"/>
<polyline points="748.0,133.5 753.0,134.5 756.0,135.5" fill="none" stroke="#000" stroke-width="1.4" stroke-linejoin="round" stroke-linecap="round"/>
<polyline points="745.0,144.0 750.0,146.0 755.0,147.0 757.0,148.5" fill="none" stroke="#000" stroke-width="1.6" stroke-linejoin="round" stroke-linecap="round"/>
<polyline points="757.5,149.0 758.5,151.0" fill="none" stroke="#000" stroke-width="1.0" stroke-linejoin="round" stroke-linecap="round"/>
<polyline points="760.0,413.0 762.0,416.0 761.0,420.0 764.0,423.0 763.0,427.0 766.0,430.0" fill="none" stroke="#1c2a30" stroke-width="1.5" stroke-linejoin="round" stroke-linecap="round"/>
<polyline points="762.0,418.0 765.0,417.0" fill="none" stroke="#1c2a30" stroke-width="1.0" stroke-linejoin="round" stroke-linecap="round"/>
<polyline points="763.0,425.0 766.0,424.0" fill="none" stroke="#1c2a30" stroke-width="1.0" stroke-linejoin="round" stroke-linecap="round"/>
<ellipse cx="654.0" cy="279.0" rx="1.8" ry="1.2" fill="none" stroke="#000" stroke-width="0.6" transform="rotate(0 654.0 279.0)"/>
<ellipse cx="660.6" cy="282.0" rx="1.5" ry="1.5" fill="none" stroke="#000" stroke-width="0.6" transform="rotate(0 660.6 282.0)"/>
<ellipse cx="672.0" cy="277.0" rx="3.2" ry="0.9" fill="none" stroke="#000" stroke-width="0.6" transform="rotate(-50 672.0 277.0)"/>
<ellipse cx="652.0" cy="248.4" rx="1.3" ry="0.9" fill="none" stroke="#000" stroke-width="0.6" transform="rotate(0 652.0 248.4)"/>
<ellipse cx="686.7" cy="237.0" rx="0.7" ry="1.2" fill="none" stroke="#000" stroke-width="0.6" transform="rotate(0 686.7 237.0)"/>
<ellipse cx="635.3" cy="137.5" rx="1.2" ry="0.6" fill="none" stroke="#000" stroke-width="0.6" transform="rotate(0 635.3 137.5)"/>
<ellipse cx="130.5" cy="481.0" rx="2.0" ry="2.6" fill="none" stroke="#000" stroke-width="0.6" transform="rotate(10 130.5 481.0)"/>
<ellipse cx="126.0" cy="478.5" rx="0.8" ry="0.8" fill="none" stroke="#000" stroke-width="0.6" transform="rotate(0 126.0 478.5)"/>
<ellipse cx="134.5" cy="482.5" rx="0.8" ry="0.6" fill="none" stroke="#000" stroke-width="0.6" transform="rotate(0 134.5 482.5)"/>
<ellipse cx="138.0" cy="484.0" rx="0.9" ry="0.6" fill="none" stroke="#000" stroke-width="0.6" transform="rotate(0 138.0 484.0)"/>
<polygon points="213.0,289.0 216.0,287.5 219.5,288.0 218.0,290.0 214.5,290.5" fill="none" stroke="#000" stroke-width="0.5"/>
<polygon points="220.0,292.0 222.5,291.0 224.0,294.0 222.0,296.0" fill="none" stroke="#000" stroke-width="0.5"/>
<polygon points="226.0,300.0 229.0,299.0 231.0,302.5 228.5,303.5" fill="none" stroke="#000" stroke-width="0.5"/>
<polygon points="233.5,308.0 236.5,307.0 238.0,310.0 235.0,311.0" fill="none" stroke="#000" stroke-width="0.5"/>
<polygon points="243.0,314.0 246.0,313.5 247.0,316.0 244.0,316.5" fill="none" stroke="#000" stroke-width="0.5"/>
<circle cx="338.7" cy="362.5" r="0.7" fill="none" stroke="#000" stroke-width="0.5"/>
<circle cx="341.0" cy="367.0" r="0.7" fill="none" stroke="#000" stroke-width="0.5"/>
<circle cx="342.5" cy="371.5" r="0.7" fill="none" stroke="#000" stroke-width="0.5"/>
<circle cx="343.3" cy="376.0" r="0.7" fill="none" stroke="#000" stroke-width="0.5"/>
<circle cx="344.0" cy="381.0" r="0.7" fill="none" stroke="#000" stroke-width="0.5"/>
<circle cx="343.5" cy="386.0" r="0.7" fill="none" stroke="#000" stroke-width="0.5"/>
<circle cx="342.6" cy="390.5" r="0.7" fill="none" stroke="#000" stroke-width="0.5"/>
<circle cx="345.5" cy="384.0" r="0.7" fill="none" stroke="#000" stroke-width="0.5"/>
<polyline points="228.4,418.0 232.0,413.5 236.0,408.5 239.7,404.7" fill="none" stroke="#5a3a00" stroke-width="1.6" stroke-linejoin="round" stroke-linecap="round"/>
<polyline points="228.9,418.2 232.5,413.8 236.4,408.9 239.9,405.0" fill="none" stroke="#ffc300" stroke-width="0.8" stroke-linejoin="round" stroke-linecap="round"/>
<path d="M140.2 92.2 V547.2 M210.2 92.2 V547.2 M280.2 92.2 V547.2 M350.2 92.2 V547.2 M420.2 92.2 V547.2 M490.2 92.2 V547.2 M560.2 92.2 V547.2 M630.2 92.2 V547.2 M700.2 92.2 V547.2 M70.2 127.2 H770.2 M70.2 197.2 H770.2 M70.2 267.2 H770.2 M70.2 337.2 H770.2 M70.2 407.2 H770.2 M70.2 477.2 H770.2" stroke="#000" stroke-width="1" fill="none" opacity="0.45"/>
<text stroke="#000" stroke-width="0.25" x="450.5" y="111.5" font-size="19.2" text-anchor="middle" transform="rotate(0 450.5 111.5)" dy="6.9">6</text>
<text stroke="#000" stroke-width="0.25" x="483.5" y="117.0" font-size="19.2" text-anchor="middle" transform="rotate(0 483.5 117.0)" dy="6.9">8</text>
<text stroke="#000" stroke-width="0.25" x="523.0" y="148.0" font-size="19.2" text-anchor="middle" transform="rotate(-90 523.0 148.0)" dy="6.9">10</text>
<text stroke="#000" stroke-width="0.25" x="448.5" y="169.5" font-size="19.2" text-anchor="middle" transform="rotate(-28 448.5 169.5)" dy="6.9">12</text>
<text stroke="#000" stroke-width="0.25" x="566.0" y="166.0" font-size="19.2" text-anchor="middle" transform="rotate(55 566.0 166.0)" dy="6.9">14</text>
<text stroke="#000" stroke-width="0.25" x="498.0" y="190.5" font-size="19.2" text-anchor="middle" transform="rotate(0 498.0 190.5)" dy="6.9">16</text>
<text stroke="#000" stroke-width="0.25" x="592.5" y="207.5" font-size="19.2" text-anchor="middle" transform="rotate(0 592.5 207.5)" dy="6.9">16</text>
<text stroke="#000" stroke-width="0.25" x="448.0" y="214.5" font-size="19.2" text-anchor="middle" transform="rotate(-90 448.0 214.5)" dy="6.9">18</text>
<text stroke="#000" stroke-width="0.25" x="540.5" y="223.0" font-size="19.2" text-anchor="middle" transform="rotate(5 540.5 223.0)" dy="6.9">18</text>
<text stroke="#000" stroke-width="0.25" x="323.0" y="232.5" font-size="19.2" text-anchor="middle" transform="rotate(-52 323.0 232.5)" dy="6.9">20</text>
<text stroke="#000" stroke-width="0.25" x="388.5" y="240.0" font-size="19.2" text-anchor="middle" transform="rotate(-30 388.5 240.0)" dy="6.9">20</text>
<text stroke="#000" stroke-width="0.25" x="629.0" y="320.0" font-size="19.2" text-anchor="middle" transform="rotate(30 629.0 320.0)" dy="6.9">20</text>
<text stroke="#000" stroke-width="0.25" x="528.0" y="287.0" font-size="19.2" text-anchor="middle" transform="rotate(-90 528.0 287.0)" dy="6.9">22</text>
<text stroke="#000" stroke-width="0.25" x="646.0" y="402.0" font-size="19.2" text-anchor="middle" transform="rotate(15 646.0 402.0)" dy="6.9">22</text>
<text stroke="#000" stroke-width="0.25" x="236.0" y="287.0" font-size="19.2" text-anchor="middle" transform="rotate(-15 236.0 287.0)" dy="6.9">24</text>
<text stroke="#000" stroke-width="0.25" x="376.5" y="283.0" font-size="19.2" text-anchor="middle" transform="rotate(0 376.5 283.0)" dy="6.9">24</text>
<text stroke="#000" stroke-width="0.25" x="287.0" y="300.5" font-size="19.2" text-anchor="middle" transform="rotate(-25 287.0 300.5)" dy="6.9">26</text>
<text stroke="#000" stroke-width="0.25" x="364.0" y="328.0" font-size="19.2" text-anchor="middle" transform="rotate(55 364.0 328.0)" dy="6.9">26</text>
<text stroke="#000" stroke-width="0.25" x="591.5" y="417.0" font-size="19.2" text-anchor="middle" transform="rotate(0 591.5 417.0)" dy="6.9">26</text>
<text stroke="#000" stroke-width="0.25" x="565.5" y="477.0" font-size="19.2" text-anchor="middle" transform="rotate(0 565.5 477.0)" dy="6.9">28</text>
<text stroke="#000" stroke-width="0.25" x="171.0" y="467.0" font-size="19.2" text-anchor="middle" transform="rotate(-40 171.0 467.0)" dy="6.9">28</text>
<text stroke="#000" stroke-width="0.25" x="315.0" y="185.5" font-size="19.2" text-anchor="middle" transform="rotate(-25 315.0 185.5)" dy="6.9">6</text>
<text stroke="#000" stroke-width="0.25" x="354.5" y="176.5" font-size="19.2" text-anchor="middle" transform="rotate(-5 354.5 176.5)" dy="6.9">8</text>
<text stroke="#000" stroke-width="0.25" x="396.0" y="184.0" font-size="19.2" text-anchor="middle" transform="rotate(52 396.0 184.0)" dy="6.9">10</text>
<text stroke="#000" stroke-width="0.25" x="245.5" y="228.0" font-size="19.2" text-anchor="middle" transform="rotate(-40 245.5 228.0)" dy="6.9">12</text>
<text stroke="#000" stroke-width="0.25" x="186.0" y="276.5" font-size="19.2" text-anchor="middle" transform="rotate(-30 186.0 276.5)" dy="6.9">2</text>
</g>
<rect x="70.2" y="92.2" width="700.0" height="455.0" fill="none" stroke="#000" stroke-width="1"/>
<path d="M70.2 77 V92.2 M70.2 547.2 V562.5 M140.2 77 V92.2 M140.2 547.2 V562.5 M210.2 77 V92.2 M210.2 547.2 V562.5 M280.2 77 V92.2 M280.2 547.2 V562.5 M350.2 77 V92.2 M350.2 547.2 V562.5 M420.2 77 V92.2 M420.2 547.2 V562.5 M490.2 77 V92.2 M490.2 547.2 V562.5 M560.2 77 V92.2 M560.2 547.2 V562.5 M630.2 77 V92.2 M630.2 547.2 V562.5 M700.2 77 V92.2 M700.2 547.2 V562.5 M770.2 77 V92.2 M770.2 547.2 V562.5 M54.5 127.2 H70.2 M770.2 127.2 H785.7 M54.5 197.2 H70.2 M770.2 197.2 H785.7 M54.5 267.2 H70.2 M770.2 267.2 H785.7 M54.5 337.2 H70.2 M770.2 337.2 H785.7 M54.5 407.2 H70.2 M770.2 407.2 H785.7 M54.5 477.2 H70.2 M770.2 477.2 H785.7 M54.5 547.2 H70.2 M770.2 547.2 H785.7" stroke="#000" stroke-width="1" fill="none"/>
<text x="420" y="75" font-size="20.55" font-weight="bold" text-anchor="middle">NWS National Hurricane Center (NCEP/NOAA)</text>
<text x="420.3" y="610.2" font-size="16.5" font-weight="bold" text-anchor="middle">Ocean Analysis - Reynolds Daily Sea Surface Temperature (C) - valid: 2026 - 03 - 13</text>
<text x="44.4" y="133.3" font-size="16.5" text-anchor="end">50N</text>
<text x="44.4" y="203.3" font-size="16.5" text-anchor="end">40N</text>
<text x="44.4" y="273.3" font-size="16.5" text-anchor="end">30N</text>
<text x="44.4" y="343.3" font-size="16.5" text-anchor="end">20N</text>
<text x="44.4" y="413.3" font-size="16.5" text-anchor="end">10N</text>
<text x="44.4" y="483.3" font-size="16.5" text-anchor="end">0</text>
<text x="44.4" y="553.3" font-size="16.5" text-anchor="end">10S</text>
<text x="69.7" y="586.6" font-size="16.1" text-anchor="middle">100W</text>
<text x="139.7" y="586.6" font-size="16.1" text-anchor="middle">90W</text>
<text x="209.7" y="586.6" font-size="16.1" text-anchor="middle">80W</text>
<text x="279.7" y="586.6" font-size="16.1" text-anchor="middle">70W</text>
<text x="349.7" y="586.6" font-size="16.1" text-anchor="middle">60W</text>
<text x="419.7" y="586.6" font-size="16.1" text-anchor="middle">50W</text>
<text x="489.7" y="586.6" font-size="16.1" text-anchor="middle">40W</text>
<text x="559.7" y="586.6" font-size="16.1" text-anchor="middle">30W</text>
<text x="629.7" y="586.6" font-size="16.1" text-anchor="middle">20W</text>
<text x="699.7" y="586.6" font-size="16.1" text-anchor="middle">10W</text>
<text x="769.7" y="586.6" font-size="16.1" text-anchor="middle">0</text>
<rect x="111.50" y="627.5" width="19.27" height="40" fill="#0ac8fa" stroke="#000" stroke-width="0.8"/>
<rect x="130.77" y="627.5" width="19.27" height="40" fill="#14f5fa" stroke="#000" stroke-width="0.8"/>
<rect x="150.03" y="627.5" width="19.27" height="40" fill="#3cfaff" stroke="#000" stroke-width="0.8"/>
<rect x="169.30" y="627.5" width="19.27" height="40" fill="#5afcff" stroke="#000" stroke-width="0.8"/>
<rect x="188.56" y="627.5" width="19.27" height="40" fill="#78fdff" stroke="#000" stroke-width="0.8"/>
<rect x="207.83" y="627.5" width="19.27" height="40" fill="#96ffff" stroke="#000" stroke-width="0.8"/>
<rect x="227.09" y="627.5" width="19.27" height="40" fill="#82ffd2" stroke="#000" stroke-width="0.8"/>
<rect x="246.36" y="627.5" width="19.27" height="40" fill="#6eff9b" stroke="#000" stroke-width="0.8"/>
<rect x="265.62" y="627.5" width="19.27" height="40" fill="#46fa5a" stroke="#000" stroke-width="0.8"/>
<rect x="284.89" y="627.5" width="19.27" height="40" fill="#1ef532" stroke="#000" stroke-width="0.8"/>
<rect x="304.16" y="627.5" width="19.27" height="40" fill="#0af00a" stroke="#000" stroke-width="0.8"/>
<rect x="323.42" y="627.5" width="19.27" height="40" fill="#3cf80a" stroke="#000" stroke-width="0.8"/>
<rect x="342.69" y="627.5" width="19.27" height="40" fill="#64fa0a" stroke="#000" stroke-width="0.8"/>
<rect x="361.95" y="627.5" width="19.27" height="40" fill="#8cfa0a" stroke="#000" stroke-width="0.8"/>
<rect x="381.22" y="627.5" width="19.27" height="40" fill="#b4fa0a" stroke="#000" stroke-width="0.8"/>
<rect x="400.48" y="627.5" width="19.27" height="40" fill="#d0fc0a" stroke="#000" stroke-width="0.8"/>
<rect x="419.75" y="627.5" width="19.27" height="40" fill="#daff0c" stroke="#000" stroke-width="0.8"/>
<rect x="439.02" y="627.5" width="19.27" height="40" fill="#e4ff0f" stroke="#000" stroke-width="0.8"/>
<rect x="458.28" y="627.5" width="19.27" height="40" fill="#eeff0f" stroke="#000" stroke-width="0.8"/>
<rect x="477.55" y="627.5" width="19.27" height="40" fill="#f7ff0f" stroke="#000" stroke-width="0.8"/>
<rect x="496.81" y="627.5" width="19.27" height="40" fill="#ffff14" stroke="#000" stroke-width="0.8"/>
<rect x="516.08" y="627.5" width="19.27" height="40" fill="#ffee0a" stroke="#000" stroke-width="0.8"/>
<rect x="535.34" y="627.5" width="19.27" height="40" fill="#ffdc05" stroke="#000" stroke-width="0.8"/>
<rect x="554.61" y="627.5" width="19.27" height="40" fill="#ffc300" stroke="#000" stroke-width="0.8"/>
<rect x="573.88" y="627.5" width="19.27" height="40" fill="#ffaa05" stroke="#000" stroke-width="0.8"/>
<rect x="593.14" y="627.5" width="19.27" height="40" fill="#ff9605" stroke="#000" stroke-width="0.8"/>
<rect x="612.41" y="627.5" width="19.27" height="40" fill="#ff7d05" stroke="#000" stroke-width="0.8"/>
<rect x="631.67" y="627.5" width="19.27" height="40" fill="#ff6405" stroke="#000" stroke-width="0.8"/>
<rect x="650.94" y="627.5" width="19.27" height="40" fill="#ff5005" stroke="#000" stroke-width="0.8"/>
<rect x="670.20" y="627.5" width="19.27" height="40" fill="#ff3c0a" stroke="#000" stroke-width="0.8"/>
<rect x="689.47" y="627.5" width="19.27" height="40" fill="#ff2d0f" stroke="#000" stroke-width="0.8"/>
<rect x="708.73" y="627.5" width="19.27" height="40" fill="#ff190a" stroke="#000" stroke-width="0.8"/>
<text x="130.8" y="696" font-size="21.5" text-anchor="middle">5</text>
<text x="227.1" y="696" font-size="21.5" text-anchor="middle">10</text>
<text x="323.4" y="696" font-size="21.5" text-anchor="middle">15</text>
<text x="419.8" y="696" font-size="21.5" text-anchor="middle">20</text>
<text x="516.1" y="696" font-size="21.5" text-anchor="middle">25</text>
<text x="612.4" y="696" font-size="21.5" text-anchor="middle">30</text>
<text x="708.7" y="696" font-size="21.5" text-anchor="middle">35</text>
<text x="776" y="723" font-size="13.78" text-anchor="end">Data Source: National Climatic Data Center (NCDC/NOAA)</text>
<defs><clipPath id="nc"><circle cx="40.3" cy="40.3" r="26.0"/></clipPath>
<path id="na1" d="M13.60 45.98 A27.30 27.30 0 0 1 40.30 13.00 A27.30 27.30 0 0 1 67.00 45.98"/>
<path id="na2" d="M11.55 50.77 A30.60 30.60 0 0 0 39.77 70.90 A30.60 30.60 0 0 0 68.67 51.76"/>
</defs>
<g clip-path="url(#nc)">
<circle cx="40.3" cy="40.3" r="26.0" fill="#2b9df2"/>
<path d="M8 8 H74 V25.5 L63.6 25.8 C58 31 53 37 48 41.5 Q43.5 45 40.3 44.8 Q36.5 44.8 33 41.5 C28 36 24 29 19.5 24 L8 26 Z" fill="#15157a"/>
<path d="M12.5 28.5 L19.3 23.6 C24 29 28 36 33 41.5 Q36.5 44.9 40.3 45.6 Q44 45.6 48.5 41.8 C54 36.5 59 30.5 64.8 25.2 L66.5 27.5 C60 33.5 55.5 39 51.5 43 Q50 44.6 49 45.8 Q46 47.2 42.5 47.6 Q37 50 32.2 49.8 Q35.5 48.3 35 47.3 C30 43.5 25 38.5 20.5 36 Q17 34.2 13 33.8 Z" fill="#fff"/>
</g>
<text x="39.8" y="31.6" font-size="8.6" font-weight="bold" fill="#fff" text-anchor="middle" textLength="20.5" lengthAdjust="spacingAndGlyphs">NOAA</text>
<text font-size="3.4" fill="#1c2a7a" font-weight="bold"><textPath href="#na1" textLength="96" lengthAdjust="spacingAndGlyphs">NATIONAL OCEANIC AND ATMOSPHERIC ADMINISTRATION</textPath></text>
<text font-size="3.4" fill="#1c2a7a" font-weight="bold"><textPath href="#na2" textLength="70" lengthAdjust="spacingAndGlyphs">U.S. DEPARTMENT OF COMMERCE</textPath></text>
<text x="61.5" y="17.2" font-size="3.5" fill="#3a9a3a">®</text>
<defs><clipPath id="wc"><circle cx="760.2" cy="40.2" r="18.2"/></clipPath>
<path id="wa" d="M748.06 59.62 A22.90 22.90 0 0 1 760.00 17.30 A22.90 22.90 0 0 1 772.67 59.41"/>
</defs>
<g clip-path="url(#wc)">
<circle cx="760.2" cy="40.2" r="18.2" fill="#38a6e2"/>
<polygon points="760.2,42.2 748.0,25.6 750.7,23.7" fill="#7fc8ef"/>
<polygon points="760.2,42.2 753.7,22.3 756.9,21.5" fill="#7fc8ef"/>
<polygon points="760.2,42.2 760.2,21.2 763.5,21.5" fill="#7fc8ef"/>
<polygon points="760.2,42.2 766.7,22.3 769.7,23.7" fill="#7fc8ef"/>
<polygon points="760.2,42.2 772.4,25.6 774.8,28.0" fill="#7fc8ef"/>
<path d="M740 49 Q746 46.5 752 49.5 T764 50.5 T780 48 V54 Q772 57 764 55 T748 55 T740 55 Z" fill="#fff"/>
</g>
<ellipse cx="760.0" cy="39.5" rx="19.5" ry="8.5" fill="#1616a6"/>
<ellipse cx="750.0" cy="35.6" rx="7.0" ry="5.6" fill="#1616a6"/>
<ellipse cx="760.0" cy="33.9" rx="7.5" ry="6.0" fill="#1616a6"/>
<ellipse cx="770.0" cy="35.2" rx="7.0" ry="5.6" fill="#1616a6"/>
<ellipse cx="744.5" cy="40.0" rx="6.0" ry="5.8" fill="#1616a6"/>
<ellipse cx="776.5" cy="38.5" rx="5.5" ry="5.5" fill="#1616a6"/>
<ellipse cx="750.0" cy="45.0" rx="7.0" ry="5.0" fill="#1616a6"/>
<ellipse cx="761.0" cy="46.5" rx="7.0" ry="4.8" fill="#1616a6"/>
<ellipse cx="771.0" cy="44.5" rx="6.5" ry="5.0" fill="#1616a6"/>
<polygon points="746,24.4 751.3,24.8 760.2,34 757.8,35 767.2,44.5 764.8,45.5 774.6,56 763.2,47.6 765.6,46.6 755.2,37.6 757.6,36.6" fill="#fff" stroke="#22227a" stroke-width="0.35"/>
<text font-size="9.4" font-weight="bold" fill="#e8262b"><textPath href="#wa" textLength="117.5" lengthAdjust="spacingAndGlyphs">NATIONAL WEATHER SERVICE</textPath></text>
<circle cx="752.6" cy="65.1" r="0.9" fill="#2a2ab0"/><circle cx="767.2" cy="65.1" r="0.9" fill="#2a2ab0"/>
<polygon points="760.20,63.80 760.67,65.05 762.01,65.11 760.96,65.95 761.32,67.24 760.20,66.50 759.08,67.24 759.44,65.95 758.39,65.11 759.73,65.05" fill="#e8262b"/>
</svg></body></html>
